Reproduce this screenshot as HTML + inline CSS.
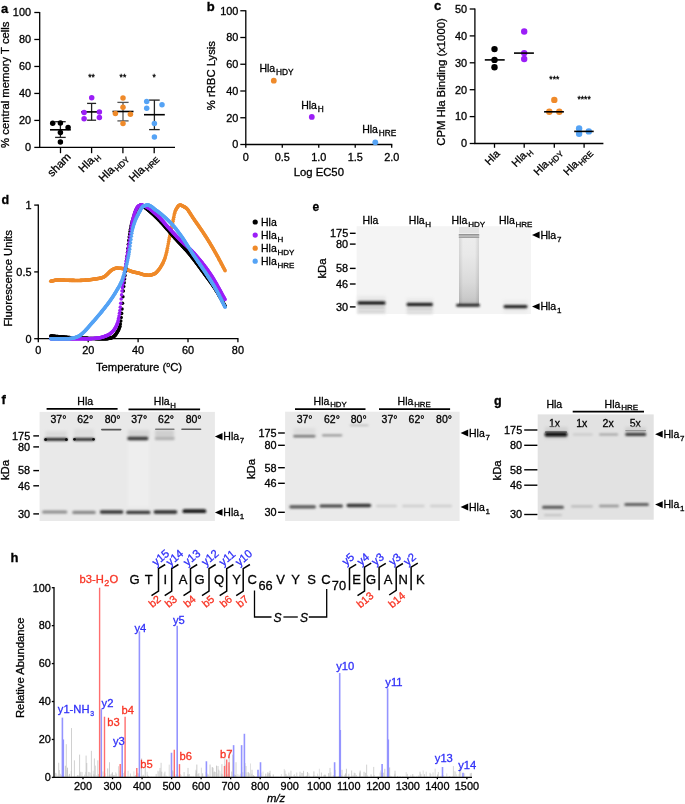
<!DOCTYPE html>
<html><head><meta charset="utf-8"><style>
html,body{margin:0;padding:0;background:#fff;}
body{width:685px;height:804px;overflow:hidden;}
text{stroke-width:0.3px;}
svg{display:block;font-family:"Liberation Sans",sans-serif;-webkit-font-smoothing:antialiased;will-change:transform;}
</style></head><body>
<svg width="685" height="804" viewBox="0 0 685 804">
<defs>
<filter id="b1" x="-10%" y="-300%" width="120%" height="700%"><feGaussianBlur stdDeviation="0.75"/></filter>
<filter id="b3" x="-10%" y="-300%" width="120%" height="700%"><feGaussianBlur stdDeviation="0.8"/></filter>
<filter id="b2" x="-20%" y="-50%" width="140%" height="200%"><feGaussianBlur stdDeviation="1.5"/></filter>
</defs>
<rect width="685" height="804" fill="#fff"/>
<text x="1" y="12.9" font-size="13" stroke="#000" font-weight="bold" >a</text>
<line x1="39.7" y1="11.9" x2="39.7" y2="148" stroke="#000" stroke-width="1.3" />
<line x1="39.1" y1="147.4" x2="175" y2="147.4" stroke="#000" stroke-width="1.3" />
<line x1="34.3" y1="147.4" x2="39.7" y2="147.4" stroke="#000" stroke-width="1.3" />
<text x="31" y="151.2" font-size="10.9" text-anchor="end" stroke="#000" >0</text>
<line x1="34.3" y1="120.42" x2="39.7" y2="120.42" stroke="#000" stroke-width="1.3" />
<text x="31" y="124.22" font-size="10.9" text-anchor="end" stroke="#000" >20</text>
<line x1="34.3" y1="93.44" x2="39.7" y2="93.44" stroke="#000" stroke-width="1.3" />
<text x="31" y="97.24" font-size="10.9" text-anchor="end" stroke="#000" >40</text>
<line x1="34.3" y1="66.46" x2="39.7" y2="66.46" stroke="#000" stroke-width="1.3" />
<text x="31" y="70.26" font-size="10.9" text-anchor="end" stroke="#000" >60</text>
<line x1="34.3" y1="39.48" x2="39.7" y2="39.48" stroke="#000" stroke-width="1.3" />
<text x="31" y="43.28" font-size="10.9" text-anchor="end" stroke="#000" >80</text>
<line x1="34.3" y1="12.5" x2="39.7" y2="12.5" stroke="#000" stroke-width="1.3" />
<text x="31" y="16.3" font-size="10.9" text-anchor="end" stroke="#000" >100</text>
<line x1="60.5" y1="147.4" x2="60.5" y2="153.2" stroke="#000" stroke-width="1.3" />
<line x1="91.6" y1="147.4" x2="91.6" y2="153.2" stroke="#000" stroke-width="1.3" />
<line x1="122.9" y1="147.4" x2="122.9" y2="153.2" stroke="#000" stroke-width="1.3" />
<line x1="154.2" y1="147.4" x2="154.2" y2="153.2" stroke="#000" stroke-width="1.3" />
<text x="9.1" y="84.7" font-size="11.3" text-anchor="middle" stroke="#000" transform="rotate(-90 9.1 84.7)" >% central memory T cells</text>
<text x="71.5" y="157.6" font-size="11.3" text-anchor="end" stroke="#000" transform="rotate(-45 71.5 157.6)" >sham</text>
<text x="99.6" y="156.3" font-size="11.3" text-anchor="end" stroke="#000" transform="rotate(-45 99.6 156.3)" >Hla<tspan font-size="8.0" dx="0.8" dy="3.0">H</tspan></text>
<text x="127.8" y="158" font-size="11.3" text-anchor="end" stroke="#000" transform="rotate(-45 127.8 158)" >Hla<tspan font-size="8.0" dx="0.8" dy="3.0">HDY</tspan></text>
<text x="158" y="158" font-size="11.3" text-anchor="end" stroke="#000" transform="rotate(-45 158 158)" >Hla<tspan font-size="8.0" dx="0.8" dy="3.0">HRE</tspan></text>
<line x1="60.4" y1="121.7" x2="60.4" y2="137.4" stroke="#222" stroke-width="1.3" />
<line x1="55.1" y1="121.7" x2="65.7" y2="121.7" stroke="#222" stroke-width="1.3" />
<line x1="55.1" y1="137.4" x2="65.7" y2="137.4" stroke="#222" stroke-width="1.3" />
<line x1="50" y1="129.8" x2="70.8" y2="129.8" stroke="#000" stroke-width="1.6" />
<circle cx="52.7" cy="123.2" r="2.75" fill="#000"/>
<circle cx="60.4" cy="123" r="2.75" fill="#000"/>
<circle cx="68.1" cy="127.4" r="2.75" fill="#000"/>
<circle cx="60.4" cy="132.6" r="2.75" fill="#000"/>
<circle cx="60.4" cy="142.1" r="2.75" fill="#000"/>
<line x1="91.6" y1="103.4" x2="91.6" y2="120.2" stroke="#222" stroke-width="1.3" />
<line x1="87.1" y1="103.4" x2="96.1" y2="103.4" stroke="#222" stroke-width="1.3" />
<line x1="87.1" y1="120.2" x2="96.1" y2="120.2" stroke="#222" stroke-width="1.3" />
<line x1="81.2" y1="111.9" x2="102" y2="111.9" stroke="#000" stroke-width="1.6" />
<circle cx="91.7" cy="97.7" r="2.75" fill="#9B1EF7"/>
<circle cx="84.1" cy="112.6" r="2.75" fill="#9B1EF7"/>
<circle cx="99.4" cy="111.9" r="2.75" fill="#9B1EF7"/>
<circle cx="84.1" cy="118.7" r="2.75" fill="#9B1EF7"/>
<circle cx="99.4" cy="117.6" r="2.75" fill="#9B1EF7"/>
<line x1="123" y1="102.4" x2="123" y2="120.9" stroke="#555" stroke-width="1.3" />
<line x1="117.4" y1="102.4" x2="128.6" y2="102.4" stroke="#555" stroke-width="1.3" />
<line x1="117.4" y1="120.9" x2="128.6" y2="120.9" stroke="#555" stroke-width="1.3" />
<line x1="112.5" y1="111.5" x2="133.5" y2="111.5" stroke="#000" stroke-width="1.6" />
<circle cx="123" cy="98" r="2.75" fill="#EF8A2A"/>
<circle cx="123" cy="107.3" r="2.75" fill="#EF8A2A"/>
<circle cx="115.4" cy="113.6" r="2.75" fill="#EF8A2A"/>
<circle cx="130.4" cy="114.3" r="2.75" fill="#EF8A2A"/>
<circle cx="123" cy="123.5" r="2.75" fill="#EF8A2A"/>
<line x1="154.4" y1="100.1" x2="154.4" y2="129.6" stroke="#222" stroke-width="1.3" />
<line x1="149.1" y1="100.1" x2="159.7" y2="100.1" stroke="#222" stroke-width="1.3" />
<line x1="149.1" y1="129.6" x2="159.7" y2="129.6" stroke="#222" stroke-width="1.3" />
<line x1="144" y1="114.7" x2="164.8" y2="114.7" stroke="#000" stroke-width="1.6" />
<circle cx="146.7" cy="101.6" r="2.75" fill="#55A3F5"/>
<circle cx="146.7" cy="108.2" r="2.75" fill="#55A3F5"/>
<circle cx="162" cy="104.7" r="2.75" fill="#55A3F5"/>
<circle cx="154.4" cy="123.5" r="2.75" fill="#55A3F5"/>
<circle cx="154.4" cy="136.9" r="2.75" fill="#55A3F5"/>
<text x="91.6" y="80" font-size="8.5" text-anchor="middle" stroke="#000" >**</text>
<text x="122.9" y="80" font-size="8.5" text-anchor="middle" stroke="#000" >**</text>
<text x="154.2" y="80" font-size="8.5" text-anchor="middle" stroke="#000" >*</text>
<text x="206.8" y="10.6" font-size="13" stroke="#000" font-weight="bold" >b</text>
<line x1="245.8" y1="10.15" x2="245.8" y2="145.1" stroke="#000" stroke-width="1.3" />
<line x1="245.2" y1="144.5" x2="392.3" y2="144.5" stroke="#000" stroke-width="1.3" />
<line x1="240.3" y1="144.5" x2="245.8" y2="144.5" stroke="#000" stroke-width="1.3" />
<text x="238.3" y="148.3" font-size="10.9" text-anchor="end" stroke="#000" >0</text>
<line x1="240.3" y1="117.75" x2="245.8" y2="117.75" stroke="#000" stroke-width="1.3" />
<text x="238.3" y="121.55" font-size="10.9" text-anchor="end" stroke="#000" >20</text>
<line x1="240.3" y1="91" x2="245.8" y2="91" stroke="#000" stroke-width="1.3" />
<text x="238.3" y="94.8" font-size="10.9" text-anchor="end" stroke="#000" >40</text>
<line x1="240.3" y1="64.25" x2="245.8" y2="64.25" stroke="#000" stroke-width="1.3" />
<text x="238.3" y="68.05" font-size="10.9" text-anchor="end" stroke="#000" >60</text>
<line x1="240.3" y1="37.5" x2="245.8" y2="37.5" stroke="#000" stroke-width="1.3" />
<text x="238.3" y="41.3" font-size="10.9" text-anchor="end" stroke="#000" >80</text>
<line x1="240.3" y1="10.75" x2="245.8" y2="10.75" stroke="#000" stroke-width="1.3" />
<text x="238.3" y="14.55" font-size="10.9" text-anchor="end" stroke="#000" >100</text>
<line x1="245.8" y1="144.5" x2="245.8" y2="147.8" stroke="#000" stroke-width="1.3" />
<text x="245.8" y="161" font-size="10.9" text-anchor="middle" stroke="#000" >0</text>
<line x1="282.28" y1="144.5" x2="282.28" y2="147.8" stroke="#000" stroke-width="1.3" />
<text x="282.28" y="161" font-size="10.9" text-anchor="middle" stroke="#000" >0.5</text>
<line x1="318.75" y1="144.5" x2="318.75" y2="147.8" stroke="#000" stroke-width="1.3" />
<text x="318.75" y="161" font-size="10.9" text-anchor="middle" stroke="#000" >1.0</text>
<line x1="355.23" y1="144.5" x2="355.23" y2="147.8" stroke="#000" stroke-width="1.3" />
<text x="355.23" y="161" font-size="10.9" text-anchor="middle" stroke="#000" >1.5</text>
<line x1="391.7" y1="144.5" x2="391.7" y2="147.8" stroke="#000" stroke-width="1.3" />
<text x="391.7" y="161" font-size="10.9" text-anchor="middle" stroke="#000" >2.0</text>
<text x="318.8" y="176" font-size="11.3" text-anchor="middle" stroke="#000" >Log EC50</text>
<text x="215.4" y="75.6" font-size="11.3" text-anchor="middle" stroke="#000" transform="rotate(-90 215.4 75.6)" >% rRBC Lysis</text>
<circle cx="273.8" cy="80.7" r="2.9" fill="#EF8A2A"/>
<circle cx="311.8" cy="116.9" r="2.9" fill="#9B1EF7"/>
<circle cx="375.3" cy="142.3" r="2.9" fill="#55A3F5"/>
<text x="259.4" y="72" font-size="10.5" stroke="#000" >Hla<tspan font-size="8.3" dx="0.8" dy="3.0">HDY</tspan></text>
<text x="301.2" y="109" font-size="10.5" stroke="#000" >Hla<tspan font-size="8.3" dx="0.8" dy="3.0">H</tspan></text>
<text x="362.2" y="133.1" font-size="10.5" stroke="#000" >Hla<tspan font-size="8.3" dx="0.8" dy="3.0">HRE</tspan></text>
<text x="434" y="9.8" font-size="13" stroke="#000" font-weight="bold" >c</text>
<line x1="474.9" y1="8.4" x2="474.9" y2="144.1" stroke="#000" stroke-width="1.3" />
<line x1="474.3" y1="143.5" x2="603.4" y2="143.5" stroke="#000" stroke-width="1.3" />
<line x1="469.7" y1="143.5" x2="474.9" y2="143.5" stroke="#000" stroke-width="1.3" />
<text x="467" y="147.3" font-size="10.9" text-anchor="end" stroke="#000" >0</text>
<line x1="469.7" y1="116.6" x2="474.9" y2="116.6" stroke="#000" stroke-width="1.3" />
<text x="467" y="120.4" font-size="10.9" text-anchor="end" stroke="#000" >10</text>
<line x1="469.7" y1="89.7" x2="474.9" y2="89.7" stroke="#000" stroke-width="1.3" />
<text x="467" y="93.5" font-size="10.9" text-anchor="end" stroke="#000" >20</text>
<line x1="469.7" y1="62.8" x2="474.9" y2="62.8" stroke="#000" stroke-width="1.3" />
<text x="467" y="66.6" font-size="10.9" text-anchor="end" stroke="#000" >30</text>
<line x1="469.7" y1="35.9" x2="474.9" y2="35.9" stroke="#000" stroke-width="1.3" />
<text x="467" y="39.7" font-size="10.9" text-anchor="end" stroke="#000" >40</text>
<line x1="469.7" y1="9" x2="474.9" y2="9" stroke="#000" stroke-width="1.3" />
<text x="467" y="12.8" font-size="10.9" text-anchor="end" stroke="#000" >50</text>
<line x1="494.5" y1="143.5" x2="494.5" y2="147.8" stroke="#000" stroke-width="1.3" />
<line x1="524.2" y1="143.5" x2="524.2" y2="147.8" stroke="#000" stroke-width="1.3" />
<line x1="554.3" y1="143.5" x2="554.3" y2="147.8" stroke="#000" stroke-width="1.3" />
<line x1="584.1" y1="143.5" x2="584.1" y2="147.8" stroke="#000" stroke-width="1.3" />
<text x="445.3" y="82" font-size="11.3" text-anchor="middle" stroke="#000" transform="rotate(-90 445.3 82)" >CPM Hla Binding (x1000)</text>
<text x="500.5" y="154.4" font-size="10.7" text-anchor="end" stroke="#000" transform="rotate(-45 500.5 154.4)" >Hla</text>
<text x="532" y="151.4" font-size="10.7" text-anchor="end" stroke="#000" transform="rotate(-45 532 151.4)" >Hla<tspan font-size="8.0" dx="0.8" dy="3.0">H</tspan></text>
<text x="561.8" y="152.2" font-size="10.7" text-anchor="end" stroke="#000" transform="rotate(-45 561.8 152.2)" >Hla<tspan font-size="8.0" dx="0.8" dy="3.0">HDY</tspan></text>
<text x="591.6" y="152.2" font-size="10.7" text-anchor="end" stroke="#000" transform="rotate(-45 591.6 152.2)" >Hla<tspan font-size="8.0" dx="0.8" dy="3.0">HRE</tspan></text>
<circle cx="494.5" cy="49.1" r="3.2" fill="#000"/>
<circle cx="494.5" cy="59.9" r="3.2" fill="#000"/>
<circle cx="494.5" cy="67.2" r="3.2" fill="#000"/>
<line x1="484.8" y1="59.9" x2="504.7" y2="59.9" stroke="#000" stroke-width="1.6" />
<circle cx="524.2" cy="31.5" r="3.2" fill="#9B1EF7"/>
<circle cx="524.2" cy="53.1" r="3.2" fill="#9B1EF7"/>
<circle cx="524.2" cy="59" r="3.2" fill="#9B1EF7"/>
<line x1="514" y1="53.1" x2="533.9" y2="53.1" stroke="#000" stroke-width="1.6" />
<circle cx="554.3" cy="99.9" r="3.2" fill="#EF8A2A"/>
<circle cx="549.3" cy="111.8" r="3.2" fill="#EF8A2A"/>
<circle cx="559.3" cy="111.8" r="3.2" fill="#EF8A2A"/>
<line x1="544.1" y1="111.8" x2="563.9" y2="111.8" stroke="#000" stroke-width="1.6" />
<circle cx="579.1" cy="128.5" r="3.2" fill="#55A3F5"/>
<circle cx="579.1" cy="133.7" r="3.2" fill="#55A3F5"/>
<circle cx="588.8" cy="131.4" r="3.2" fill="#55A3F5"/>
<line x1="574.2" y1="131.4" x2="593.7" y2="131.4" stroke="#000" stroke-width="1.6" />
<text x="554.3" y="82.3" font-size="8.5" text-anchor="middle" stroke="#000" >***</text>
<text x="584.1" y="101.6" font-size="8.5" text-anchor="middle" stroke="#000" >****</text>
<text x="1.4" y="204" font-size="12.5" stroke="#000" font-weight="bold" >d</text>
<line x1="38.3" y1="204.5" x2="38.3" y2="339.3" stroke="#000" stroke-width="1.3" />
<line x1="37.7" y1="338.7" x2="238.5" y2="338.7" stroke="#000" stroke-width="1.3" />
<line x1="34.2" y1="338.7" x2="38.3" y2="338.7" stroke="#000" stroke-width="1.3" />
<text x="31.5" y="342.5" font-size="10.9" text-anchor="end" stroke="#000" >0</text>
<line x1="34.2" y1="271.9" x2="38.3" y2="271.9" stroke="#000" stroke-width="1.3" />
<text x="31.5" y="275.7" font-size="10.9" text-anchor="end" stroke="#000" >0.5</text>
<line x1="34.2" y1="205.1" x2="38.3" y2="205.1" stroke="#000" stroke-width="1.3" />
<text x="31.5" y="208.9" font-size="10.9" text-anchor="end" stroke="#000" >1</text>
<line x1="38.3" y1="338.7" x2="38.3" y2="342.3" stroke="#000" stroke-width="1.3" />
<text x="38.3" y="353.8" font-size="10.9" text-anchor="middle" stroke="#000" >0</text>
<line x1="88.2" y1="338.7" x2="88.2" y2="342.3" stroke="#000" stroke-width="1.3" />
<text x="88.2" y="353.8" font-size="10.9" text-anchor="middle" stroke="#000" >20</text>
<line x1="138.1" y1="338.7" x2="138.1" y2="342.3" stroke="#000" stroke-width="1.3" />
<text x="138.1" y="353.8" font-size="10.9" text-anchor="middle" stroke="#000" >40</text>
<line x1="188" y1="338.7" x2="188" y2="342.3" stroke="#000" stroke-width="1.3" />
<text x="188" y="353.8" font-size="10.9" text-anchor="middle" stroke="#000" >60</text>
<line x1="237.9" y1="338.7" x2="237.9" y2="342.3" stroke="#000" stroke-width="1.3" />
<text x="237.9" y="353.8" font-size="10.9" text-anchor="middle" stroke="#000" >80</text>
<text x="139" y="370.5" font-size="11.3" text-anchor="middle" stroke="#000" >Temperature (<tspan font-size="7" dy="-3.5">o</tspan><tspan dy="3.5">C)</tspan></text>
<text x="12" y="278.5" font-size="11.3" text-anchor="middle" stroke="#000" transform="rotate(-90 12 278.5)" >Fluorescence Units</text>
<g fill="#EF8A2A"><circle cx="50.77" cy="281.25" r="1.8"/><circle cx="51.2" cy="281.17" r="1.8"/><circle cx="51.62" cy="281.09" r="1.8"/><circle cx="52.05" cy="280.99" r="1.8"/><circle cx="52.47" cy="280.9" r="1.8"/><circle cx="52.9" cy="280.8" r="1.8"/><circle cx="53.32" cy="280.7" r="1.8"/><circle cx="53.74" cy="280.6" r="1.8"/><circle cx="54.17" cy="280.5" r="1.8"/><circle cx="54.59" cy="280.4" r="1.8"/><circle cx="55.02" cy="280.31" r="1.8"/><circle cx="55.44" cy="280.22" r="1.8"/><circle cx="55.86" cy="280.15" r="1.8"/><circle cx="56.29" cy="280.08" r="1.8"/><circle cx="56.71" cy="280.02" r="1.8"/><circle cx="57.14" cy="279.97" r="1.8"/><circle cx="57.56" cy="279.94" r="1.8"/><circle cx="57.99" cy="279.92" r="1.8"/><circle cx="58.41" cy="279.92" r="1.8"/><circle cx="58.83" cy="279.92" r="1.8"/><circle cx="59.26" cy="279.93" r="1.8"/><circle cx="59.68" cy="279.93" r="1.8"/><circle cx="60.11" cy="279.95" r="1.8"/><circle cx="60.53" cy="279.96" r="1.8"/><circle cx="60.95" cy="279.98" r="1.8"/><circle cx="61.38" cy="280" r="1.8"/><circle cx="61.8" cy="280.02" r="1.8"/><circle cx="62.23" cy="280.04" r="1.8"/><circle cx="62.65" cy="280.06" r="1.8"/><circle cx="63.08" cy="280.08" r="1.8"/><circle cx="63.5" cy="280.11" r="1.8"/><circle cx="63.92" cy="280.13" r="1.8"/><circle cx="64.35" cy="280.15" r="1.8"/><circle cx="64.77" cy="280.18" r="1.8"/><circle cx="65.2" cy="280.2" r="1.8"/><circle cx="65.62" cy="280.22" r="1.8"/><circle cx="66.04" cy="280.24" r="1.8"/><circle cx="66.47" cy="280.26" r="1.8"/><circle cx="66.89" cy="280.28" r="1.8"/><circle cx="67.32" cy="280.29" r="1.8"/><circle cx="67.74" cy="280.3" r="1.8"/><circle cx="68.17" cy="280.32" r="1.8"/><circle cx="68.59" cy="280.32" r="1.8"/><circle cx="69.01" cy="280.33" r="1.8"/><circle cx="69.44" cy="280.34" r="1.8"/><circle cx="69.86" cy="280.35" r="1.8"/><circle cx="70.29" cy="280.36" r="1.8"/><circle cx="70.71" cy="280.37" r="1.8"/><circle cx="71.13" cy="280.37" r="1.8"/><circle cx="71.56" cy="280.38" r="1.8"/><circle cx="71.98" cy="280.39" r="1.8"/><circle cx="72.41" cy="280.4" r="1.8"/><circle cx="72.83" cy="280.4" r="1.8"/><circle cx="73.25" cy="280.41" r="1.8"/><circle cx="73.68" cy="280.42" r="1.8"/><circle cx="74.1" cy="280.42" r="1.8"/><circle cx="74.53" cy="280.43" r="1.8"/><circle cx="74.95" cy="280.43" r="1.8"/><circle cx="75.38" cy="280.44" r="1.8"/><circle cx="75.8" cy="280.44" r="1.8"/><circle cx="76.22" cy="280.44" r="1.8"/><circle cx="76.65" cy="280.45" r="1.8"/><circle cx="77.07" cy="280.45" r="1.8"/><circle cx="77.5" cy="280.45" r="1.8"/><circle cx="77.92" cy="280.45" r="1.8"/><circle cx="78.34" cy="280.45" r="1.8"/><circle cx="78.77" cy="280.45" r="1.8"/><circle cx="79.19" cy="280.44" r="1.8"/><circle cx="79.62" cy="280.44" r="1.8"/><circle cx="80.04" cy="280.43" r="1.8"/><circle cx="80.47" cy="280.41" r="1.8"/><circle cx="80.89" cy="280.4" r="1.8"/><circle cx="81.31" cy="280.38" r="1.8"/><circle cx="81.74" cy="280.36" r="1.8"/><circle cx="82.16" cy="280.34" r="1.8"/><circle cx="82.59" cy="280.32" r="1.8"/><circle cx="83.01" cy="280.29" r="1.8"/><circle cx="83.43" cy="280.27" r="1.8"/><circle cx="83.86" cy="280.24" r="1.8"/><circle cx="84.28" cy="280.21" r="1.8"/><circle cx="84.71" cy="280.18" r="1.8"/><circle cx="85.13" cy="280.15" r="1.8"/><circle cx="85.56" cy="280.12" r="1.8"/><circle cx="85.98" cy="280.09" r="1.8"/><circle cx="86.4" cy="280.06" r="1.8"/><circle cx="86.83" cy="280.02" r="1.8"/><circle cx="87.25" cy="279.99" r="1.8"/><circle cx="87.68" cy="279.96" r="1.8"/><circle cx="88.1" cy="279.92" r="1.8"/><circle cx="88.52" cy="279.89" r="1.8"/><circle cx="88.95" cy="279.85" r="1.8"/><circle cx="89.37" cy="279.8" r="1.8"/><circle cx="89.8" cy="279.75" r="1.8"/><circle cx="90.22" cy="279.7" r="1.8"/><circle cx="90.65" cy="279.64" r="1.8"/><circle cx="91.07" cy="279.58" r="1.8"/><circle cx="91.49" cy="279.52" r="1.8"/><circle cx="91.92" cy="279.46" r="1.8"/><circle cx="92.34" cy="279.39" r="1.8"/><circle cx="92.77" cy="279.33" r="1.8"/><circle cx="93.19" cy="279.26" r="1.8"/><circle cx="93.61" cy="279.2" r="1.8"/><circle cx="94.04" cy="279.14" r="1.8"/><circle cx="94.46" cy="279.08" r="1.8"/><circle cx="94.89" cy="279.02" r="1.8"/><circle cx="95.31" cy="278.96" r="1.8"/><circle cx="95.73" cy="278.9" r="1.8"/><circle cx="96.16" cy="278.84" r="1.8"/><circle cx="96.58" cy="278.79" r="1.8"/><circle cx="97.01" cy="278.72" r="1.8"/><circle cx="97.43" cy="278.66" r="1.8"/><circle cx="97.86" cy="278.6" r="1.8"/><circle cx="98.28" cy="278.53" r="1.8"/><circle cx="98.7" cy="278.45" r="1.8"/><circle cx="99.13" cy="278.37" r="1.8"/><circle cx="99.55" cy="278.29" r="1.8"/><circle cx="99.98" cy="278.2" r="1.8"/><circle cx="100.4" cy="278.1" r="1.8"/><circle cx="100.82" cy="278" r="1.8"/><circle cx="101.25" cy="277.9" r="1.8"/><circle cx="101.67" cy="277.78" r="1.8"/><circle cx="102.1" cy="277.66" r="1.8"/><circle cx="102.52" cy="277.52" r="1.8"/><circle cx="102.95" cy="277.37" r="1.8"/><circle cx="103.37" cy="277.21" r="1.8"/><circle cx="103.79" cy="277.03" r="1.8"/><circle cx="104.22" cy="276.82" r="1.8"/><circle cx="104.64" cy="276.55" r="1.8"/><circle cx="105.07" cy="276.23" r="1.8"/><circle cx="105.49" cy="275.87" r="1.8"/><circle cx="105.91" cy="275.49" r="1.8"/><circle cx="106.34" cy="275.1" r="1.8"/><circle cx="106.76" cy="274.71" r="1.8"/><circle cx="107.19" cy="274.32" r="1.8"/><circle cx="107.61" cy="273.91" r="1.8"/><circle cx="108.04" cy="273.47" r="1.8"/><circle cx="108.46" cy="273.02" r="1.8"/><circle cx="108.88" cy="272.58" r="1.8"/><circle cx="109.31" cy="272.15" r="1.8"/><circle cx="109.73" cy="271.74" r="1.8"/><circle cx="110.16" cy="271.37" r="1.8"/><circle cx="110.58" cy="271.01" r="1.8"/><circle cx="111" cy="270.66" r="1.8"/><circle cx="111.43" cy="270.32" r="1.8"/><circle cx="111.85" cy="270" r="1.8"/><circle cx="112.28" cy="269.71" r="1.8"/><circle cx="112.7" cy="269.45" r="1.8"/><circle cx="113.13" cy="269.24" r="1.8"/><circle cx="113.55" cy="269.05" r="1.8"/><circle cx="113.97" cy="268.87" r="1.8"/><circle cx="114.4" cy="268.69" r="1.8"/><circle cx="114.82" cy="268.53" r="1.8"/><circle cx="115.25" cy="268.39" r="1.8"/><circle cx="115.67" cy="268.28" r="1.8"/><circle cx="116.09" cy="268.2" r="1.8"/><circle cx="116.52" cy="268.16" r="1.8"/><circle cx="116.94" cy="268.16" r="1.8"/><circle cx="117.37" cy="268.16" r="1.8"/><circle cx="117.79" cy="268.17" r="1.8"/><circle cx="118.21" cy="268.18" r="1.8"/><circle cx="118.64" cy="268.2" r="1.8"/><circle cx="119.06" cy="268.21" r="1.8"/><circle cx="119.49" cy="268.23" r="1.8"/><circle cx="119.91" cy="268.25" r="1.8"/><circle cx="120.34" cy="268.28" r="1.8"/><circle cx="120.76" cy="268.3" r="1.8"/><circle cx="121.18" cy="268.34" r="1.8"/><circle cx="121.61" cy="268.39" r="1.8"/><circle cx="122.03" cy="268.46" r="1.8"/><circle cx="122.46" cy="268.54" r="1.8"/><circle cx="122.88" cy="268.63" r="1.8"/><circle cx="123.3" cy="268.73" r="1.8"/><circle cx="123.73" cy="268.84" r="1.8"/><circle cx="124.15" cy="268.95" r="1.8"/><circle cx="124.58" cy="269.07" r="1.8"/><circle cx="125" cy="269.19" r="1.8"/><circle cx="125.43" cy="269.3" r="1.8"/><circle cx="125.85" cy="269.42" r="1.8"/><circle cx="126.27" cy="269.54" r="1.8"/><circle cx="126.7" cy="269.66" r="1.8"/><circle cx="127.12" cy="269.79" r="1.8"/><circle cx="127.55" cy="269.93" r="1.8"/><circle cx="127.97" cy="270.08" r="1.8"/><circle cx="128.39" cy="270.23" r="1.8"/><circle cx="128.82" cy="270.39" r="1.8"/><circle cx="129.24" cy="270.55" r="1.8"/><circle cx="129.67" cy="270.71" r="1.8"/><circle cx="130.09" cy="270.88" r="1.8"/><circle cx="130.52" cy="271.04" r="1.8"/><circle cx="130.94" cy="271.19" r="1.8"/><circle cx="131.36" cy="271.35" r="1.8"/><circle cx="131.79" cy="271.49" r="1.8"/><circle cx="132.21" cy="271.63" r="1.8"/><circle cx="132.64" cy="271.77" r="1.8"/><circle cx="133.06" cy="271.89" r="1.8"/><circle cx="133.48" cy="272" r="1.8"/><circle cx="133.91" cy="272.1" r="1.8"/><circle cx="134.33" cy="272.2" r="1.8"/><circle cx="134.76" cy="272.3" r="1.8"/><circle cx="135.18" cy="272.39" r="1.8"/><circle cx="135.6" cy="272.47" r="1.8"/><circle cx="136.03" cy="272.56" r="1.8"/><circle cx="136.45" cy="272.65" r="1.8"/><circle cx="136.88" cy="272.73" r="1.8"/><circle cx="137.3" cy="272.82" r="1.8"/><circle cx="137.73" cy="272.91" r="1.8"/><circle cx="138.15" cy="273.01" r="1.8"/><circle cx="138.57" cy="273.11" r="1.8"/><circle cx="139" cy="273.21" r="1.8"/><circle cx="139.42" cy="273.33" r="1.8"/><circle cx="139.85" cy="273.45" r="1.8"/><circle cx="140.27" cy="273.6" r="1.8"/><circle cx="140.69" cy="273.75" r="1.8"/><circle cx="141.12" cy="273.9" r="1.8"/><circle cx="141.54" cy="274.05" r="1.8"/><circle cx="141.97" cy="274.21" r="1.8"/><circle cx="142.39" cy="274.35" r="1.8"/><circle cx="142.82" cy="274.49" r="1.8"/><circle cx="143.24" cy="274.61" r="1.8"/><circle cx="143.66" cy="274.72" r="1.8"/><circle cx="144.09" cy="274.8" r="1.8"/><circle cx="144.51" cy="274.86" r="1.8"/><circle cx="144.94" cy="274.92" r="1.8"/><circle cx="145.36" cy="274.98" r="1.8"/><circle cx="145.78" cy="275.03" r="1.8"/><circle cx="146.21" cy="275.08" r="1.8"/><circle cx="146.63" cy="275.12" r="1.8"/><circle cx="147.06" cy="275.16" r="1.8"/><circle cx="147.48" cy="275.19" r="1.8"/><circle cx="147.91" cy="275.22" r="1.8"/><circle cx="148.33" cy="275.23" r="1.8"/><circle cx="148.75" cy="275.24" r="1.8"/><circle cx="149.18" cy="275.23" r="1.8"/><circle cx="149.6" cy="275.2" r="1.8"/><circle cx="150.03" cy="275.16" r="1.8"/><circle cx="150.45" cy="275.09" r="1.8"/><circle cx="150.87" cy="275.01" r="1.8"/><circle cx="151.3" cy="274.91" r="1.8"/><circle cx="151.72" cy="274.8" r="1.8"/><circle cx="152.15" cy="274.67" r="1.8"/><circle cx="152.57" cy="274.54" r="1.8"/><circle cx="153" cy="274.39" r="1.8"/><circle cx="153.42" cy="274.23" r="1.8"/><circle cx="153.84" cy="274.07" r="1.8"/><circle cx="154.27" cy="273.89" r="1.8"/><circle cx="154.69" cy="273.71" r="1.8"/><circle cx="155.12" cy="273.48" r="1.8"/><circle cx="155.54" cy="273.17" r="1.8"/><circle cx="155.96" cy="272.81" r="1.8"/><circle cx="156.39" cy="272.4" r="1.8"/><circle cx="156.81" cy="271.96" r="1.8"/><circle cx="157.24" cy="271.49" r="1.8"/><circle cx="157.66" cy="271.02" r="1.8"/><circle cx="158.08" cy="270.54" r="1.8"/><circle cx="158.51" cy="270.04" r="1.8"/><circle cx="158.93" cy="269.5" r="1.8"/><circle cx="159.36" cy="268.93" r="1.8"/><circle cx="159.78" cy="268.33" r="1.8"/><circle cx="160.21" cy="267.7" r="1.8"/><circle cx="160.63" cy="267.04" r="1.8"/><circle cx="161.05" cy="266.36" r="1.8"/><circle cx="161.48" cy="265.64" r="1.8"/><circle cx="161.9" cy="264.91" r="1.8"/><circle cx="162.33" cy="264.15" r="1.8"/><circle cx="162.75" cy="263.34" r="1.8"/><circle cx="163.17" cy="262.47" r="1.8"/><circle cx="163.6" cy="261.55" r="1.8"/><circle cx="164.02" cy="260.56" r="1.8"/><circle cx="164.45" cy="259.49" r="1.8"/><circle cx="164.87" cy="258.3" r="1.8"/><circle cx="165.3" cy="256.99" r="1.8"/><circle cx="165.72" cy="255.57" r="1.8"/><circle cx="166.14" cy="254.03" r="1.8"/><circle cx="166.57" cy="252.35" r="1.8"/><circle cx="166.99" cy="250.42" r="1.8"/><circle cx="167.42" cy="248.32" r="1.8"/><circle cx="167.84" cy="246.1" r="1.8"/><circle cx="168.26" cy="243.82" r="1.8"/><circle cx="168.69" cy="241.55" r="1.8"/><circle cx="169.11" cy="239.36" r="1.8"/><circle cx="169.54" cy="237.28" r="1.8"/><circle cx="169.96" cy="235.22" r="1.8"/><circle cx="170.39" cy="233.16" r="1.8"/><circle cx="170.81" cy="231.11" r="1.8"/><circle cx="171.23" cy="229.07" r="1.8"/><circle cx="171.66" cy="227.07" r="1.8"/><circle cx="172.08" cy="225.1" r="1.8"/><circle cx="172.51" cy="223.16" r="1.8"/><circle cx="172.93" cy="221.26" r="1.8"/><circle cx="173.35" cy="219.23" r="1.8"/><circle cx="173.78" cy="217.14" r="1.8"/><circle cx="174.2" cy="215.1" r="1.8"/><circle cx="174.63" cy="213.24" r="1.8"/><circle cx="175.05" cy="211.68" r="1.8"/><circle cx="175.48" cy="210.54" r="1.8"/><circle cx="175.9" cy="209.73" r="1.8"/><circle cx="176.32" cy="208.95" r="1.8"/><circle cx="176.75" cy="208.22" r="1.8"/><circle cx="177.17" cy="207.53" r="1.8"/><circle cx="177.6" cy="206.92" r="1.8"/><circle cx="178.02" cy="206.37" r="1.8"/><circle cx="178.44" cy="205.91" r="1.8"/><circle cx="178.87" cy="205.55" r="1.8"/><circle cx="179.29" cy="205.28" r="1.8"/><circle cx="179.72" cy="205.13" r="1.8"/><circle cx="180.14" cy="205.1" r="1.8"/><circle cx="180.56" cy="205.15" r="1.8"/><circle cx="180.99" cy="205.26" r="1.8"/><circle cx="181.41" cy="205.41" r="1.8"/><circle cx="181.84" cy="205.59" r="1.8"/><circle cx="182.26" cy="205.79" r="1.8"/><circle cx="182.69" cy="206.01" r="1.8"/><circle cx="183.11" cy="206.23" r="1.8"/><circle cx="183.53" cy="206.45" r="1.8"/><circle cx="183.96" cy="206.67" r="1.8"/><circle cx="184.38" cy="206.9" r="1.8"/><circle cx="184.81" cy="207.15" r="1.8"/><circle cx="185.23" cy="207.43" r="1.8"/><circle cx="185.65" cy="207.72" r="1.8"/><circle cx="186.08" cy="208.05" r="1.8"/><circle cx="186.5" cy="208.39" r="1.8"/><circle cx="186.93" cy="208.77" r="1.8"/><circle cx="187.35" cy="209.2" r="1.8"/><circle cx="187.78" cy="209.73" r="1.8"/><circle cx="188.2" cy="210.32" r="1.8"/><circle cx="188.62" cy="210.96" r="1.8"/><circle cx="189.05" cy="211.63" r="1.8"/><circle cx="189.47" cy="212.31" r="1.8"/><circle cx="189.9" cy="212.97" r="1.8"/><circle cx="190.32" cy="213.61" r="1.8"/><circle cx="190.74" cy="214.26" r="1.8"/><circle cx="191.17" cy="214.93" r="1.8"/><circle cx="191.59" cy="215.61" r="1.8"/><circle cx="192.02" cy="216.28" r="1.8"/><circle cx="192.44" cy="216.95" r="1.8"/><circle cx="192.87" cy="217.6" r="1.8"/><circle cx="193.29" cy="218.24" r="1.8"/><circle cx="193.71" cy="218.86" r="1.8"/><circle cx="194.14" cy="219.48" r="1.8"/><circle cx="194.56" cy="220.09" r="1.8"/><circle cx="194.99" cy="220.7" r="1.8"/><circle cx="195.41" cy="221.3" r="1.8"/><circle cx="195.83" cy="221.9" r="1.8"/><circle cx="196.26" cy="222.5" r="1.8"/><circle cx="196.68" cy="223.1" r="1.8"/><circle cx="197.11" cy="223.7" r="1.8"/><circle cx="197.53" cy="224.3" r="1.8"/><circle cx="197.96" cy="224.91" r="1.8"/><circle cx="198.38" cy="225.53" r="1.8"/><circle cx="198.8" cy="226.15" r="1.8"/><circle cx="199.23" cy="226.77" r="1.8"/><circle cx="199.65" cy="227.39" r="1.8"/><circle cx="200.08" cy="228.01" r="1.8"/><circle cx="200.5" cy="228.63" r="1.8"/><circle cx="200.92" cy="229.25" r="1.8"/><circle cx="201.35" cy="229.87" r="1.8"/><circle cx="201.77" cy="230.49" r="1.8"/><circle cx="202.2" cy="231.12" r="1.8"/><circle cx="202.62" cy="231.75" r="1.8"/><circle cx="203.04" cy="232.37" r="1.8"/><circle cx="203.47" cy="233.01" r="1.8"/><circle cx="203.89" cy="233.64" r="1.8"/><circle cx="204.32" cy="234.28" r="1.8"/><circle cx="204.74" cy="234.92" r="1.8"/><circle cx="205.17" cy="235.57" r="1.8"/><circle cx="205.59" cy="236.22" r="1.8"/><circle cx="206.01" cy="236.88" r="1.8"/><circle cx="206.44" cy="237.54" r="1.8"/><circle cx="206.86" cy="238.21" r="1.8"/><circle cx="207.29" cy="238.89" r="1.8"/><circle cx="207.71" cy="239.57" r="1.8"/><circle cx="208.13" cy="240.25" r="1.8"/><circle cx="208.56" cy="240.94" r="1.8"/><circle cx="208.98" cy="241.64" r="1.8"/><circle cx="209.41" cy="242.34" r="1.8"/><circle cx="209.83" cy="243.04" r="1.8"/><circle cx="210.26" cy="243.75" r="1.8"/><circle cx="210.68" cy="244.46" r="1.8"/><circle cx="211.1" cy="245.18" r="1.8"/><circle cx="211.53" cy="245.9" r="1.8"/><circle cx="211.95" cy="246.62" r="1.8"/><circle cx="212.38" cy="247.35" r="1.8"/><circle cx="212.8" cy="248.08" r="1.8"/><circle cx="213.22" cy="248.81" r="1.8"/><circle cx="213.65" cy="249.55" r="1.8"/><circle cx="214.07" cy="250.29" r="1.8"/><circle cx="214.5" cy="251.04" r="1.8"/><circle cx="214.92" cy="251.78" r="1.8"/><circle cx="215.35" cy="252.53" r="1.8"/><circle cx="215.77" cy="253.28" r="1.8"/><circle cx="216.19" cy="254.04" r="1.8"/><circle cx="216.62" cy="254.79" r="1.8"/><circle cx="217.04" cy="255.55" r="1.8"/><circle cx="217.47" cy="256.31" r="1.8"/><circle cx="217.89" cy="257.08" r="1.8"/><circle cx="218.31" cy="257.85" r="1.8"/><circle cx="218.74" cy="258.63" r="1.8"/><circle cx="219.16" cy="259.41" r="1.8"/><circle cx="219.59" cy="260.2" r="1.8"/><circle cx="220.01" cy="260.99" r="1.8"/><circle cx="220.43" cy="261.79" r="1.8"/><circle cx="220.86" cy="262.59" r="1.8"/><circle cx="221.28" cy="263.39" r="1.8"/><circle cx="221.71" cy="264.2" r="1.8"/><circle cx="222.13" cy="265.01" r="1.8"/><circle cx="222.56" cy="265.82" r="1.8"/><circle cx="222.98" cy="266.63" r="1.8"/><circle cx="223.4" cy="267.44" r="1.8"/><circle cx="223.83" cy="268.25" r="1.8"/><circle cx="224.25" cy="269.06" r="1.8"/><circle cx="224.68" cy="269.87" r="1.8"/><circle cx="225.1" cy="270.67" r="1.8"/></g>
<g fill="#000"><circle cx="50.77" cy="336.03" r="1.8"/><circle cx="51.2" cy="336.06" r="1.8"/><circle cx="51.62" cy="336.1" r="1.8"/><circle cx="52.05" cy="336.14" r="1.8"/><circle cx="52.47" cy="336.17" r="1.8"/><circle cx="52.9" cy="336.21" r="1.8"/><circle cx="53.32" cy="336.25" r="1.8"/><circle cx="53.74" cy="336.29" r="1.8"/><circle cx="54.17" cy="336.32" r="1.8"/><circle cx="54.59" cy="336.36" r="1.8"/><circle cx="55.02" cy="336.4" r="1.8"/><circle cx="55.44" cy="336.43" r="1.8"/><circle cx="55.86" cy="336.47" r="1.8"/><circle cx="56.29" cy="336.51" r="1.8"/><circle cx="56.71" cy="336.55" r="1.8"/><circle cx="57.14" cy="336.58" r="1.8"/><circle cx="57.56" cy="336.62" r="1.8"/><circle cx="57.99" cy="336.66" r="1.8"/><circle cx="58.41" cy="336.69" r="1.8"/><circle cx="58.83" cy="336.73" r="1.8"/><circle cx="59.26" cy="336.77" r="1.8"/><circle cx="59.68" cy="336.8" r="1.8"/><circle cx="60.11" cy="336.84" r="1.8"/><circle cx="60.53" cy="336.87" r="1.8"/><circle cx="60.95" cy="336.91" r="1.8"/><circle cx="61.38" cy="336.94" r="1.8"/><circle cx="61.8" cy="336.98" r="1.8"/><circle cx="62.23" cy="337.01" r="1.8"/><circle cx="62.65" cy="337.05" r="1.8"/><circle cx="63.08" cy="337.08" r="1.8"/><circle cx="63.5" cy="337.12" r="1.8"/><circle cx="63.92" cy="337.15" r="1.8"/><circle cx="64.35" cy="337.19" r="1.8"/><circle cx="64.77" cy="337.22" r="1.8"/><circle cx="65.2" cy="337.26" r="1.8"/><circle cx="65.62" cy="337.29" r="1.8"/><circle cx="66.04" cy="337.33" r="1.8"/><circle cx="66.47" cy="337.37" r="1.8"/><circle cx="66.89" cy="337.4" r="1.8"/><circle cx="67.32" cy="337.44" r="1.8"/><circle cx="67.74" cy="337.47" r="1.8"/><circle cx="68.17" cy="337.51" r="1.8"/><circle cx="68.59" cy="337.54" r="1.8"/><circle cx="69.01" cy="337.58" r="1.8"/><circle cx="69.44" cy="337.61" r="1.8"/><circle cx="69.86" cy="337.65" r="1.8"/><circle cx="70.29" cy="337.68" r="1.8"/><circle cx="70.71" cy="337.72" r="1.8"/><circle cx="71.13" cy="337.75" r="1.8"/><circle cx="71.56" cy="337.78" r="1.8"/><circle cx="71.98" cy="337.81" r="1.8"/><circle cx="72.41" cy="337.84" r="1.8"/><circle cx="72.83" cy="337.87" r="1.8"/><circle cx="73.25" cy="337.9" r="1.8"/><circle cx="73.68" cy="337.92" r="1.8"/><circle cx="74.1" cy="337.95" r="1.8"/><circle cx="74.53" cy="337.97" r="1.8"/><circle cx="74.95" cy="337.99" r="1.8"/><circle cx="75.38" cy="338.02" r="1.8"/><circle cx="75.8" cy="338.04" r="1.8"/><circle cx="76.22" cy="338.05" r="1.8"/><circle cx="76.65" cy="338.07" r="1.8"/><circle cx="77.07" cy="338.09" r="1.8"/><circle cx="77.5" cy="338.11" r="1.8"/><circle cx="77.92" cy="338.13" r="1.8"/><circle cx="78.34" cy="338.14" r="1.8"/><circle cx="78.77" cy="338.16" r="1.8"/><circle cx="79.19" cy="338.17" r="1.8"/><circle cx="79.62" cy="338.19" r="1.8"/><circle cx="80.04" cy="338.21" r="1.8"/><circle cx="80.47" cy="338.22" r="1.8"/><circle cx="80.89" cy="338.23" r="1.8"/><circle cx="81.31" cy="338.25" r="1.8"/><circle cx="81.74" cy="338.26" r="1.8"/><circle cx="82.16" cy="338.28" r="1.8"/><circle cx="82.59" cy="338.29" r="1.8"/><circle cx="83.01" cy="338.3" r="1.8"/><circle cx="83.43" cy="338.31" r="1.8"/><circle cx="83.86" cy="338.33" r="1.8"/><circle cx="84.28" cy="338.34" r="1.8"/><circle cx="84.71" cy="338.35" r="1.8"/><circle cx="85.13" cy="338.36" r="1.8"/><circle cx="85.56" cy="338.37" r="1.8"/><circle cx="85.98" cy="338.38" r="1.8"/><circle cx="86.4" cy="338.39" r="1.8"/><circle cx="86.83" cy="338.4" r="1.8"/><circle cx="87.25" cy="338.41" r="1.8"/><circle cx="87.68" cy="338.42" r="1.8"/><circle cx="88.1" cy="338.43" r="1.8"/><circle cx="88.52" cy="338.44" r="1.8"/><circle cx="88.95" cy="338.45" r="1.8"/><circle cx="89.37" cy="338.46" r="1.8"/><circle cx="89.8" cy="338.47" r="1.8"/><circle cx="90.22" cy="338.48" r="1.8"/><circle cx="90.65" cy="338.49" r="1.8"/><circle cx="91.07" cy="338.49" r="1.8"/><circle cx="91.49" cy="338.5" r="1.8"/><circle cx="91.92" cy="338.51" r="1.8"/><circle cx="92.34" cy="338.52" r="1.8"/><circle cx="92.77" cy="338.53" r="1.8"/><circle cx="93.19" cy="338.54" r="1.8"/><circle cx="93.61" cy="338.55" r="1.8"/><circle cx="94.04" cy="338.56" r="1.8"/><circle cx="94.46" cy="338.57" r="1.8"/><circle cx="94.89" cy="338.57" r="1.8"/><circle cx="95.31" cy="338.58" r="1.8"/><circle cx="95.73" cy="338.59" r="1.8"/><circle cx="96.16" cy="338.6" r="1.8"/><circle cx="96.58" cy="338.61" r="1.8"/><circle cx="97.01" cy="338.61" r="1.8"/><circle cx="97.43" cy="338.62" r="1.8"/><circle cx="97.86" cy="338.63" r="1.8"/><circle cx="98.28" cy="338.64" r="1.8"/><circle cx="98.7" cy="338.64" r="1.8"/><circle cx="99.13" cy="338.65" r="1.8"/><circle cx="99.55" cy="338.65" r="1.8"/><circle cx="99.98" cy="338.66" r="1.8"/><circle cx="100.4" cy="338.67" r="1.8"/><circle cx="100.82" cy="338.67" r="1.8"/><circle cx="101.25" cy="338.68" r="1.8"/><circle cx="101.67" cy="338.68" r="1.8"/><circle cx="102.1" cy="338.68" r="1.8"/><circle cx="102.52" cy="338.69" r="1.8"/><circle cx="102.95" cy="338.69" r="1.8"/><circle cx="103.37" cy="338.69" r="1.8"/><circle cx="103.79" cy="338.7" r="1.8"/><circle cx="104.22" cy="338.7" r="1.8"/><circle cx="104.64" cy="338.7" r="1.8"/><circle cx="105.07" cy="338.7" r="1.8"/><circle cx="105.49" cy="338.7" r="1.8"/><circle cx="105.91" cy="338.7" r="1.8"/><circle cx="106.34" cy="338.68" r="1.8"/><circle cx="106.76" cy="338.66" r="1.8"/><circle cx="107.19" cy="338.62" r="1.8"/><circle cx="107.61" cy="338.58" r="1.8"/><circle cx="108.04" cy="338.52" r="1.8"/><circle cx="108.46" cy="338.46" r="1.8"/><circle cx="108.88" cy="338.39" r="1.8"/><circle cx="109.31" cy="338.31" r="1.8"/><circle cx="109.73" cy="338.23" r="1.8"/><circle cx="110.16" cy="338.14" r="1.8"/><circle cx="110.58" cy="338.05" r="1.8"/><circle cx="111" cy="337.94" r="1.8"/><circle cx="111.43" cy="337.8" r="1.8"/><circle cx="111.85" cy="337.63" r="1.8"/><circle cx="112.28" cy="337.43" r="1.8"/><circle cx="112.7" cy="337.2" r="1.8"/><circle cx="113.13" cy="336.94" r="1.8"/><circle cx="113.55" cy="336.66" r="1.8"/><circle cx="113.97" cy="336.35" r="1.8"/><circle cx="114.4" cy="336.03" r="1.8"/><circle cx="114.82" cy="335.64" r="1.8"/><circle cx="115.25" cy="335.15" r="1.8"/><circle cx="115.67" cy="334.59" r="1.8"/><circle cx="116.09" cy="333.96" r="1.8"/><circle cx="116.52" cy="333.3" r="1.8"/><circle cx="116.94" cy="332.61" r="1.8"/><circle cx="117.37" cy="331.93" r="1.8"/><circle cx="117.79" cy="331.24" r="1.8"/><circle cx="118.21" cy="330.51" r="1.8"/><circle cx="118.64" cy="329.68" r="1.8"/><circle cx="119.06" cy="328.71" r="1.8"/><circle cx="119.49" cy="327.56" r="1.8"/><circle cx="119.91" cy="326.19" r="1.8"/><circle cx="120.34" cy="324.1" r="1.8"/><circle cx="120.76" cy="321.12" r="1.8"/><circle cx="121.18" cy="317.47" r="1.8"/><circle cx="121.61" cy="313.39" r="1.8"/><circle cx="122.03" cy="309" r="1.8"/><circle cx="122.46" cy="303.22" r="1.8"/><circle cx="122.88" cy="296.82" r="1.8"/><circle cx="123.3" cy="291.06" r="1.8"/><circle cx="123.73" cy="286.58" r="1.8"/><circle cx="124.15" cy="282.65" r="1.8"/><circle cx="124.58" cy="279.01" r="1.8"/><circle cx="125" cy="275.44" r="1.8"/><circle cx="125.43" cy="271.72" r="1.8"/><circle cx="125.85" cy="267.88" r="1.8"/><circle cx="126.27" cy="264.05" r="1.8"/><circle cx="126.7" cy="260.22" r="1.8"/><circle cx="127.12" cy="256.39" r="1.8"/><circle cx="127.55" cy="252.52" r="1.8"/><circle cx="127.97" cy="248.44" r="1.8"/><circle cx="128.39" cy="244.32" r="1.8"/><circle cx="128.82" cy="240.42" r="1.8"/><circle cx="129.24" cy="236.98" r="1.8"/><circle cx="129.67" cy="234.12" r="1.8"/><circle cx="130.09" cy="231.53" r="1.8"/><circle cx="130.52" cy="229.19" r="1.8"/><circle cx="130.94" cy="227.06" r="1.8"/><circle cx="131.36" cy="225.14" r="1.8"/><circle cx="131.79" cy="223.42" r="1.8"/><circle cx="132.21" cy="221.87" r="1.8"/><circle cx="132.64" cy="220.43" r="1.8"/><circle cx="133.06" cy="219.04" r="1.8"/><circle cx="133.48" cy="217.64" r="1.8"/><circle cx="133.91" cy="216.21" r="1.8"/><circle cx="134.33" cy="214.78" r="1.8"/><circle cx="134.76" cy="213.42" r="1.8"/><circle cx="135.18" cy="212.18" r="1.8"/><circle cx="135.6" cy="211.11" r="1.8"/><circle cx="136.03" cy="210.16" r="1.8"/><circle cx="136.45" cy="209.26" r="1.8"/><circle cx="136.88" cy="208.45" r="1.8"/><circle cx="137.3" cy="207.76" r="1.8"/><circle cx="137.73" cy="207.23" r="1.8"/><circle cx="138.15" cy="206.84" r="1.8"/><circle cx="138.57" cy="206.47" r="1.8"/><circle cx="139" cy="206.13" r="1.8"/><circle cx="139.42" cy="205.82" r="1.8"/><circle cx="139.85" cy="205.56" r="1.8"/><circle cx="140.27" cy="205.35" r="1.8"/><circle cx="140.69" cy="205.19" r="1.8"/><circle cx="141.12" cy="205.11" r="1.8"/><circle cx="141.54" cy="205.11" r="1.8"/><circle cx="141.97" cy="205.23" r="1.8"/><circle cx="142.39" cy="205.43" r="1.8"/><circle cx="142.82" cy="205.71" r="1.8"/><circle cx="143.24" cy="206.04" r="1.8"/><circle cx="143.66" cy="206.4" r="1.8"/><circle cx="144.09" cy="206.77" r="1.8"/><circle cx="144.51" cy="207.12" r="1.8"/><circle cx="144.94" cy="207.44" r="1.8"/><circle cx="145.36" cy="207.75" r="1.8"/><circle cx="145.78" cy="208.07" r="1.8"/><circle cx="146.21" cy="208.39" r="1.8"/><circle cx="146.63" cy="208.72" r="1.8"/><circle cx="147.06" cy="209.05" r="1.8"/><circle cx="147.48" cy="209.4" r="1.8"/><circle cx="147.91" cy="209.74" r="1.8"/><circle cx="148.33" cy="210.09" r="1.8"/><circle cx="148.75" cy="210.45" r="1.8"/><circle cx="149.18" cy="210.8" r="1.8"/><circle cx="149.6" cy="211.17" r="1.8"/><circle cx="150.03" cy="211.53" r="1.8"/><circle cx="150.45" cy="211.9" r="1.8"/><circle cx="150.87" cy="212.28" r="1.8"/><circle cx="151.3" cy="212.65" r="1.8"/><circle cx="151.72" cy="213.03" r="1.8"/><circle cx="152.15" cy="213.41" r="1.8"/><circle cx="152.57" cy="213.79" r="1.8"/><circle cx="153" cy="214.18" r="1.8"/><circle cx="153.42" cy="214.57" r="1.8"/><circle cx="153.84" cy="214.97" r="1.8"/><circle cx="154.27" cy="215.37" r="1.8"/><circle cx="154.69" cy="215.77" r="1.8"/><circle cx="155.12" cy="216.18" r="1.8"/><circle cx="155.54" cy="216.59" r="1.8"/><circle cx="155.96" cy="217" r="1.8"/><circle cx="156.39" cy="217.42" r="1.8"/><circle cx="156.81" cy="217.84" r="1.8"/><circle cx="157.24" cy="218.26" r="1.8"/><circle cx="157.66" cy="218.69" r="1.8"/><circle cx="158.08" cy="219.12" r="1.8"/><circle cx="158.51" cy="219.55" r="1.8"/><circle cx="158.93" cy="219.99" r="1.8"/><circle cx="159.36" cy="220.42" r="1.8"/><circle cx="159.78" cy="220.86" r="1.8"/><circle cx="160.21" cy="221.31" r="1.8"/><circle cx="160.63" cy="221.75" r="1.8"/><circle cx="161.05" cy="222.2" r="1.8"/><circle cx="161.48" cy="222.65" r="1.8"/><circle cx="161.9" cy="223.11" r="1.8"/><circle cx="162.33" cy="223.58" r="1.8"/><circle cx="162.75" cy="224.05" r="1.8"/><circle cx="163.17" cy="224.52" r="1.8"/><circle cx="163.6" cy="225" r="1.8"/><circle cx="164.02" cy="225.48" r="1.8"/><circle cx="164.45" cy="225.97" r="1.8"/><circle cx="164.87" cy="226.45" r="1.8"/><circle cx="165.3" cy="226.94" r="1.8"/><circle cx="165.72" cy="227.43" r="1.8"/><circle cx="166.14" cy="227.92" r="1.8"/><circle cx="166.57" cy="228.41" r="1.8"/><circle cx="166.99" cy="228.9" r="1.8"/><circle cx="167.42" cy="229.39" r="1.8"/><circle cx="167.84" cy="229.87" r="1.8"/><circle cx="168.26" cy="230.36" r="1.8"/><circle cx="168.69" cy="230.85" r="1.8"/><circle cx="169.11" cy="231.34" r="1.8"/><circle cx="169.54" cy="231.84" r="1.8"/><circle cx="169.96" cy="232.33" r="1.8"/><circle cx="170.39" cy="232.83" r="1.8"/><circle cx="170.81" cy="233.33" r="1.8"/><circle cx="171.23" cy="233.82" r="1.8"/><circle cx="171.66" cy="234.32" r="1.8"/><circle cx="172.08" cy="234.81" r="1.8"/><circle cx="172.51" cy="235.31" r="1.8"/><circle cx="172.93" cy="235.79" r="1.8"/><circle cx="173.35" cy="236.28" r="1.8"/><circle cx="173.78" cy="236.76" r="1.8"/><circle cx="174.2" cy="237.24" r="1.8"/><circle cx="174.63" cy="237.72" r="1.8"/><circle cx="175.05" cy="238.19" r="1.8"/><circle cx="175.48" cy="238.66" r="1.8"/><circle cx="175.9" cy="239.12" r="1.8"/><circle cx="176.32" cy="239.58" r="1.8"/><circle cx="176.75" cy="240.04" r="1.8"/><circle cx="177.17" cy="240.5" r="1.8"/><circle cx="177.6" cy="240.96" r="1.8"/><circle cx="178.02" cy="241.41" r="1.8"/><circle cx="178.44" cy="241.86" r="1.8"/><circle cx="178.87" cy="242.32" r="1.8"/><circle cx="179.29" cy="242.77" r="1.8"/><circle cx="179.72" cy="243.22" r="1.8"/><circle cx="180.14" cy="243.67" r="1.8"/><circle cx="180.56" cy="244.12" r="1.8"/><circle cx="180.99" cy="244.57" r="1.8"/><circle cx="181.41" cy="245.02" r="1.8"/><circle cx="181.84" cy="245.47" r="1.8"/><circle cx="182.26" cy="245.92" r="1.8"/><circle cx="182.69" cy="246.38" r="1.8"/><circle cx="183.11" cy="246.83" r="1.8"/><circle cx="183.53" cy="247.29" r="1.8"/><circle cx="183.96" cy="247.75" r="1.8"/><circle cx="184.38" cy="248.21" r="1.8"/><circle cx="184.81" cy="248.68" r="1.8"/><circle cx="185.23" cy="249.14" r="1.8"/><circle cx="185.65" cy="249.61" r="1.8"/><circle cx="186.08" cy="250.09" r="1.8"/><circle cx="186.5" cy="250.56" r="1.8"/><circle cx="186.93" cy="251.05" r="1.8"/><circle cx="187.35" cy="251.53" r="1.8"/><circle cx="187.78" cy="252.02" r="1.8"/><circle cx="188.2" cy="252.52" r="1.8"/><circle cx="188.62" cy="253.02" r="1.8"/><circle cx="189.05" cy="253.52" r="1.8"/><circle cx="189.47" cy="254.03" r="1.8"/><circle cx="189.9" cy="254.55" r="1.8"/><circle cx="190.32" cy="255.07" r="1.8"/><circle cx="190.74" cy="255.59" r="1.8"/><circle cx="191.17" cy="256.11" r="1.8"/><circle cx="191.59" cy="256.64" r="1.8"/><circle cx="192.02" cy="257.18" r="1.8"/><circle cx="192.44" cy="257.71" r="1.8"/><circle cx="192.87" cy="258.25" r="1.8"/><circle cx="193.29" cy="258.8" r="1.8"/><circle cx="193.71" cy="259.34" r="1.8"/><circle cx="194.14" cy="259.89" r="1.8"/><circle cx="194.56" cy="260.44" r="1.8"/><circle cx="194.99" cy="261" r="1.8"/><circle cx="195.41" cy="261.56" r="1.8"/><circle cx="195.83" cy="262.12" r="1.8"/><circle cx="196.26" cy="262.68" r="1.8"/><circle cx="196.68" cy="263.24" r="1.8"/><circle cx="197.11" cy="263.81" r="1.8"/><circle cx="197.53" cy="264.37" r="1.8"/><circle cx="197.96" cy="264.94" r="1.8"/><circle cx="198.38" cy="265.52" r="1.8"/><circle cx="198.8" cy="266.09" r="1.8"/><circle cx="199.23" cy="266.66" r="1.8"/><circle cx="199.65" cy="267.24" r="1.8"/><circle cx="200.08" cy="267.81" r="1.8"/><circle cx="200.5" cy="268.39" r="1.8"/><circle cx="200.92" cy="268.97" r="1.8"/><circle cx="201.35" cy="269.55" r="1.8"/><circle cx="201.77" cy="270.13" r="1.8"/><circle cx="202.2" cy="270.71" r="1.8"/><circle cx="202.62" cy="271.29" r="1.8"/><circle cx="203.04" cy="271.87" r="1.8"/><circle cx="203.47" cy="272.45" r="1.8"/><circle cx="203.89" cy="273.03" r="1.8"/><circle cx="204.32" cy="273.61" r="1.8"/><circle cx="204.74" cy="274.19" r="1.8"/><circle cx="205.17" cy="274.77" r="1.8"/><circle cx="205.59" cy="275.35" r="1.8"/><circle cx="206.01" cy="275.93" r="1.8"/><circle cx="206.44" cy="276.5" r="1.8"/><circle cx="206.86" cy="277.08" r="1.8"/><circle cx="207.29" cy="277.65" r="1.8"/><circle cx="207.71" cy="278.23" r="1.8"/><circle cx="208.13" cy="278.8" r="1.8"/><circle cx="208.56" cy="279.38" r="1.8"/><circle cx="208.98" cy="279.96" r="1.8"/><circle cx="209.41" cy="280.54" r="1.8"/><circle cx="209.83" cy="281.12" r="1.8"/><circle cx="210.26" cy="281.7" r="1.8"/><circle cx="210.68" cy="282.29" r="1.8"/><circle cx="211.1" cy="282.88" r="1.8"/><circle cx="211.53" cy="283.48" r="1.8"/><circle cx="211.95" cy="284.08" r="1.8"/><circle cx="212.38" cy="284.69" r="1.8"/><circle cx="212.8" cy="285.3" r="1.8"/><circle cx="213.22" cy="285.92" r="1.8"/><circle cx="213.65" cy="286.54" r="1.8"/><circle cx="214.07" cy="287.17" r="1.8"/><circle cx="214.5" cy="287.81" r="1.8"/><circle cx="214.92" cy="288.46" r="1.8"/><circle cx="215.35" cy="289.11" r="1.8"/><circle cx="215.77" cy="289.78" r="1.8"/><circle cx="216.19" cy="290.45" r="1.8"/><circle cx="216.62" cy="291.14" r="1.8"/><circle cx="217.04" cy="291.84" r="1.8"/><circle cx="217.47" cy="292.55" r="1.8"/><circle cx="217.89" cy="293.27" r="1.8"/><circle cx="218.31" cy="294" r="1.8"/><circle cx="218.74" cy="294.73" r="1.8"/><circle cx="219.16" cy="295.47" r="1.8"/><circle cx="219.59" cy="296.22" r="1.8"/><circle cx="220.01" cy="296.97" r="1.8"/><circle cx="220.43" cy="297.73" r="1.8"/><circle cx="220.86" cy="298.48" r="1.8"/><circle cx="221.28" cy="299.25" r="1.8"/><circle cx="221.71" cy="300.01" r="1.8"/><circle cx="222.13" cy="300.77" r="1.8"/><circle cx="222.56" cy="301.54" r="1.8"/><circle cx="222.98" cy="302.3" r="1.8"/><circle cx="223.4" cy="303.06" r="1.8"/><circle cx="223.83" cy="303.82" r="1.8"/><circle cx="224.25" cy="304.57" r="1.8"/><circle cx="224.68" cy="305.32" r="1.8"/><circle cx="225.1" cy="306.07" r="1.8"/></g>
<g fill="#9B1EF7"><circle cx="50.77" cy="338.7" r="1.8"/><circle cx="51.2" cy="338.7" r="1.8"/><circle cx="51.62" cy="338.7" r="1.8"/><circle cx="52.05" cy="338.7" r="1.8"/><circle cx="52.47" cy="338.7" r="1.8"/><circle cx="52.9" cy="338.7" r="1.8"/><circle cx="53.32" cy="338.7" r="1.8"/><circle cx="53.74" cy="338.7" r="1.8"/><circle cx="54.17" cy="338.7" r="1.8"/><circle cx="54.59" cy="338.7" r="1.8"/><circle cx="55.02" cy="338.7" r="1.8"/><circle cx="55.44" cy="338.7" r="1.8"/><circle cx="55.86" cy="338.7" r="1.8"/><circle cx="56.29" cy="338.7" r="1.8"/><circle cx="56.71" cy="338.7" r="1.8"/><circle cx="57.14" cy="338.7" r="1.8"/><circle cx="57.56" cy="338.7" r="1.8"/><circle cx="57.99" cy="338.7" r="1.8"/><circle cx="58.41" cy="338.7" r="1.8"/><circle cx="58.83" cy="338.7" r="1.8"/><circle cx="59.26" cy="338.7" r="1.8"/><circle cx="59.68" cy="338.7" r="1.8"/><circle cx="60.11" cy="338.7" r="1.8"/><circle cx="60.53" cy="338.7" r="1.8"/><circle cx="60.95" cy="338.7" r="1.8"/><circle cx="61.38" cy="338.7" r="1.8"/><circle cx="61.8" cy="338.7" r="1.8"/><circle cx="62.23" cy="338.7" r="1.8"/><circle cx="62.65" cy="338.7" r="1.8"/><circle cx="63.08" cy="338.7" r="1.8"/><circle cx="63.5" cy="338.7" r="1.8"/><circle cx="63.92" cy="338.7" r="1.8"/><circle cx="64.35" cy="338.7" r="1.8"/><circle cx="64.77" cy="338.7" r="1.8"/><circle cx="65.2" cy="338.7" r="1.8"/><circle cx="65.62" cy="338.7" r="1.8"/><circle cx="66.04" cy="338.7" r="1.8"/><circle cx="66.47" cy="338.7" r="1.8"/><circle cx="66.89" cy="338.7" r="1.8"/><circle cx="67.32" cy="338.7" r="1.8"/><circle cx="67.74" cy="338.7" r="1.8"/><circle cx="68.17" cy="338.7" r="1.8"/><circle cx="68.59" cy="338.7" r="1.8"/><circle cx="69.01" cy="338.7" r="1.8"/><circle cx="69.44" cy="338.7" r="1.8"/><circle cx="69.86" cy="338.7" r="1.8"/><circle cx="70.29" cy="338.7" r="1.8"/><circle cx="70.71" cy="338.7" r="1.8"/><circle cx="71.13" cy="338.7" r="1.8"/><circle cx="71.56" cy="338.7" r="1.8"/><circle cx="71.98" cy="338.7" r="1.8"/><circle cx="72.41" cy="338.7" r="1.8"/><circle cx="72.83" cy="338.7" r="1.8"/><circle cx="73.25" cy="338.7" r="1.8"/><circle cx="73.68" cy="338.7" r="1.8"/><circle cx="74.1" cy="338.7" r="1.8"/><circle cx="74.53" cy="338.7" r="1.8"/><circle cx="74.95" cy="338.7" r="1.8"/><circle cx="75.38" cy="338.7" r="1.8"/><circle cx="75.8" cy="338.7" r="1.8"/><circle cx="76.22" cy="338.7" r="1.8"/><circle cx="76.65" cy="338.7" r="1.8"/><circle cx="77.07" cy="338.7" r="1.8"/><circle cx="77.5" cy="338.7" r="1.8"/><circle cx="77.92" cy="338.7" r="1.8"/><circle cx="78.34" cy="338.7" r="1.8"/><circle cx="78.77" cy="338.7" r="1.8"/><circle cx="79.19" cy="338.7" r="1.8"/><circle cx="79.62" cy="338.7" r="1.8"/><circle cx="80.04" cy="338.7" r="1.8"/><circle cx="80.47" cy="338.7" r="1.8"/><circle cx="80.89" cy="338.7" r="1.8"/><circle cx="81.31" cy="338.7" r="1.8"/><circle cx="81.74" cy="338.7" r="1.8"/><circle cx="82.16" cy="338.7" r="1.8"/><circle cx="82.59" cy="338.7" r="1.8"/><circle cx="83.01" cy="338.7" r="1.8"/><circle cx="83.43" cy="338.7" r="1.8"/><circle cx="83.86" cy="338.7" r="1.8"/><circle cx="84.28" cy="338.7" r="1.8"/><circle cx="84.71" cy="338.7" r="1.8"/><circle cx="85.13" cy="338.7" r="1.8"/><circle cx="85.56" cy="338.7" r="1.8"/><circle cx="85.98" cy="338.7" r="1.8"/><circle cx="86.4" cy="338.7" r="1.8"/><circle cx="86.83" cy="338.7" r="1.8"/><circle cx="87.25" cy="338.7" r="1.8"/><circle cx="87.68" cy="338.7" r="1.8"/><circle cx="88.1" cy="338.7" r="1.8"/><circle cx="88.52" cy="338.7" r="1.8"/><circle cx="88.95" cy="338.7" r="1.8"/><circle cx="89.37" cy="338.69" r="1.8"/><circle cx="89.8" cy="338.68" r="1.8"/><circle cx="90.22" cy="338.66" r="1.8"/><circle cx="90.65" cy="338.65" r="1.8"/><circle cx="91.07" cy="338.63" r="1.8"/><circle cx="91.49" cy="338.61" r="1.8"/><circle cx="91.92" cy="338.59" r="1.8"/><circle cx="92.34" cy="338.56" r="1.8"/><circle cx="92.77" cy="338.53" r="1.8"/><circle cx="93.19" cy="338.5" r="1.8"/><circle cx="93.61" cy="338.47" r="1.8"/><circle cx="94.04" cy="338.44" r="1.8"/><circle cx="94.46" cy="338.4" r="1.8"/><circle cx="94.89" cy="338.37" r="1.8"/><circle cx="95.31" cy="338.33" r="1.8"/><circle cx="95.73" cy="338.29" r="1.8"/><circle cx="96.16" cy="338.24" r="1.8"/><circle cx="96.58" cy="338.2" r="1.8"/><circle cx="97.01" cy="338.16" r="1.8"/><circle cx="97.43" cy="338.11" r="1.8"/><circle cx="97.86" cy="338.07" r="1.8"/><circle cx="98.28" cy="338.02" r="1.8"/><circle cx="98.7" cy="337.97" r="1.8"/><circle cx="99.13" cy="337.9" r="1.8"/><circle cx="99.55" cy="337.83" r="1.8"/><circle cx="99.98" cy="337.75" r="1.8"/><circle cx="100.4" cy="337.66" r="1.8"/><circle cx="100.82" cy="337.56" r="1.8"/><circle cx="101.25" cy="337.45" r="1.8"/><circle cx="101.67" cy="337.34" r="1.8"/><circle cx="102.1" cy="337.22" r="1.8"/><circle cx="102.52" cy="337.09" r="1.8"/><circle cx="102.95" cy="336.96" r="1.8"/><circle cx="103.37" cy="336.83" r="1.8"/><circle cx="103.79" cy="336.69" r="1.8"/><circle cx="104.22" cy="336.54" r="1.8"/><circle cx="104.64" cy="336.4" r="1.8"/><circle cx="105.07" cy="336.24" r="1.8"/><circle cx="105.49" cy="336.09" r="1.8"/><circle cx="105.91" cy="335.94" r="1.8"/><circle cx="106.34" cy="335.77" r="1.8"/><circle cx="106.76" cy="335.59" r="1.8"/><circle cx="107.19" cy="335.4" r="1.8"/><circle cx="107.61" cy="335.2" r="1.8"/><circle cx="108.04" cy="334.98" r="1.8"/><circle cx="108.46" cy="334.75" r="1.8"/><circle cx="108.88" cy="334.51" r="1.8"/><circle cx="109.31" cy="334.26" r="1.8"/><circle cx="109.73" cy="333.99" r="1.8"/><circle cx="110.16" cy="333.71" r="1.8"/><circle cx="110.58" cy="333.41" r="1.8"/><circle cx="111" cy="333.09" r="1.8"/><circle cx="111.43" cy="332.74" r="1.8"/><circle cx="111.85" cy="332.36" r="1.8"/><circle cx="112.28" cy="331.94" r="1.8"/><circle cx="112.7" cy="331.49" r="1.8"/><circle cx="113.13" cy="331" r="1.8"/><circle cx="113.55" cy="330.48" r="1.8"/><circle cx="113.97" cy="329.93" r="1.8"/><circle cx="114.4" cy="329.35" r="1.8"/><circle cx="114.82" cy="328.73" r="1.8"/><circle cx="115.25" cy="328.06" r="1.8"/><circle cx="115.67" cy="327.33" r="1.8"/><circle cx="116.09" cy="326.52" r="1.8"/><circle cx="116.52" cy="325.62" r="1.8"/><circle cx="116.94" cy="324.61" r="1.8"/><circle cx="117.37" cy="323.48" r="1.8"/><circle cx="117.79" cy="322.18" r="1.8"/><circle cx="118.21" cy="320.48" r="1.8"/><circle cx="118.64" cy="318.37" r="1.8"/><circle cx="119.06" cy="315.95" r="1.8"/><circle cx="119.49" cy="313.29" r="1.8"/><circle cx="119.91" cy="310.47" r="1.8"/><circle cx="120.34" cy="307.16" r="1.8"/><circle cx="120.76" cy="303.25" r="1.8"/><circle cx="121.18" cy="299.05" r="1.8"/><circle cx="121.61" cy="294.88" r="1.8"/><circle cx="122.03" cy="291.03" r="1.8"/><circle cx="122.46" cy="287.64" r="1.8"/><circle cx="122.88" cy="284.43" r="1.8"/><circle cx="123.3" cy="281.35" r="1.8"/><circle cx="123.73" cy="278.36" r="1.8"/><circle cx="124.15" cy="275.43" r="1.8"/><circle cx="124.58" cy="272.51" r="1.8"/><circle cx="125" cy="269.62" r="1.8"/><circle cx="125.43" cy="266.79" r="1.8"/><circle cx="125.85" cy="264.01" r="1.8"/><circle cx="126.27" cy="261.26" r="1.8"/><circle cx="126.7" cy="258.52" r="1.8"/><circle cx="127.12" cy="255.76" r="1.8"/><circle cx="127.55" cy="252.99" r="1.8"/><circle cx="127.97" cy="250.22" r="1.8"/><circle cx="128.39" cy="247.47" r="1.8"/><circle cx="128.82" cy="244.71" r="1.8"/><circle cx="129.24" cy="241.93" r="1.8"/><circle cx="129.67" cy="239.12" r="1.8"/><circle cx="130.09" cy="236.27" r="1.8"/><circle cx="130.52" cy="233.19" r="1.8"/><circle cx="130.94" cy="229.91" r="1.8"/><circle cx="131.36" cy="226.8" r="1.8"/><circle cx="131.79" cy="224.19" r="1.8"/><circle cx="132.21" cy="222.14" r="1.8"/><circle cx="132.64" cy="220.26" r="1.8"/><circle cx="133.06" cy="218.52" r="1.8"/><circle cx="133.48" cy="216.93" r="1.8"/><circle cx="133.91" cy="215.46" r="1.8"/><circle cx="134.33" cy="214.12" r="1.8"/><circle cx="134.76" cy="212.9" r="1.8"/><circle cx="135.18" cy="211.8" r="1.8"/><circle cx="135.6" cy="210.79" r="1.8"/><circle cx="136.03" cy="209.81" r="1.8"/><circle cx="136.45" cy="208.89" r="1.8"/><circle cx="136.88" cy="208.05" r="1.8"/><circle cx="137.3" cy="207.33" r="1.8"/><circle cx="137.73" cy="206.77" r="1.8"/><circle cx="138.15" cy="206.4" r="1.8"/><circle cx="138.57" cy="206.12" r="1.8"/><circle cx="139" cy="205.86" r="1.8"/><circle cx="139.42" cy="205.63" r="1.8"/><circle cx="139.85" cy="205.44" r="1.8"/><circle cx="140.27" cy="205.28" r="1.8"/><circle cx="140.69" cy="205.17" r="1.8"/><circle cx="141.12" cy="205.11" r="1.8"/><circle cx="141.54" cy="205.1" r="1.8"/><circle cx="141.97" cy="205.15" r="1.8"/><circle cx="142.39" cy="205.22" r="1.8"/><circle cx="142.82" cy="205.33" r="1.8"/><circle cx="143.24" cy="205.47" r="1.8"/><circle cx="143.66" cy="205.62" r="1.8"/><circle cx="144.09" cy="205.79" r="1.8"/><circle cx="144.51" cy="205.97" r="1.8"/><circle cx="144.94" cy="206.16" r="1.8"/><circle cx="145.36" cy="206.34" r="1.8"/><circle cx="145.78" cy="206.52" r="1.8"/><circle cx="146.21" cy="206.72" r="1.8"/><circle cx="146.63" cy="206.93" r="1.8"/><circle cx="147.06" cy="207.15" r="1.8"/><circle cx="147.48" cy="207.39" r="1.8"/><circle cx="147.91" cy="207.65" r="1.8"/><circle cx="148.33" cy="207.92" r="1.8"/><circle cx="148.75" cy="208.2" r="1.8"/><circle cx="149.18" cy="208.49" r="1.8"/><circle cx="149.6" cy="208.8" r="1.8"/><circle cx="150.03" cy="209.11" r="1.8"/><circle cx="150.45" cy="209.44" r="1.8"/><circle cx="150.87" cy="209.77" r="1.8"/><circle cx="151.3" cy="210.11" r="1.8"/><circle cx="151.72" cy="210.46" r="1.8"/><circle cx="152.15" cy="210.81" r="1.8"/><circle cx="152.57" cy="211.17" r="1.8"/><circle cx="153" cy="211.53" r="1.8"/><circle cx="153.42" cy="211.9" r="1.8"/><circle cx="153.84" cy="212.27" r="1.8"/><circle cx="154.27" cy="212.64" r="1.8"/><circle cx="154.69" cy="213.02" r="1.8"/><circle cx="155.12" cy="213.39" r="1.8"/><circle cx="155.54" cy="213.77" r="1.8"/><circle cx="155.96" cy="214.14" r="1.8"/><circle cx="156.39" cy="214.52" r="1.8"/><circle cx="156.81" cy="214.9" r="1.8"/><circle cx="157.24" cy="215.29" r="1.8"/><circle cx="157.66" cy="215.69" r="1.8"/><circle cx="158.08" cy="216.1" r="1.8"/><circle cx="158.51" cy="216.52" r="1.8"/><circle cx="158.93" cy="216.95" r="1.8"/><circle cx="159.36" cy="217.38" r="1.8"/><circle cx="159.78" cy="217.83" r="1.8"/><circle cx="160.21" cy="218.28" r="1.8"/><circle cx="160.63" cy="218.73" r="1.8"/><circle cx="161.05" cy="219.2" r="1.8"/><circle cx="161.48" cy="219.66" r="1.8"/><circle cx="161.9" cy="220.14" r="1.8"/><circle cx="162.33" cy="220.61" r="1.8"/><circle cx="162.75" cy="221.09" r="1.8"/><circle cx="163.17" cy="221.57" r="1.8"/><circle cx="163.6" cy="222.06" r="1.8"/><circle cx="164.02" cy="222.54" r="1.8"/><circle cx="164.45" cy="223.03" r="1.8"/><circle cx="164.87" cy="223.51" r="1.8"/><circle cx="165.3" cy="224" r="1.8"/><circle cx="165.72" cy="224.49" r="1.8"/><circle cx="166.14" cy="224.97" r="1.8"/><circle cx="166.57" cy="225.46" r="1.8"/><circle cx="166.99" cy="225.94" r="1.8"/><circle cx="167.42" cy="226.42" r="1.8"/><circle cx="167.84" cy="226.89" r="1.8"/><circle cx="168.26" cy="227.36" r="1.8"/><circle cx="168.69" cy="227.83" r="1.8"/><circle cx="169.11" cy="228.29" r="1.8"/><circle cx="169.54" cy="228.75" r="1.8"/><circle cx="169.96" cy="229.21" r="1.8"/><circle cx="170.39" cy="229.67" r="1.8"/><circle cx="170.81" cy="230.13" r="1.8"/><circle cx="171.23" cy="230.59" r="1.8"/><circle cx="171.66" cy="231.05" r="1.8"/><circle cx="172.08" cy="231.51" r="1.8"/><circle cx="172.51" cy="231.97" r="1.8"/><circle cx="172.93" cy="232.43" r="1.8"/><circle cx="173.35" cy="232.89" r="1.8"/><circle cx="173.78" cy="233.35" r="1.8"/><circle cx="174.2" cy="233.81" r="1.8"/><circle cx="174.63" cy="234.27" r="1.8"/><circle cx="175.05" cy="234.72" r="1.8"/><circle cx="175.48" cy="235.17" r="1.8"/><circle cx="175.9" cy="235.62" r="1.8"/><circle cx="176.32" cy="236.07" r="1.8"/><circle cx="176.75" cy="236.52" r="1.8"/><circle cx="177.17" cy="236.96" r="1.8"/><circle cx="177.6" cy="237.4" r="1.8"/><circle cx="178.02" cy="237.83" r="1.8"/><circle cx="178.44" cy="238.26" r="1.8"/><circle cx="178.87" cy="238.69" r="1.8"/><circle cx="179.29" cy="239.11" r="1.8"/><circle cx="179.72" cy="239.52" r="1.8"/><circle cx="180.14" cy="239.93" r="1.8"/><circle cx="180.56" cy="240.34" r="1.8"/><circle cx="180.99" cy="240.75" r="1.8"/><circle cx="181.41" cy="241.15" r="1.8"/><circle cx="181.84" cy="241.54" r="1.8"/><circle cx="182.26" cy="241.94" r="1.8"/><circle cx="182.69" cy="242.33" r="1.8"/><circle cx="183.11" cy="242.72" r="1.8"/><circle cx="183.53" cy="243.11" r="1.8"/><circle cx="183.96" cy="243.5" r="1.8"/><circle cx="184.38" cy="243.89" r="1.8"/><circle cx="184.81" cy="244.28" r="1.8"/><circle cx="185.23" cy="244.67" r="1.8"/><circle cx="185.65" cy="245.05" r="1.8"/><circle cx="186.08" cy="245.44" r="1.8"/><circle cx="186.5" cy="245.83" r="1.8"/><circle cx="186.93" cy="246.22" r="1.8"/><circle cx="187.35" cy="246.61" r="1.8"/><circle cx="187.78" cy="247.01" r="1.8"/><circle cx="188.2" cy="247.4" r="1.8"/><circle cx="188.62" cy="247.8" r="1.8"/><circle cx="189.05" cy="248.2" r="1.8"/><circle cx="189.47" cy="248.61" r="1.8"/><circle cx="189.9" cy="249.01" r="1.8"/><circle cx="190.32" cy="249.42" r="1.8"/><circle cx="190.74" cy="249.84" r="1.8"/><circle cx="191.17" cy="250.26" r="1.8"/><circle cx="191.59" cy="250.69" r="1.8"/><circle cx="192.02" cy="251.12" r="1.8"/><circle cx="192.44" cy="251.55" r="1.8"/><circle cx="192.87" cy="251.99" r="1.8"/><circle cx="193.29" cy="252.44" r="1.8"/><circle cx="193.71" cy="252.89" r="1.8"/><circle cx="194.14" cy="253.35" r="1.8"/><circle cx="194.56" cy="253.82" r="1.8"/><circle cx="194.99" cy="254.29" r="1.8"/><circle cx="195.41" cy="254.76" r="1.8"/><circle cx="195.83" cy="255.24" r="1.8"/><circle cx="196.26" cy="255.72" r="1.8"/><circle cx="196.68" cy="256.21" r="1.8"/><circle cx="197.11" cy="256.69" r="1.8"/><circle cx="197.53" cy="257.19" r="1.8"/><circle cx="197.96" cy="257.68" r="1.8"/><circle cx="198.38" cy="258.18" r="1.8"/><circle cx="198.8" cy="258.68" r="1.8"/><circle cx="199.23" cy="259.19" r="1.8"/><circle cx="199.65" cy="259.7" r="1.8"/><circle cx="200.08" cy="260.21" r="1.8"/><circle cx="200.5" cy="260.73" r="1.8"/><circle cx="200.92" cy="261.25" r="1.8"/><circle cx="201.35" cy="261.78" r="1.8"/><circle cx="201.77" cy="262.31" r="1.8"/><circle cx="202.2" cy="262.84" r="1.8"/><circle cx="202.62" cy="263.38" r="1.8"/><circle cx="203.04" cy="263.93" r="1.8"/><circle cx="203.47" cy="264.47" r="1.8"/><circle cx="203.89" cy="265.02" r="1.8"/><circle cx="204.32" cy="265.58" r="1.8"/><circle cx="204.74" cy="266.14" r="1.8"/><circle cx="205.17" cy="266.7" r="1.8"/><circle cx="205.59" cy="267.27" r="1.8"/><circle cx="206.01" cy="267.84" r="1.8"/><circle cx="206.44" cy="268.42" r="1.8"/><circle cx="206.86" cy="269" r="1.8"/><circle cx="207.29" cy="269.58" r="1.8"/><circle cx="207.71" cy="270.17" r="1.8"/><circle cx="208.13" cy="270.77" r="1.8"/><circle cx="208.56" cy="271.37" r="1.8"/><circle cx="208.98" cy="271.97" r="1.8"/><circle cx="209.41" cy="272.58" r="1.8"/><circle cx="209.83" cy="273.19" r="1.8"/><circle cx="210.26" cy="273.81" r="1.8"/><circle cx="210.68" cy="274.43" r="1.8"/><circle cx="211.1" cy="275.06" r="1.8"/><circle cx="211.53" cy="275.7" r="1.8"/><circle cx="211.95" cy="276.35" r="1.8"/><circle cx="212.38" cy="277.02" r="1.8"/><circle cx="212.8" cy="277.69" r="1.8"/><circle cx="213.22" cy="278.38" r="1.8"/><circle cx="213.65" cy="279.07" r="1.8"/><circle cx="214.07" cy="279.78" r="1.8"/><circle cx="214.5" cy="280.49" r="1.8"/><circle cx="214.92" cy="281.21" r="1.8"/><circle cx="215.35" cy="281.94" r="1.8"/><circle cx="215.77" cy="282.68" r="1.8"/><circle cx="216.19" cy="283.42" r="1.8"/><circle cx="216.62" cy="284.17" r="1.8"/><circle cx="217.04" cy="284.92" r="1.8"/><circle cx="217.47" cy="285.68" r="1.8"/><circle cx="217.89" cy="286.45" r="1.8"/><circle cx="218.31" cy="287.21" r="1.8"/><circle cx="218.74" cy="287.98" r="1.8"/><circle cx="219.16" cy="288.76" r="1.8"/><circle cx="219.59" cy="289.53" r="1.8"/><circle cx="220.01" cy="290.31" r="1.8"/><circle cx="220.43" cy="291.09" r="1.8"/><circle cx="220.86" cy="291.86" r="1.8"/><circle cx="221.28" cy="292.64" r="1.8"/><circle cx="221.71" cy="293.42" r="1.8"/><circle cx="222.13" cy="294.19" r="1.8"/><circle cx="222.56" cy="294.96" r="1.8"/><circle cx="222.98" cy="295.73" r="1.8"/><circle cx="223.4" cy="296.5" r="1.8"/><circle cx="223.83" cy="297.26" r="1.8"/><circle cx="224.25" cy="298.02" r="1.8"/><circle cx="224.68" cy="298.77" r="1.8"/><circle cx="225.1" cy="299.52" r="1.8"/></g>
<g fill="#55A3F5"><circle cx="50.77" cy="338.7" r="1.8"/><circle cx="51.2" cy="338.7" r="1.8"/><circle cx="51.62" cy="338.7" r="1.8"/><circle cx="52.05" cy="338.7" r="1.8"/><circle cx="52.47" cy="338.7" r="1.8"/><circle cx="52.9" cy="338.7" r="1.8"/><circle cx="53.32" cy="338.7" r="1.8"/><circle cx="53.74" cy="338.7" r="1.8"/><circle cx="54.17" cy="338.7" r="1.8"/><circle cx="54.59" cy="338.7" r="1.8"/><circle cx="55.02" cy="338.7" r="1.8"/><circle cx="55.44" cy="338.7" r="1.8"/><circle cx="55.86" cy="338.7" r="1.8"/><circle cx="56.29" cy="338.7" r="1.8"/><circle cx="56.71" cy="338.7" r="1.8"/><circle cx="57.14" cy="338.7" r="1.8"/><circle cx="57.56" cy="338.7" r="1.8"/><circle cx="57.99" cy="338.7" r="1.8"/><circle cx="58.41" cy="338.7" r="1.8"/><circle cx="58.83" cy="338.7" r="1.8"/><circle cx="59.26" cy="338.7" r="1.8"/><circle cx="59.68" cy="338.7" r="1.8"/><circle cx="60.11" cy="338.7" r="1.8"/><circle cx="60.53" cy="338.7" r="1.8"/><circle cx="60.95" cy="338.7" r="1.8"/><circle cx="61.38" cy="338.7" r="1.8"/><circle cx="61.8" cy="338.7" r="1.8"/><circle cx="62.23" cy="338.7" r="1.8"/><circle cx="62.65" cy="338.7" r="1.8"/><circle cx="63.08" cy="338.7" r="1.8"/><circle cx="63.5" cy="338.7" r="1.8"/><circle cx="63.92" cy="338.7" r="1.8"/><circle cx="64.35" cy="338.7" r="1.8"/><circle cx="64.77" cy="338.7" r="1.8"/><circle cx="65.2" cy="338.7" r="1.8"/><circle cx="65.62" cy="338.7" r="1.8"/><circle cx="66.04" cy="338.7" r="1.8"/><circle cx="66.47" cy="338.7" r="1.8"/><circle cx="66.89" cy="338.7" r="1.8"/><circle cx="67.32" cy="338.7" r="1.8"/><circle cx="67.74" cy="338.7" r="1.8"/><circle cx="68.17" cy="338.7" r="1.8"/><circle cx="68.59" cy="338.69" r="1.8"/><circle cx="69.01" cy="338.68" r="1.8"/><circle cx="69.44" cy="338.64" r="1.8"/><circle cx="69.86" cy="338.6" r="1.8"/><circle cx="70.29" cy="338.55" r="1.8"/><circle cx="70.71" cy="338.49" r="1.8"/><circle cx="71.13" cy="338.42" r="1.8"/><circle cx="71.56" cy="338.35" r="1.8"/><circle cx="71.98" cy="338.27" r="1.8"/><circle cx="72.41" cy="338.19" r="1.8"/><circle cx="72.83" cy="338.11" r="1.8"/><circle cx="73.25" cy="338.03" r="1.8"/><circle cx="73.68" cy="337.94" r="1.8"/><circle cx="74.1" cy="337.85" r="1.8"/><circle cx="74.53" cy="337.74" r="1.8"/><circle cx="74.95" cy="337.63" r="1.8"/><circle cx="75.38" cy="337.5" r="1.8"/><circle cx="75.8" cy="337.37" r="1.8"/><circle cx="76.22" cy="337.23" r="1.8"/><circle cx="76.65" cy="337.07" r="1.8"/><circle cx="77.07" cy="336.91" r="1.8"/><circle cx="77.5" cy="336.74" r="1.8"/><circle cx="77.92" cy="336.56" r="1.8"/><circle cx="78.34" cy="336.37" r="1.8"/><circle cx="78.77" cy="336.15" r="1.8"/><circle cx="79.19" cy="335.91" r="1.8"/><circle cx="79.62" cy="335.64" r="1.8"/><circle cx="80.04" cy="335.34" r="1.8"/><circle cx="80.47" cy="335.02" r="1.8"/><circle cx="80.89" cy="334.69" r="1.8"/><circle cx="81.31" cy="334.34" r="1.8"/><circle cx="81.74" cy="333.98" r="1.8"/><circle cx="82.16" cy="333.61" r="1.8"/><circle cx="82.59" cy="333.24" r="1.8"/><circle cx="83.01" cy="332.86" r="1.8"/><circle cx="83.43" cy="332.49" r="1.8"/><circle cx="83.86" cy="332.09" r="1.8"/><circle cx="84.28" cy="331.68" r="1.8"/><circle cx="84.71" cy="331.25" r="1.8"/><circle cx="85.13" cy="330.81" r="1.8"/><circle cx="85.56" cy="330.35" r="1.8"/><circle cx="85.98" cy="329.89" r="1.8"/><circle cx="86.4" cy="329.41" r="1.8"/><circle cx="86.83" cy="328.93" r="1.8"/><circle cx="87.25" cy="328.44" r="1.8"/><circle cx="87.68" cy="327.95" r="1.8"/><circle cx="88.1" cy="327.46" r="1.8"/><circle cx="88.52" cy="326.97" r="1.8"/><circle cx="88.95" cy="326.47" r="1.8"/><circle cx="89.37" cy="325.99" r="1.8"/><circle cx="89.8" cy="325.51" r="1.8"/><circle cx="90.22" cy="325.03" r="1.8"/><circle cx="90.65" cy="324.56" r="1.8"/><circle cx="91.07" cy="324.08" r="1.8"/><circle cx="91.49" cy="323.6" r="1.8"/><circle cx="91.92" cy="323.12" r="1.8"/><circle cx="92.34" cy="322.64" r="1.8"/><circle cx="92.77" cy="322.16" r="1.8"/><circle cx="93.19" cy="321.67" r="1.8"/><circle cx="93.61" cy="321.18" r="1.8"/><circle cx="94.04" cy="320.7" r="1.8"/><circle cx="94.46" cy="320.21" r="1.8"/><circle cx="94.89" cy="319.72" r="1.8"/><circle cx="95.31" cy="319.22" r="1.8"/><circle cx="95.73" cy="318.73" r="1.8"/><circle cx="96.16" cy="318.23" r="1.8"/><circle cx="96.58" cy="317.74" r="1.8"/><circle cx="97.01" cy="317.24" r="1.8"/><circle cx="97.43" cy="316.74" r="1.8"/><circle cx="97.86" cy="316.23" r="1.8"/><circle cx="98.28" cy="315.73" r="1.8"/><circle cx="98.7" cy="315.23" r="1.8"/><circle cx="99.13" cy="314.72" r="1.8"/><circle cx="99.55" cy="314.22" r="1.8"/><circle cx="99.98" cy="313.71" r="1.8"/><circle cx="100.4" cy="313.2" r="1.8"/><circle cx="100.82" cy="312.69" r="1.8"/><circle cx="101.25" cy="312.17" r="1.8"/><circle cx="101.67" cy="311.65" r="1.8"/><circle cx="102.1" cy="311.13" r="1.8"/><circle cx="102.52" cy="310.61" r="1.8"/><circle cx="102.95" cy="310.09" r="1.8"/><circle cx="103.37" cy="309.56" r="1.8"/><circle cx="103.79" cy="309.03" r="1.8"/><circle cx="104.22" cy="308.49" r="1.8"/><circle cx="104.64" cy="307.95" r="1.8"/><circle cx="105.07" cy="307.41" r="1.8"/><circle cx="105.49" cy="306.87" r="1.8"/><circle cx="105.91" cy="306.33" r="1.8"/><circle cx="106.34" cy="305.79" r="1.8"/><circle cx="106.76" cy="305.24" r="1.8"/><circle cx="107.19" cy="304.69" r="1.8"/><circle cx="107.61" cy="304.13" r="1.8"/><circle cx="108.04" cy="303.57" r="1.8"/><circle cx="108.46" cy="303" r="1.8"/><circle cx="108.88" cy="302.43" r="1.8"/><circle cx="109.31" cy="301.85" r="1.8"/><circle cx="109.73" cy="301.26" r="1.8"/><circle cx="110.16" cy="300.67" r="1.8"/><circle cx="110.58" cy="300.06" r="1.8"/><circle cx="111" cy="299.45" r="1.8"/><circle cx="111.43" cy="298.84" r="1.8"/><circle cx="111.85" cy="298.21" r="1.8"/><circle cx="112.28" cy="297.58" r="1.8"/><circle cx="112.7" cy="296.94" r="1.8"/><circle cx="113.13" cy="296.3" r="1.8"/><circle cx="113.55" cy="295.65" r="1.8"/><circle cx="113.97" cy="294.99" r="1.8"/><circle cx="114.4" cy="294.32" r="1.8"/><circle cx="114.82" cy="293.64" r="1.8"/><circle cx="115.25" cy="292.96" r="1.8"/><circle cx="115.67" cy="292.26" r="1.8"/><circle cx="116.09" cy="291.56" r="1.8"/><circle cx="116.52" cy="290.84" r="1.8"/><circle cx="116.94" cy="290.12" r="1.8"/><circle cx="117.37" cy="289.39" r="1.8"/><circle cx="117.79" cy="288.67" r="1.8"/><circle cx="118.21" cy="287.95" r="1.8"/><circle cx="118.64" cy="287.22" r="1.8"/><circle cx="119.06" cy="286.47" r="1.8"/><circle cx="119.49" cy="285.7" r="1.8"/><circle cx="119.91" cy="284.91" r="1.8"/><circle cx="120.34" cy="284.08" r="1.8"/><circle cx="120.76" cy="283.2" r="1.8"/><circle cx="121.18" cy="282.28" r="1.8"/><circle cx="121.61" cy="281.31" r="1.8"/><circle cx="122.03" cy="280.26" r="1.8"/><circle cx="122.46" cy="279.12" r="1.8"/><circle cx="122.88" cy="277.89" r="1.8"/><circle cx="123.3" cy="276.59" r="1.8"/><circle cx="123.73" cy="275.23" r="1.8"/><circle cx="124.15" cy="273.81" r="1.8"/><circle cx="124.58" cy="272.34" r="1.8"/><circle cx="125" cy="270.84" r="1.8"/><circle cx="125.43" cy="269.28" r="1.8"/><circle cx="125.85" cy="267.68" r="1.8"/><circle cx="126.27" cy="266.01" r="1.8"/><circle cx="126.7" cy="264.28" r="1.8"/><circle cx="127.12" cy="262.47" r="1.8"/><circle cx="127.55" cy="260.59" r="1.8"/><circle cx="127.97" cy="258.61" r="1.8"/><circle cx="128.39" cy="256.55" r="1.8"/><circle cx="128.82" cy="254.39" r="1.8"/><circle cx="129.24" cy="251.97" r="1.8"/><circle cx="129.67" cy="249.14" r="1.8"/><circle cx="130.09" cy="246.01" r="1.8"/><circle cx="130.52" cy="242.74" r="1.8"/><circle cx="130.94" cy="239.44" r="1.8"/><circle cx="131.36" cy="236.26" r="1.8"/><circle cx="131.79" cy="233.34" r="1.8"/><circle cx="132.21" cy="230.8" r="1.8"/><circle cx="132.64" cy="228.78" r="1.8"/><circle cx="133.06" cy="227.13" r="1.8"/><circle cx="133.48" cy="225.65" r="1.8"/><circle cx="133.91" cy="224.31" r="1.8"/><circle cx="134.33" cy="223.08" r="1.8"/><circle cx="134.76" cy="221.93" r="1.8"/><circle cx="135.18" cy="220.85" r="1.8"/><circle cx="135.6" cy="219.8" r="1.8"/><circle cx="136.03" cy="218.78" r="1.8"/><circle cx="136.45" cy="217.82" r="1.8"/><circle cx="136.88" cy="216.91" r="1.8"/><circle cx="137.3" cy="216.04" r="1.8"/><circle cx="137.73" cy="215.2" r="1.8"/><circle cx="138.15" cy="214.39" r="1.8"/><circle cx="138.57" cy="213.61" r="1.8"/><circle cx="139" cy="212.84" r="1.8"/><circle cx="139.42" cy="212.05" r="1.8"/><circle cx="139.85" cy="211.22" r="1.8"/><circle cx="140.27" cy="210.4" r="1.8"/><circle cx="140.69" cy="209.59" r="1.8"/><circle cx="141.12" cy="208.83" r="1.8"/><circle cx="141.54" cy="208.12" r="1.8"/><circle cx="141.97" cy="207.51" r="1.8"/><circle cx="142.39" cy="206.99" r="1.8"/><circle cx="142.82" cy="206.61" r="1.8"/><circle cx="143.24" cy="206.36" r="1.8"/><circle cx="143.66" cy="206.16" r="1.8"/><circle cx="144.09" cy="205.96" r="1.8"/><circle cx="144.51" cy="205.78" r="1.8"/><circle cx="144.94" cy="205.62" r="1.8"/><circle cx="145.36" cy="205.48" r="1.8"/><circle cx="145.78" cy="205.35" r="1.8"/><circle cx="146.21" cy="205.25" r="1.8"/><circle cx="146.63" cy="205.17" r="1.8"/><circle cx="147.06" cy="205.12" r="1.8"/><circle cx="147.48" cy="205.1" r="1.8"/><circle cx="147.91" cy="205.11" r="1.8"/><circle cx="148.33" cy="205.17" r="1.8"/><circle cx="148.75" cy="205.27" r="1.8"/><circle cx="149.18" cy="205.4" r="1.8"/><circle cx="149.6" cy="205.58" r="1.8"/><circle cx="150.03" cy="205.78" r="1.8"/><circle cx="150.45" cy="206.01" r="1.8"/><circle cx="150.87" cy="206.27" r="1.8"/><circle cx="151.3" cy="206.55" r="1.8"/><circle cx="151.72" cy="206.85" r="1.8"/><circle cx="152.15" cy="207.16" r="1.8"/><circle cx="152.57" cy="207.49" r="1.8"/><circle cx="153" cy="207.83" r="1.8"/><circle cx="153.42" cy="208.17" r="1.8"/><circle cx="153.84" cy="208.52" r="1.8"/><circle cx="154.27" cy="208.86" r="1.8"/><circle cx="154.69" cy="209.21" r="1.8"/><circle cx="155.12" cy="209.55" r="1.8"/><circle cx="155.54" cy="209.88" r="1.8"/><circle cx="155.96" cy="210.19" r="1.8"/><circle cx="156.39" cy="210.5" r="1.8"/><circle cx="156.81" cy="210.8" r="1.8"/><circle cx="157.24" cy="211.1" r="1.8"/><circle cx="157.66" cy="211.41" r="1.8"/><circle cx="158.08" cy="211.73" r="1.8"/><circle cx="158.51" cy="212.05" r="1.8"/><circle cx="158.93" cy="212.37" r="1.8"/><circle cx="159.36" cy="212.7" r="1.8"/><circle cx="159.78" cy="213.04" r="1.8"/><circle cx="160.21" cy="213.38" r="1.8"/><circle cx="160.63" cy="213.72" r="1.8"/><circle cx="161.05" cy="214.07" r="1.8"/><circle cx="161.48" cy="214.42" r="1.8"/><circle cx="161.9" cy="214.78" r="1.8"/><circle cx="162.33" cy="215.14" r="1.8"/><circle cx="162.75" cy="215.5" r="1.8"/><circle cx="163.17" cy="215.87" r="1.8"/><circle cx="163.6" cy="216.24" r="1.8"/><circle cx="164.02" cy="216.61" r="1.8"/><circle cx="164.45" cy="216.99" r="1.8"/><circle cx="164.87" cy="217.37" r="1.8"/><circle cx="165.3" cy="217.75" r="1.8"/><circle cx="165.72" cy="218.14" r="1.8"/><circle cx="166.14" cy="218.52" r="1.8"/><circle cx="166.57" cy="218.92" r="1.8"/><circle cx="166.99" cy="219.32" r="1.8"/><circle cx="167.42" cy="219.72" r="1.8"/><circle cx="167.84" cy="220.12" r="1.8"/><circle cx="168.26" cy="220.54" r="1.8"/><circle cx="168.69" cy="220.95" r="1.8"/><circle cx="169.11" cy="221.37" r="1.8"/><circle cx="169.54" cy="221.8" r="1.8"/><circle cx="169.96" cy="222.23" r="1.8"/><circle cx="170.39" cy="222.66" r="1.8"/><circle cx="170.81" cy="223.1" r="1.8"/><circle cx="171.23" cy="223.55" r="1.8"/><circle cx="171.66" cy="224" r="1.8"/><circle cx="172.08" cy="224.46" r="1.8"/><circle cx="172.51" cy="224.92" r="1.8"/><circle cx="172.93" cy="225.39" r="1.8"/><circle cx="173.35" cy="225.86" r="1.8"/><circle cx="173.78" cy="226.34" r="1.8"/><circle cx="174.2" cy="226.83" r="1.8"/><circle cx="174.63" cy="227.33" r="1.8"/><circle cx="175.05" cy="227.84" r="1.8"/><circle cx="175.48" cy="228.35" r="1.8"/><circle cx="175.9" cy="228.88" r="1.8"/><circle cx="176.32" cy="229.41" r="1.8"/><circle cx="176.75" cy="229.95" r="1.8"/><circle cx="177.17" cy="230.5" r="1.8"/><circle cx="177.6" cy="231.05" r="1.8"/><circle cx="178.02" cy="231.61" r="1.8"/><circle cx="178.44" cy="232.18" r="1.8"/><circle cx="178.87" cy="232.75" r="1.8"/><circle cx="179.29" cy="233.32" r="1.8"/><circle cx="179.72" cy="233.91" r="1.8"/><circle cx="180.14" cy="234.49" r="1.8"/><circle cx="180.56" cy="235.08" r="1.8"/><circle cx="180.99" cy="235.67" r="1.8"/><circle cx="181.41" cy="236.27" r="1.8"/><circle cx="181.84" cy="236.87" r="1.8"/><circle cx="182.26" cy="237.48" r="1.8"/><circle cx="182.69" cy="238.09" r="1.8"/><circle cx="183.11" cy="238.72" r="1.8"/><circle cx="183.53" cy="239.35" r="1.8"/><circle cx="183.96" cy="240" r="1.8"/><circle cx="184.38" cy="240.65" r="1.8"/><circle cx="184.81" cy="241.3" r="1.8"/><circle cx="185.23" cy="241.96" r="1.8"/><circle cx="185.65" cy="242.63" r="1.8"/><circle cx="186.08" cy="243.3" r="1.8"/><circle cx="186.5" cy="243.98" r="1.8"/><circle cx="186.93" cy="244.65" r="1.8"/><circle cx="187.35" cy="245.33" r="1.8"/><circle cx="187.78" cy="246.01" r="1.8"/><circle cx="188.2" cy="246.7" r="1.8"/><circle cx="188.62" cy="247.38" r="1.8"/><circle cx="189.05" cy="248.06" r="1.8"/><circle cx="189.47" cy="248.74" r="1.8"/><circle cx="189.9" cy="249.41" r="1.8"/><circle cx="190.32" cy="250.09" r="1.8"/><circle cx="190.74" cy="250.76" r="1.8"/><circle cx="191.17" cy="251.42" r="1.8"/><circle cx="191.59" cy="252.08" r="1.8"/><circle cx="192.02" cy="252.74" r="1.8"/><circle cx="192.44" cy="253.39" r="1.8"/><circle cx="192.87" cy="254.03" r="1.8"/><circle cx="193.29" cy="254.67" r="1.8"/><circle cx="193.71" cy="255.3" r="1.8"/><circle cx="194.14" cy="255.94" r="1.8"/><circle cx="194.56" cy="256.57" r="1.8"/><circle cx="194.99" cy="257.19" r="1.8"/><circle cx="195.41" cy="257.82" r="1.8"/><circle cx="195.83" cy="258.44" r="1.8"/><circle cx="196.26" cy="259.06" r="1.8"/><circle cx="196.68" cy="259.68" r="1.8"/><circle cx="197.11" cy="260.3" r="1.8"/><circle cx="197.53" cy="260.91" r="1.8"/><circle cx="197.96" cy="261.53" r="1.8"/><circle cx="198.38" cy="262.14" r="1.8"/><circle cx="198.8" cy="262.76" r="1.8"/><circle cx="199.23" cy="263.37" r="1.8"/><circle cx="199.65" cy="263.98" r="1.8"/><circle cx="200.08" cy="264.6" r="1.8"/><circle cx="200.5" cy="265.21" r="1.8"/><circle cx="200.92" cy="265.83" r="1.8"/><circle cx="201.35" cy="266.45" r="1.8"/><circle cx="201.77" cy="267.07" r="1.8"/><circle cx="202.2" cy="267.69" r="1.8"/><circle cx="202.62" cy="268.31" r="1.8"/><circle cx="203.04" cy="268.93" r="1.8"/><circle cx="203.47" cy="269.56" r="1.8"/><circle cx="203.89" cy="270.19" r="1.8"/><circle cx="204.32" cy="270.82" r="1.8"/><circle cx="204.74" cy="271.45" r="1.8"/><circle cx="205.17" cy="272.09" r="1.8"/><circle cx="205.59" cy="272.74" r="1.8"/><circle cx="206.01" cy="273.38" r="1.8"/><circle cx="206.44" cy="274.03" r="1.8"/><circle cx="206.86" cy="274.68" r="1.8"/><circle cx="207.29" cy="275.34" r="1.8"/><circle cx="207.71" cy="276" r="1.8"/><circle cx="208.13" cy="276.65" r="1.8"/><circle cx="208.56" cy="277.31" r="1.8"/><circle cx="208.98" cy="277.97" r="1.8"/><circle cx="209.41" cy="278.63" r="1.8"/><circle cx="209.83" cy="279.29" r="1.8"/><circle cx="210.26" cy="279.95" r="1.8"/><circle cx="210.68" cy="280.61" r="1.8"/><circle cx="211.1" cy="281.28" r="1.8"/><circle cx="211.53" cy="281.95" r="1.8"/><circle cx="211.95" cy="282.63" r="1.8"/><circle cx="212.38" cy="283.31" r="1.8"/><circle cx="212.8" cy="284" r="1.8"/><circle cx="213.22" cy="284.69" r="1.8"/><circle cx="213.65" cy="285.38" r="1.8"/><circle cx="214.07" cy="286.09" r="1.8"/><circle cx="214.5" cy="286.8" r="1.8"/><circle cx="214.92" cy="287.52" r="1.8"/><circle cx="215.35" cy="288.24" r="1.8"/><circle cx="215.77" cy="288.98" r="1.8"/><circle cx="216.19" cy="289.72" r="1.8"/><circle cx="216.62" cy="290.47" r="1.8"/><circle cx="217.04" cy="291.23" r="1.8"/><circle cx="217.47" cy="292.01" r="1.8"/><circle cx="217.89" cy="292.81" r="1.8"/><circle cx="218.31" cy="293.61" r="1.8"/><circle cx="218.74" cy="294.43" r="1.8"/><circle cx="219.16" cy="295.26" r="1.8"/><circle cx="219.59" cy="296.1" r="1.8"/><circle cx="220.01" cy="296.95" r="1.8"/><circle cx="220.43" cy="297.8" r="1.8"/><circle cx="220.86" cy="298.66" r="1.8"/><circle cx="221.28" cy="299.53" r="1.8"/><circle cx="221.71" cy="300.4" r="1.8"/><circle cx="222.13" cy="301.27" r="1.8"/><circle cx="222.56" cy="302.14" r="1.8"/><circle cx="222.98" cy="303.01" r="1.8"/><circle cx="223.4" cy="303.88" r="1.8"/><circle cx="223.83" cy="304.75" r="1.8"/><circle cx="224.25" cy="305.61" r="1.8"/><circle cx="224.68" cy="306.47" r="1.8"/><circle cx="225.1" cy="307.32" r="1.8"/></g>
<circle cx="255.2" cy="222" r="2.6" fill="#000"/>
<text x="261" y="225.6" font-size="10.5" stroke="#000" >Hla</text>
<circle cx="255.2" cy="235.07" r="2.6" fill="#9B1EF7"/>
<text x="261" y="238.67" font-size="10.5" stroke="#000" >Hla<tspan font-size="8.0" dx="0.8" dy="3.0">H</tspan></text>
<circle cx="255.2" cy="248.14" r="2.6" fill="#EF8A2A"/>
<text x="261" y="251.74" font-size="10.5" stroke="#000" >Hla<tspan font-size="8.0" dx="0.8" dy="3.0">HDY</tspan></text>
<circle cx="255.2" cy="261.21" r="2.6" fill="#55A3F5"/>
<text x="261" y="264.81" font-size="10.5" stroke="#000" >Hla<tspan font-size="8.0" dx="0.8" dy="3.0">HRE</tspan></text>
<text x="312.4" y="211" font-size="12" stroke="#000" font-weight="bold" >e</text>
<rect x="356.6" y="226.2" width="174.4" height="87.8" fill="#f4f4f4" />
<line x1="349.9" y1="233.3" x2="355.6" y2="233.3" stroke="#000" stroke-width="1.4" />
<text x="348.2" y="237.1" font-size="10.9" text-anchor="end" stroke="#000" >175</text>
<line x1="349.9" y1="244.1" x2="355.6" y2="244.1" stroke="#000" stroke-width="1.4" />
<text x="348.2" y="247.9" font-size="10.9" text-anchor="end" stroke="#000" >80</text>
<line x1="349.9" y1="268.4" x2="355.6" y2="268.4" stroke="#000" stroke-width="1.4" />
<text x="348.2" y="272.2" font-size="10.9" text-anchor="end" stroke="#000" >58</text>
<line x1="349.9" y1="284" x2="355.6" y2="284" stroke="#000" stroke-width="1.4" />
<text x="348.2" y="287.8" font-size="10.9" text-anchor="end" stroke="#000" >46</text>
<line x1="349.9" y1="306.9" x2="355.6" y2="306.9" stroke="#000" stroke-width="1.4" />
<text x="348.2" y="310.7" font-size="10.9" text-anchor="end" stroke="#000" >30</text>
<text x="326" y="268.5" font-size="11.3" text-anchor="middle" stroke="#000" transform="rotate(-90 326 268.5)" >kDa</text>
<text x="370.5" y="223.9" font-size="10.5" text-anchor="middle" stroke="#000" >Hla</text>
<text x="408.8" y="223.9" font-size="10.5" stroke="#000" >Hla<tspan font-size="8.0" dx="0.8" dy="3.0">H</tspan></text>
<text x="451.6" y="223.9" font-size="10.5" stroke="#000" >Hla<tspan font-size="8.0" dx="0.8" dy="3.0">HDY</tspan></text>
<text x="499" y="223.9" font-size="10.5" stroke="#000" >Hla<tspan font-size="8.0" dx="0.8" dy="3.0">HRE</tspan></text>
<rect x="357.4" y="296" width="28.4" height="18" fill="#e8e8e8" filter="url(#b2)"/>
<rect x="406.5" y="298" width="26.8" height="16" fill="#eaeaea" filter="url(#b2)"/>
<rect x="503.5" y="300" width="24.1" height="13" fill="#ececec" filter="url(#b2)"/>
<defs><linearGradient id="smear" x1="0" y1="0" x2="0" y2="1"><stop offset="0" stop-color="#eeeeee"/><stop offset="0.35" stop-color="#e9e9e9"/><stop offset="0.7" stop-color="#dadada"/><stop offset="0.9" stop-color="#cbcbcb"/><stop offset="1" stop-color="#bdbdbd"/></linearGradient><linearGradient id="smearh" x1="0" y1="0" x2="1" y2="0"><stop offset="0" stop-color="#000" stop-opacity="0.10"/><stop offset="0.2" stop-color="#000" stop-opacity="0"/><stop offset="0.8" stop-color="#000" stop-opacity="0"/><stop offset="1" stop-color="#000" stop-opacity="0.10"/></linearGradient></defs>
<rect x="459" y="227.5" width="20" height="77.5" fill="url(#smear)" filter="url(#b1)"/>
<rect x="459" y="238" width="20" height="67" fill="url(#smearh)" filter="url(#b1)"/>
<rect x="459" y="227" width="20" height="6" fill="#e2e2e2" filter="url(#b1)"/>
<rect x="357.4" y="301.2" width="28.2" height="3.6" rx="1.8" fill="rgb(28,28,28)" opacity="1.0" filter="url(#b3)"/>
<rect x="358" y="306.6" width="27" height="2" rx="1" fill="rgb(185,185,185)" opacity="0.8" filter="url(#b3)"/>
<rect x="358" y="310.6" width="27" height="2" rx="1" fill="rgb(195,195,195)" opacity="0.7" filter="url(#b3)"/>
<rect x="406.5" y="302.8" width="26.5" height="3.4" rx="1.7" fill="rgb(32,32,32)" opacity="1.0" filter="url(#b3)"/>
<rect x="407" y="308.1" width="25.5" height="1.8" rx="0.9" fill="rgb(190,190,190)" opacity="0.7" filter="url(#b3)"/>
<rect x="407" y="311.8" width="25.5" height="1.6" rx="0.8" fill="rgb(200,200,200)" opacity="0.6" filter="url(#b3)"/>
<rect x="458.6" y="234.25" width="20.8" height="1.3" rx="0.65" fill="rgb(120,120,120)" opacity="1.0" filter="url(#b1)"/>
<rect x="458.6" y="236.5" width="20.8" height="1.2" rx="0.6" fill="rgb(135,135,135)" opacity="1.0" filter="url(#b1)"/>
<rect x="456" y="303.8" width="24" height="3" rx="1.5" fill="rgb(38,38,38)" opacity="1.0" filter="url(#b3)"/>
<rect x="503.5" y="304.9" width="24.1" height="3.4" rx="1.7" fill="rgb(35,35,35)" opacity="1.0" filter="url(#b3)"/>
<polygon points="532,235 539.6,231.6 539.6,238.4" fill="#000"/>
<text x="540.4" y="238.8" font-size="10.5" stroke="#000" >Hla<tspan font-size="8.0" dx="0.8" dy="3.0">7</tspan></text>
<polygon points="532,306.6 539.6,303.2 539.6,310" fill="#000"/>
<text x="540.4" y="310.4" font-size="10.5" stroke="#000" >Hla<tspan font-size="8.0" dx="0.8" dy="3.0">1</tspan></text>
<text x="1.6" y="403.8" font-size="13" stroke="#000" font-weight="bold" >f</text>
<rect x="39.6" y="411.9" width="175.3" height="109.1" fill="#e9e9e9" />
<rect x="285.1" y="411.7" width="174.5" height="109.3" fill="#eaeaea" />
<line x1="33.3" y1="435.9" x2="39" y2="435.9" stroke="#000" stroke-width="1.4" />
<text x="30.2" y="439.7" font-size="10.9" text-anchor="end" stroke="#000" >175</text>
<line x1="33.3" y1="446.9" x2="39" y2="446.9" stroke="#000" stroke-width="1.4" />
<text x="30.2" y="450.7" font-size="10.9" text-anchor="end" stroke="#000" >80</text>
<line x1="33.3" y1="470.6" x2="39" y2="470.6" stroke="#000" stroke-width="1.4" />
<text x="30.2" y="474.4" font-size="10.9" text-anchor="end" stroke="#000" >58</text>
<line x1="33.3" y1="485.8" x2="39" y2="485.8" stroke="#000" stroke-width="1.4" />
<text x="30.2" y="489.6" font-size="10.9" text-anchor="end" stroke="#000" >46</text>
<line x1="33.3" y1="513.9" x2="39" y2="513.9" stroke="#000" stroke-width="1.4" />
<text x="30.2" y="517.7" font-size="10.9" text-anchor="end" stroke="#000" >30</text>
<line x1="278.1" y1="433" x2="284.8" y2="433" stroke="#000" stroke-width="1.4" />
<text x="276.6" y="436.8" font-size="10.9" text-anchor="end" stroke="#000" >175</text>
<line x1="278.1" y1="445.3" x2="284.8" y2="445.3" stroke="#000" stroke-width="1.4" />
<text x="276.6" y="449.1" font-size="10.9" text-anchor="end" stroke="#000" >80</text>
<line x1="278.1" y1="467.7" x2="284.8" y2="467.7" stroke="#000" stroke-width="1.4" />
<text x="276.6" y="471.5" font-size="10.9" text-anchor="end" stroke="#000" >58</text>
<line x1="278.1" y1="483.3" x2="284.8" y2="483.3" stroke="#000" stroke-width="1.4" />
<text x="276.6" y="487.1" font-size="10.9" text-anchor="end" stroke="#000" >46</text>
<line x1="278.1" y1="512.3" x2="284.8" y2="512.3" stroke="#000" stroke-width="1.4" />
<text x="276.6" y="516.1" font-size="10.9" text-anchor="end" stroke="#000" >30</text>
<text x="8.6" y="470" font-size="11.3" text-anchor="middle" stroke="#000" transform="rotate(-90 8.6 470)" >kDa</text>
<text x="254.5" y="469" font-size="11.3" text-anchor="middle" stroke="#000" transform="rotate(-90 254.5 469)" >kDa</text>
<line x1="46.6" y1="408.9" x2="117.6" y2="408.9" stroke="#000" stroke-width="1.7" />
<line x1="128.5" y1="409.3" x2="200.1" y2="409.3" stroke="#000" stroke-width="1.7" />
<line x1="295" y1="409.2" x2="365.5" y2="409.2" stroke="#000" stroke-width="1.7" />
<line x1="379" y1="409.2" x2="450.1" y2="409.2" stroke="#000" stroke-width="1.7" />
<text x="85.2" y="404.9" font-size="10.5" text-anchor="middle" stroke="#000" >Hla</text>
<text x="153.8" y="405" font-size="10.5" stroke="#000" >Hla<tspan font-size="7.8" dx="0.8" dy="2.6">H</tspan></text>
<text x="313.6" y="404.5" font-size="10.5" stroke="#000" >Hla<tspan font-size="7.8" dx="0.8" dy="2.6">HDY</tspan></text>
<text x="397.6" y="404.5" font-size="10.5" stroke="#000" >Hla<tspan font-size="7.8" dx="0.8" dy="2.6">HRE</tspan></text>
<text x="58.4" y="422.8" font-size="10.5" text-anchor="middle" stroke="#000" >37°</text>
<text x="85.2" y="422.8" font-size="10.5" text-anchor="middle" stroke="#000" >62°</text>
<text x="112.6" y="422.8" font-size="10.5" text-anchor="middle" stroke="#000" >80°</text>
<text x="139.2" y="422.8" font-size="10.5" text-anchor="middle" stroke="#000" >37°</text>
<text x="166" y="422.8" font-size="10.5" text-anchor="middle" stroke="#000" >62°</text>
<text x="193.6" y="422.8" font-size="10.5" text-anchor="middle" stroke="#000" >80°</text>
<text x="304.6" y="422.5" font-size="10.5" text-anchor="middle" stroke="#000" >37°</text>
<text x="331.9" y="422.5" font-size="10.5" text-anchor="middle" stroke="#000" >62°</text>
<text x="358.7" y="422.5" font-size="10.5" text-anchor="middle" stroke="#000" >80°</text>
<text x="389.5" y="422.5" font-size="10.5" text-anchor="middle" stroke="#000" >37°</text>
<text x="416.5" y="422.5" font-size="10.5" text-anchor="middle" stroke="#000" >62°</text>
<text x="444" y="422.5" font-size="10.5" text-anchor="middle" stroke="#000" >80°</text>
<rect x="127.5" y="441" width="22" height="66" fill="#eeeeee" filter="url(#b2)"/>
<rect x="45.5" y="431" width="21.5" height="8" fill="#dadada" filter="url(#b2)"/>
<rect x="74" y="429" width="20" height="9" fill="#dedede" filter="url(#b2)"/>
<rect x="128" y="430" width="21.5" height="8" fill="#d6d6d6" filter="url(#b2)"/>
<rect x="155" y="430" width="19" height="10" fill="#cfcfcf" filter="url(#b2)"/>
<rect x="44.6" y="438" width="22.8" height="2.8" rx="1.4" fill="rgb(30,30,30)" opacity="1.0" filter="url(#b3)"/>
<circle cx="45.6" cy="439.4" r="1.5" fill="#111"/>
<circle cx="66.4" cy="439.4" r="1.5" fill="#111"/>
<rect x="73.5" y="437.9" width="21" height="2.8" rx="1.4" fill="rgb(35,35,35)" opacity="1.0" filter="url(#b3)"/>
<circle cx="74.5" cy="439.3" r="1.4" fill="#111"/>
<circle cx="93.5" cy="439.3" r="1.4" fill="#111"/>
<rect x="101" y="428.8" width="20.5" height="1.6" rx="0.8" fill="rgb(85,85,85)" opacity="1.0" filter="url(#b1)"/>
<rect x="127.3" y="436.7" width="21.1" height="3.6" rx="1.8" fill="rgb(55,55,55)" opacity="1.0" filter="url(#b3)"/>
<rect x="155" y="428.6" width="19.6" height="1.4" rx="0.7" fill="rgb(125,125,125)" opacity="1.0" filter="url(#b1)"/>
<rect x="155" y="437.6" width="19.6" height="2" rx="1" fill="rgb(165,165,165)" opacity="1.0" filter="url(#b3)"/>
<rect x="181.2" y="428.55" width="20.2" height="1.5" rx="0.75" fill="rgb(95,95,95)" opacity="1.0" filter="url(#b1)"/>
<rect x="42" y="510.4" width="25.4" height="3.2" rx="1.6" fill="rgb(140,140,140)" opacity="1.0" filter="url(#b3)"/>
<rect x="72.2" y="510.8" width="23.6" height="3.2" rx="1.6" fill="rgb(135,135,135)" opacity="1.0" filter="url(#b3)"/>
<rect x="99.8" y="510.3" width="23.6" height="3.4" rx="1.7" fill="rgb(50,50,50)" opacity="1.0" filter="url(#b3)"/>
<rect x="126" y="510.7" width="24.5" height="3.4" rx="1.7" fill="rgb(55,55,55)" opacity="1.0" filter="url(#b3)"/>
<rect x="153.6" y="510.3" width="23.7" height="3.4" rx="1.7" fill="rgb(42,42,42)" opacity="1.0" filter="url(#b3)"/>
<rect x="182.5" y="509.3" width="23.7" height="3.8" rx="1.9" fill="rgb(18,18,18)" opacity="1.0" filter="url(#b3)"/>
<polygon points="214.9,436.5 222.5,433.1 222.5,439.9" fill="#000"/>
<text x="223.3" y="440.3" font-size="10.5" stroke="#000" >Hla<tspan font-size="8.0" dx="0.8" dy="3.0">7</tspan></text>
<polygon points="214.9,512.4 222.5,509 222.5,515.8" fill="#000"/>
<text x="223.3" y="516.2" font-size="10.5" stroke="#000" >Hla<tspan font-size="8.0" dx="0.8" dy="3.0">1</tspan></text>
<rect x="293.5" y="428" width="22" height="8" fill="#dedede" filter="url(#b2)"/>
<rect x="293.2" y="435.2" width="22.3" height="2" rx="1" fill="rgb(95,95,95)" opacity="1.0" filter="url(#b3)"/>
<rect x="322" y="434.4" width="20.3" height="1.8" rx="0.9" fill="rgb(130,130,130)" opacity="1.0" filter="url(#b3)"/>
<rect x="349.7" y="424.7" width="18.9" height="1.2" rx="0.6" fill="rgb(175,175,175)" opacity="1.0" filter="url(#b3)"/>
<rect x="289.3" y="505.2" width="26.7" height="3.2" rx="1.6" fill="rgb(85,85,85)" opacity="1.0" filter="url(#b3)"/>
<rect x="319.5" y="504.4" width="23.5" height="3.2" rx="1.6" fill="rgb(65,65,65)" opacity="1.0" filter="url(#b3)"/>
<rect x="346.5" y="503.8" width="24.7" height="3.4" rx="1.7" fill="rgb(50,50,50)" opacity="1.0" filter="url(#b3)"/>
<rect x="376" y="504.8" width="21" height="2.4" rx="1.2" fill="rgb(205,205,205)" opacity="1.0" filter="url(#b3)"/>
<rect x="402.2" y="504.8" width="22.4" height="2.4" rx="1.2" fill="rgb(205,205,205)" opacity="1.0" filter="url(#b3)"/>
<rect x="430" y="504.8" width="22" height="2.4" rx="1.2" fill="rgb(205,205,205)" opacity="1.0" filter="url(#b3)"/>
<polygon points="460.6,433 468.2,429.6 468.2,436.4" fill="#000"/>
<text x="469" y="436.8" font-size="10.5" stroke="#000" >Hla<tspan font-size="8.0" dx="0.8" dy="3.0">7</tspan></text>
<polygon points="460.6,507 468.2,503.6 468.2,510.4" fill="#000"/>
<text x="469" y="510.8" font-size="10.5" stroke="#000" >Hla<tspan font-size="8.0" dx="0.8" dy="3.0">1</tspan></text>
<text x="494" y="404.6" font-size="12.5" stroke="#000" font-weight="bold" >g</text>
<rect x="537.7" y="414.4" width="116" height="105.3" fill="#e2e2e2" />
<line x1="524.2" y1="430" x2="537.4" y2="430" stroke="#000" stroke-width="1.4" />
<text x="522.2" y="433.8" font-size="10.9" text-anchor="end" stroke="#000" >175</text>
<line x1="524.2" y1="445.3" x2="537.4" y2="445.3" stroke="#000" stroke-width="1.4" />
<text x="522.2" y="449.1" font-size="10.9" text-anchor="end" stroke="#000" >80</text>
<line x1="524.2" y1="469.8" x2="537.4" y2="469.8" stroke="#000" stroke-width="1.4" />
<text x="522.2" y="473.6" font-size="10.9" text-anchor="end" stroke="#000" >58</text>
<line x1="524.2" y1="485.2" x2="537.4" y2="485.2" stroke="#000" stroke-width="1.4" />
<text x="522.2" y="489" font-size="10.9" text-anchor="end" stroke="#000" >46</text>
<line x1="524.2" y1="514.5" x2="537.4" y2="514.5" stroke="#000" stroke-width="1.4" />
<text x="522.2" y="518.3" font-size="10.9" text-anchor="end" stroke="#000" >30</text>
<text x="501" y="470.4" font-size="11.3" text-anchor="middle" stroke="#000" transform="rotate(-90 501 470.4)" >kDa</text>
<text x="554.3" y="407.5" font-size="10.5" text-anchor="middle" stroke="#000" >Hla</text>
<line x1="572.7" y1="411.6" x2="644" y2="411.6" stroke="#000" stroke-width="1.6" />
<text x="604.6" y="407.5" font-size="10.5" stroke="#000" >Hla<tspan font-size="8.0" dx="0.8" dy="2.3">HRE</tspan></text>
<text x="554.5" y="426.6" font-size="10.5" text-anchor="middle" stroke="#000" >1x</text>
<text x="581.7" y="426.6" font-size="10.5" text-anchor="middle" stroke="#000" >1x</text>
<text x="608.1" y="426.6" font-size="10.5" text-anchor="middle" stroke="#000" >2x</text>
<text x="635.3" y="426.6" font-size="10.5" text-anchor="middle" stroke="#000" >5x</text>
<rect x="545" y="427" width="23" height="12" fill="#d2d2d2" filter="url(#b2)"/>
<rect x="544.6" y="432.2" width="22.8" height="4.4" rx="2.2" fill="rgb(8,8,8)" opacity="1.0" filter="url(#b3)"/>
<rect x="545" y="431.4" width="22" height="1.2" rx="0.6" fill="rgb(60,60,60)" opacity="1.0" filter="url(#b1)"/>
<rect x="572.7" y="433.5" width="20.1" height="2" rx="1" fill="rgb(200,200,200)" opacity="1.0" filter="url(#b3)"/>
<rect x="599" y="433.4" width="19.2" height="2.2" rx="1.1" fill="rgb(160,160,160)" opacity="1.0" filter="url(#b3)"/>
<rect x="625" y="427" width="21" height="6" fill="#d2d2d2" filter="url(#b2)"/>
<rect x="625.2" y="432.8" width="21" height="3.2" rx="1.6" fill="rgb(60,60,60)" opacity="1.0" filter="url(#b3)"/>
<rect x="625.2" y="429.9" width="21" height="1.4" rx="0.7" fill="rgb(150,150,150)" opacity="1.0" filter="url(#b1)"/>
<rect x="542" y="505.7" width="21.9" height="3" rx="1.5" fill="rgb(85,85,85)" opacity="1.0" filter="url(#b3)"/>
<rect x="544" y="514.3" width="18" height="1.6" rx="0.8" fill="rgb(190,190,190)" opacity="1.0" filter="url(#b3)"/>
<rect x="571" y="505.2" width="21.8" height="2.4" rx="1.2" fill="rgb(185,185,185)" opacity="1.0" filter="url(#b3)"/>
<rect x="599" y="504.7" width="20" height="2.6" rx="1.3" fill="rgb(150,150,150)" opacity="1.0" filter="url(#b3)"/>
<rect x="624.3" y="503.1" width="24.6" height="3" rx="1.5" fill="rgb(95,95,95)" opacity="1.0" filter="url(#b3)"/>
<polygon points="655.1,434.2 662.7,430.8 662.7,437.6" fill="#000"/>
<text x="663.5" y="438" font-size="10.5" stroke="#000" >Hla<tspan font-size="8.0" dx="0.8" dy="3.0">7</tspan></text>
<polygon points="655.1,504.6 662.7,501.2 662.7,508" fill="#000"/>
<text x="663.5" y="508.4" font-size="10.5" stroke="#000" >Hla<tspan font-size="8.0" dx="0.8" dy="3.0">1</tspan></text>
<text x="10.4" y="562.2" font-size="13" stroke="#000" font-weight="bold" >h</text>
<g stroke-width="0.75"><line x1="54.95" y1="777.4" x2="54.95" y2="776.08" stroke="#b8b8b8"/><line x1="55.79" y1="777.4" x2="55.79" y2="772.85" stroke="#b8b8b8"/><line x1="56.79" y1="777.4" x2="56.79" y2="773.61" stroke="#d6d6d6"/><line x1="57.36" y1="777.4" x2="57.36" y2="775.69" stroke="#cfcfcf"/><line x1="58.33" y1="777.4" x2="58.33" y2="776.26" stroke="#c4c4c4"/><line x1="59.32" y1="777.4" x2="59.32" y2="770" stroke="#c4c4c4"/><line x1="60.3" y1="777.4" x2="60.3" y2="773.78" stroke="#c4c4c4"/><line x1="61.2" y1="777.4" x2="61.2" y2="775.05" stroke="#cfcfcf"/><line x1="62.05" y1="777.4" x2="62.05" y2="776.51" stroke="#cfcfcf"/><line x1="63.12" y1="777.4" x2="63.12" y2="776.45" stroke="#d6d6d6"/><line x1="63.59" y1="777.4" x2="63.59" y2="775.56" stroke="#cfcfcf"/><line x1="64.78" y1="777.4" x2="64.78" y2="776.29" stroke="#cfcfcf"/><line x1="65.41" y1="777.4" x2="65.41" y2="765.75" stroke="#b8b8b8"/><line x1="66.23" y1="777.4" x2="66.23" y2="775.54" stroke="#d6d6d6"/><line x1="66.97" y1="777.4" x2="66.97" y2="770.11" stroke="#cfcfcf"/><line x1="67.53" y1="777.4" x2="67.53" y2="767.68" stroke="#b8b8b8"/><line x1="68.13" y1="777.4" x2="68.13" y2="775.58" stroke="#c4c4c4"/><line x1="69.45" y1="777.4" x2="69.45" y2="773.88" stroke="#b8b8b8"/><line x1="69.99" y1="777.4" x2="69.99" y2="776.19" stroke="#d6d6d6"/><line x1="71.2" y1="777.4" x2="71.2" y2="771.02" stroke="#cfcfcf"/><line x1="71.83" y1="777.4" x2="71.83" y2="776.27" stroke="#cfcfcf"/><line x1="72.31" y1="777.4" x2="72.31" y2="776.62" stroke="#cfcfcf"/><line x1="73.44" y1="777.4" x2="73.44" y2="776.43" stroke="#cfcfcf"/><line x1="73.95" y1="777.4" x2="73.95" y2="776.59" stroke="#cfcfcf"/><line x1="74.93" y1="777.4" x2="74.93" y2="776.33" stroke="#b8b8b8"/><line x1="76.11" y1="777.4" x2="76.11" y2="776.63" stroke="#c4c4c4"/><line x1="76.82" y1="777.4" x2="76.82" y2="776.57" stroke="#c4c4c4"/><line x1="77.41" y1="777.4" x2="77.41" y2="775.13" stroke="#b8b8b8"/><line x1="78.63" y1="777.4" x2="78.63" y2="775.31" stroke="#cfcfcf"/><line x1="79.17" y1="777.4" x2="79.17" y2="775.82" stroke="#b8b8b8"/><line x1="79.84" y1="777.4" x2="79.84" y2="773.25" stroke="#d6d6d6"/><line x1="80.75" y1="777.4" x2="80.75" y2="771.77" stroke="#c4c4c4"/><line x1="81.39" y1="777.4" x2="81.39" y2="775.58" stroke="#cfcfcf"/><line x1="82.08" y1="777.4" x2="82.08" y2="771.95" stroke="#cfcfcf"/><line x1="82.59" y1="777.4" x2="82.59" y2="776.22" stroke="#cfcfcf"/><line x1="83.19" y1="777.4" x2="83.19" y2="776.34" stroke="#c4c4c4"/><line x1="83.71" y1="777.4" x2="83.71" y2="776.63" stroke="#d6d6d6"/><line x1="84.73" y1="777.4" x2="84.73" y2="774.64" stroke="#c4c4c4"/><line x1="85.7" y1="777.4" x2="85.7" y2="771.86" stroke="#d6d6d6"/><line x1="86.76" y1="777.4" x2="86.76" y2="762.95" stroke="#b8b8b8"/><line x1="87.27" y1="777.4" x2="87.27" y2="776.46" stroke="#cfcfcf"/><line x1="87.78" y1="777.4" x2="87.78" y2="775.65" stroke="#c4c4c4"/><line x1="88.92" y1="777.4" x2="88.92" y2="771.99" stroke="#b8b8b8"/><line x1="90.16" y1="777.4" x2="90.16" y2="772.63" stroke="#cfcfcf"/><line x1="91.37" y1="777.4" x2="91.37" y2="775.5" stroke="#b8b8b8"/><line x1="92.15" y1="777.4" x2="92.15" y2="776.64" stroke="#cfcfcf"/><line x1="93.16" y1="777.4" x2="93.16" y2="770.69" stroke="#d6d6d6"/><line x1="93.95" y1="777.4" x2="93.95" y2="774.23" stroke="#b8b8b8"/><line x1="94.8" y1="777.4" x2="94.8" y2="775.68" stroke="#cfcfcf"/><line x1="95.52" y1="777.4" x2="95.52" y2="765.62" stroke="#cfcfcf"/><line x1="96.4" y1="777.4" x2="96.4" y2="775.23" stroke="#d6d6d6"/><line x1="97.64" y1="777.4" x2="97.64" y2="776.34" stroke="#c4c4c4"/><line x1="98.54" y1="777.4" x2="98.54" y2="774.04" stroke="#b8b8b8"/><line x1="99.42" y1="777.4" x2="99.42" y2="776.56" stroke="#d6d6d6"/><line x1="100.04" y1="777.4" x2="100.04" y2="776.16" stroke="#c4c4c4"/><line x1="101.27" y1="777.4" x2="101.27" y2="776.3" stroke="#d6d6d6"/><line x1="101.89" y1="777.4" x2="101.89" y2="776.63" stroke="#cfcfcf"/><line x1="102.97" y1="777.4" x2="102.97" y2="771.44" stroke="#c4c4c4"/><line x1="103.51" y1="777.4" x2="103.51" y2="776.01" stroke="#b8b8b8"/><line x1="104.29" y1="777.4" x2="104.29" y2="775.79" stroke="#b8b8b8"/><line x1="105.02" y1="777.4" x2="105.02" y2="773.19" stroke="#cfcfcf"/><line x1="106.06" y1="777.4" x2="106.06" y2="776.51" stroke="#cfcfcf"/><line x1="107.07" y1="777.4" x2="107.07" y2="776.24" stroke="#d6d6d6"/><line x1="107.73" y1="777.4" x2="107.73" y2="768.41" stroke="#b8b8b8"/><line x1="108.27" y1="777.4" x2="108.27" y2="775.71" stroke="#d6d6d6"/><line x1="109.56" y1="777.4" x2="109.56" y2="774.69" stroke="#b8b8b8"/><line x1="110.23" y1="777.4" x2="110.23" y2="774.43" stroke="#cfcfcf"/><line x1="110.83" y1="777.4" x2="110.83" y2="776.52" stroke="#c4c4c4"/><line x1="111.62" y1="777.4" x2="111.62" y2="773.63" stroke="#cfcfcf"/><line x1="112.43" y1="777.4" x2="112.43" y2="772.32" stroke="#b8b8b8"/><line x1="113.27" y1="777.4" x2="113.27" y2="775.16" stroke="#b8b8b8"/><line x1="114.2" y1="777.4" x2="114.2" y2="774.95" stroke="#d6d6d6"/><line x1="115.06" y1="777.4" x2="115.06" y2="774.96" stroke="#cfcfcf"/><line x1="115.69" y1="777.4" x2="115.69" y2="772.22" stroke="#d6d6d6"/><line x1="116.61" y1="777.4" x2="116.61" y2="773.64" stroke="#cfcfcf"/><line x1="117.36" y1="777.4" x2="117.36" y2="776.64" stroke="#b8b8b8"/><line x1="118.48" y1="777.4" x2="118.48" y2="766.19" stroke="#cfcfcf"/><line x1="119.31" y1="777.4" x2="119.31" y2="776.64" stroke="#c4c4c4"/><line x1="120.17" y1="777.4" x2="120.17" y2="770.57" stroke="#b8b8b8"/><line x1="121.45" y1="777.4" x2="121.45" y2="775.92" stroke="#cfcfcf"/><line x1="122.56" y1="777.4" x2="122.56" y2="776.13" stroke="#c4c4c4"/><line x1="123.47" y1="777.4" x2="123.47" y2="773" stroke="#d6d6d6"/><line x1="124.5" y1="777.4" x2="124.5" y2="771.36" stroke="#c4c4c4"/><line x1="125.22" y1="777.4" x2="125.22" y2="776.62" stroke="#d6d6d6"/><line x1="126.17" y1="777.4" x2="126.17" y2="776.59" stroke="#cfcfcf"/><line x1="127.15" y1="777.4" x2="127.15" y2="776.64" stroke="#b8b8b8"/><line x1="128.07" y1="777.4" x2="128.07" y2="770.76" stroke="#cfcfcf"/><line x1="129.13" y1="777.4" x2="129.13" y2="776.64" stroke="#b8b8b8"/><line x1="130.39" y1="777.4" x2="130.39" y2="773.53" stroke="#c4c4c4"/><line x1="131.25" y1="777.4" x2="131.25" y2="776.63" stroke="#b8b8b8"/><line x1="132.16" y1="777.4" x2="132.16" y2="776.63" stroke="#cfcfcf"/><line x1="133.42" y1="777.4" x2="133.42" y2="776.63" stroke="#cfcfcf"/><line x1="133.89" y1="777.4" x2="133.89" y2="771.35" stroke="#d6d6d6"/><line x1="134.55" y1="777.4" x2="134.55" y2="775.89" stroke="#cfcfcf"/><line x1="135.75" y1="777.4" x2="135.75" y2="775.17" stroke="#b8b8b8"/><line x1="136.21" y1="777.4" x2="136.21" y2="775.1" stroke="#c4c4c4"/><line x1="137.13" y1="777.4" x2="137.13" y2="772.73" stroke="#c4c4c4"/><line x1="138.05" y1="777.4" x2="138.05" y2="772.9" stroke="#c4c4c4"/><line x1="138.69" y1="777.4" x2="138.69" y2="774.17" stroke="#c4c4c4"/><line x1="139.42" y1="777.4" x2="139.42" y2="776.45" stroke="#c4c4c4"/><line x1="140.55" y1="777.4" x2="140.55" y2="776.6" stroke="#c4c4c4"/><line x1="141.11" y1="777.4" x2="141.11" y2="776.64" stroke="#b8b8b8"/><line x1="142.29" y1="777.4" x2="142.29" y2="776.19" stroke="#c4c4c4"/><line x1="142.91" y1="777.4" x2="142.91" y2="775.14" stroke="#cfcfcf"/><line x1="143.53" y1="777.4" x2="143.53" y2="774.71" stroke="#d6d6d6"/><line x1="144.08" y1="777.4" x2="144.08" y2="775.86" stroke="#c4c4c4"/><line x1="145.23" y1="777.4" x2="145.23" y2="766.61" stroke="#b8b8b8"/><line x1="145.8" y1="777.4" x2="145.8" y2="776.6" stroke="#c4c4c4"/><line x1="147.12" y1="777.4" x2="147.12" y2="771.81" stroke="#cfcfcf"/><line x1="147.69" y1="777.4" x2="147.69" y2="774.72" stroke="#cfcfcf"/><line x1="148.42" y1="777.4" x2="148.42" y2="776.02" stroke="#b8b8b8"/><line x1="149.05" y1="777.4" x2="149.05" y2="776.33" stroke="#cfcfcf"/><line x1="150.24" y1="777.4" x2="150.24" y2="776.61" stroke="#d6d6d6"/><line x1="151.04" y1="777.4" x2="151.04" y2="776.6" stroke="#cfcfcf"/><line x1="151.77" y1="777.4" x2="151.77" y2="776.64" stroke="#b8b8b8"/><line x1="152.72" y1="777.4" x2="152.72" y2="776.6" stroke="#d6d6d6"/><line x1="153.87" y1="777.4" x2="153.87" y2="776.54" stroke="#c4c4c4"/><line x1="155.04" y1="777.4" x2="155.04" y2="776.24" stroke="#d6d6d6"/><line x1="156.16" y1="777.4" x2="156.16" y2="773.92" stroke="#c4c4c4"/><line x1="156.67" y1="777.4" x2="156.67" y2="776.4" stroke="#cfcfcf"/><line x1="157.9" y1="777.4" x2="157.9" y2="770.74" stroke="#cfcfcf"/><line x1="158.54" y1="777.4" x2="158.54" y2="771.52" stroke="#d6d6d6"/><line x1="159.18" y1="777.4" x2="159.18" y2="776.23" stroke="#cfcfcf"/><line x1="159.97" y1="777.4" x2="159.97" y2="770.57" stroke="#cfcfcf"/><line x1="161.09" y1="777.4" x2="161.09" y2="762.83" stroke="#c4c4c4"/><line x1="161.76" y1="777.4" x2="161.76" y2="771.73" stroke="#b8b8b8"/><line x1="162.21" y1="777.4" x2="162.21" y2="776.54" stroke="#d6d6d6"/><line x1="163.14" y1="777.4" x2="163.14" y2="775.85" stroke="#cfcfcf"/><line x1="164.15" y1="777.4" x2="164.15" y2="773.42" stroke="#cfcfcf"/><line x1="164.93" y1="777.4" x2="164.93" y2="771.62" stroke="#c4c4c4"/><line x1="166.13" y1="777.4" x2="166.13" y2="775.67" stroke="#b8b8b8"/><line x1="167.41" y1="777.4" x2="167.41" y2="776.19" stroke="#d6d6d6"/><line x1="168.18" y1="777.4" x2="168.18" y2="776.5" stroke="#d6d6d6"/><line x1="169.21" y1="777.4" x2="169.21" y2="764.66" stroke="#cfcfcf"/><line x1="170.21" y1="777.4" x2="170.21" y2="776.23" stroke="#cfcfcf"/><line x1="171.45" y1="777.4" x2="171.45" y2="762.81" stroke="#d6d6d6"/><line x1="171.96" y1="777.4" x2="171.96" y2="772.13" stroke="#b8b8b8"/><line x1="172.63" y1="777.4" x2="172.63" y2="770.34" stroke="#b8b8b8"/><line x1="173.2" y1="777.4" x2="173.2" y2="771.27" stroke="#cfcfcf"/><line x1="173.68" y1="777.4" x2="173.68" y2="776.2" stroke="#cfcfcf"/><line x1="174.44" y1="777.4" x2="174.44" y2="776.62" stroke="#c4c4c4"/><line x1="175.48" y1="777.4" x2="175.48" y2="776.07" stroke="#b8b8b8"/><line x1="176.24" y1="777.4" x2="176.24" y2="774.14" stroke="#c4c4c4"/><line x1="177.53" y1="777.4" x2="177.53" y2="774.24" stroke="#cfcfcf"/><line x1="178.42" y1="777.4" x2="178.42" y2="776.46" stroke="#d6d6d6"/><line x1="179.1" y1="777.4" x2="179.1" y2="775.26" stroke="#c4c4c4"/><line x1="180.11" y1="777.4" x2="180.11" y2="774.05" stroke="#c4c4c4"/><line x1="181" y1="777.4" x2="181" y2="774.95" stroke="#cfcfcf"/><line x1="182" y1="777.4" x2="182" y2="776.64" stroke="#cfcfcf"/><line x1="182.99" y1="777.4" x2="182.99" y2="776.63" stroke="#cfcfcf"/><line x1="184.1" y1="777.4" x2="184.1" y2="772.02" stroke="#c4c4c4"/><line x1="185.11" y1="777.4" x2="185.11" y2="776.33" stroke="#c4c4c4"/><line x1="185.85" y1="777.4" x2="185.85" y2="775.91" stroke="#cfcfcf"/><line x1="187" y1="777.4" x2="187" y2="776.1" stroke="#c4c4c4"/><line x1="187.84" y1="777.4" x2="187.84" y2="774.11" stroke="#c4c4c4"/><line x1="188.61" y1="777.4" x2="188.61" y2="774.95" stroke="#d6d6d6"/><line x1="189.31" y1="777.4" x2="189.31" y2="773.99" stroke="#c4c4c4"/><line x1="190.13" y1="777.4" x2="190.13" y2="776.34" stroke="#d6d6d6"/><line x1="190.64" y1="777.4" x2="190.64" y2="776.64" stroke="#b8b8b8"/><line x1="191.81" y1="777.4" x2="191.81" y2="776.04" stroke="#cfcfcf"/><line x1="192.32" y1="777.4" x2="192.32" y2="776.58" stroke="#cfcfcf"/><line x1="193.38" y1="777.4" x2="193.38" y2="775.91" stroke="#d6d6d6"/><line x1="194.07" y1="777.4" x2="194.07" y2="776.62" stroke="#d6d6d6"/><line x1="194.84" y1="777.4" x2="194.84" y2="776.63" stroke="#d6d6d6"/><line x1="195.67" y1="777.4" x2="195.67" y2="773.5" stroke="#d6d6d6"/><line x1="196.31" y1="777.4" x2="196.31" y2="771.14" stroke="#c4c4c4"/><line x1="196.83" y1="777.4" x2="196.83" y2="764.56" stroke="#b8b8b8"/><line x1="197.97" y1="777.4" x2="197.97" y2="774.19" stroke="#b8b8b8"/><line x1="198.9" y1="777.4" x2="198.9" y2="773.09" stroke="#c4c4c4"/><line x1="199.42" y1="777.4" x2="199.42" y2="776.07" stroke="#cfcfcf"/><line x1="200.06" y1="777.4" x2="200.06" y2="776.64" stroke="#d6d6d6"/><line x1="201.36" y1="777.4" x2="201.36" y2="767.7" stroke="#cfcfcf"/><line x1="202.1" y1="777.4" x2="202.1" y2="776.17" stroke="#c4c4c4"/><line x1="202.63" y1="777.4" x2="202.63" y2="773.34" stroke="#b8b8b8"/><line x1="203.75" y1="777.4" x2="203.75" y2="775.78" stroke="#d6d6d6"/><line x1="204.9" y1="777.4" x2="204.9" y2="776.42" stroke="#cfcfcf"/><line x1="205.98" y1="777.4" x2="205.98" y2="771.99" stroke="#d6d6d6"/><line x1="207.17" y1="777.4" x2="207.17" y2="773.46" stroke="#cfcfcf"/><line x1="208.08" y1="777.4" x2="208.08" y2="774.47" stroke="#b8b8b8"/><line x1="209.34" y1="777.4" x2="209.34" y2="776.55" stroke="#c4c4c4"/><line x1="210.06" y1="777.4" x2="210.06" y2="764.52" stroke="#b8b8b8"/><line x1="210.78" y1="777.4" x2="210.78" y2="776.63" stroke="#c4c4c4"/><line x1="212.03" y1="777.4" x2="212.03" y2="767.1" stroke="#d6d6d6"/><line x1="212.57" y1="777.4" x2="212.57" y2="767.08" stroke="#c4c4c4"/><line x1="213.4" y1="777.4" x2="213.4" y2="772.3" stroke="#d6d6d6"/><line x1="214.4" y1="777.4" x2="214.4" y2="771.57" stroke="#b8b8b8"/><line x1="215.63" y1="777.4" x2="215.63" y2="772" stroke="#cfcfcf"/><line x1="216.5" y1="777.4" x2="216.5" y2="765.64" stroke="#b8b8b8"/><line x1="217.81" y1="777.4" x2="217.81" y2="773.59" stroke="#cfcfcf"/><line x1="218.83" y1="777.4" x2="218.83" y2="769.68" stroke="#c4c4c4"/><line x1="219.91" y1="777.4" x2="219.91" y2="771.02" stroke="#d6d6d6"/><line x1="221.16" y1="777.4" x2="221.16" y2="773.42" stroke="#d6d6d6"/><line x1="222.06" y1="777.4" x2="222.06" y2="773.93" stroke="#c4c4c4"/><line x1="223.23" y1="777.4" x2="223.23" y2="776.64" stroke="#cfcfcf"/><line x1="224.46" y1="777.4" x2="224.46" y2="774.61" stroke="#d6d6d6"/><line x1="224.92" y1="777.4" x2="224.92" y2="776.6" stroke="#b8b8b8"/><line x1="225.55" y1="777.4" x2="225.55" y2="764.62" stroke="#d6d6d6"/><line x1="226.27" y1="777.4" x2="226.27" y2="776.24" stroke="#cfcfcf"/><line x1="227.03" y1="777.4" x2="227.03" y2="774.67" stroke="#b8b8b8"/><line x1="228.14" y1="777.4" x2="228.14" y2="773.71" stroke="#b8b8b8"/><line x1="229.21" y1="777.4" x2="229.21" y2="765.74" stroke="#c4c4c4"/><line x1="230.45" y1="777.4" x2="230.45" y2="776.62" stroke="#d6d6d6"/><line x1="231.74" y1="777.4" x2="231.74" y2="771.52" stroke="#b8b8b8"/><line x1="232.83" y1="777.4" x2="232.83" y2="776.42" stroke="#d6d6d6"/><line x1="233.67" y1="777.4" x2="233.67" y2="776.3" stroke="#c4c4c4"/><line x1="234.71" y1="777.4" x2="234.71" y2="774.48" stroke="#b8b8b8"/><line x1="235.68" y1="777.4" x2="235.68" y2="774.99" stroke="#b8b8b8"/><line x1="236.81" y1="777.4" x2="236.81" y2="776.4" stroke="#c4c4c4"/><line x1="237.82" y1="777.4" x2="237.82" y2="773.9" stroke="#d6d6d6"/><line x1="239.08" y1="777.4" x2="239.08" y2="775.17" stroke="#d6d6d6"/><line x1="240.39" y1="777.4" x2="240.39" y2="773.65" stroke="#cfcfcf"/><line x1="241.07" y1="777.4" x2="241.07" y2="776.6" stroke="#b8b8b8"/><line x1="241.69" y1="777.4" x2="241.69" y2="766.94" stroke="#d6d6d6"/><line x1="242.81" y1="777.4" x2="242.81" y2="772.17" stroke="#c4c4c4"/><line x1="243.77" y1="777.4" x2="243.77" y2="776.59" stroke="#c4c4c4"/><line x1="244.71" y1="777.4" x2="244.71" y2="776.64" stroke="#c4c4c4"/><line x1="245.37" y1="777.4" x2="245.37" y2="763.14" stroke="#d6d6d6"/><line x1="246.05" y1="777.4" x2="246.05" y2="772.46" stroke="#c4c4c4"/><line x1="247.29" y1="777.4" x2="247.29" y2="775.67" stroke="#d6d6d6"/><line x1="247.89" y1="777.4" x2="247.89" y2="772.19" stroke="#cfcfcf"/><line x1="248.58" y1="777.4" x2="248.58" y2="772.26" stroke="#c4c4c4"/><line x1="249.19" y1="777.4" x2="249.19" y2="773.25" stroke="#c4c4c4"/><line x1="249.91" y1="777.4" x2="249.91" y2="774.81" stroke="#cfcfcf"/><line x1="250.49" y1="777.4" x2="250.49" y2="763.48" stroke="#d6d6d6"/><line x1="251.39" y1="777.4" x2="251.39" y2="776.53" stroke="#d6d6d6"/><line x1="251.88" y1="777.4" x2="251.88" y2="773.72" stroke="#c4c4c4"/><line x1="252.69" y1="777.4" x2="252.69" y2="775.89" stroke="#d6d6d6"/><line x1="253.49" y1="777.4" x2="253.49" y2="775.17" stroke="#b8b8b8"/><line x1="254.6" y1="777.4" x2="254.6" y2="775.95" stroke="#b8b8b8"/><line x1="255.78" y1="777.4" x2="255.78" y2="776.63" stroke="#d6d6d6"/><line x1="256.68" y1="777.4" x2="256.68" y2="776.15" stroke="#d6d6d6"/><line x1="257.93" y1="777.4" x2="257.93" y2="776.48" stroke="#b8b8b8"/><line x1="259.02" y1="777.4" x2="259.02" y2="775.35" stroke="#d6d6d6"/><line x1="260.25" y1="777.4" x2="260.25" y2="772.55" stroke="#b8b8b8"/><line x1="260.9" y1="777.4" x2="260.9" y2="772.6" stroke="#b8b8b8"/><line x1="261.96" y1="777.4" x2="261.96" y2="775.76" stroke="#d6d6d6"/><line x1="262.99" y1="777.4" x2="262.99" y2="771.6" stroke="#d6d6d6"/><line x1="264.2" y1="777.4" x2="264.2" y2="776.19" stroke="#c4c4c4"/><line x1="265.22" y1="777.4" x2="265.22" y2="776.19" stroke="#cfcfcf"/><line x1="265.75" y1="777.4" x2="265.75" y2="773.62" stroke="#b8b8b8"/><line x1="266.19" y1="777.4" x2="266.19" y2="776.55" stroke="#d6d6d6"/><line x1="266.79" y1="777.4" x2="266.79" y2="776.12" stroke="#b8b8b8"/><line x1="267.35" y1="777.4" x2="267.35" y2="774.63" stroke="#d6d6d6"/><line x1="267.82" y1="777.4" x2="267.82" y2="772.24" stroke="#b8b8b8"/><line x1="268.39" y1="777.4" x2="268.39" y2="773.8" stroke="#c4c4c4"/><line x1="269.02" y1="777.4" x2="269.02" y2="772.79" stroke="#cfcfcf"/><line x1="269.63" y1="777.4" x2="269.63" y2="773.07" stroke="#b8b8b8"/><line x1="270.09" y1="777.4" x2="270.09" y2="775.08" stroke="#c4c4c4"/><line x1="271" y1="777.4" x2="271" y2="776.56" stroke="#cfcfcf"/><line x1="272.02" y1="777.4" x2="272.02" y2="776.47" stroke="#d6d6d6"/><line x1="273.24" y1="777.4" x2="273.24" y2="774.44" stroke="#b8b8b8"/><line x1="274.05" y1="777.4" x2="274.05" y2="776.61" stroke="#cfcfcf"/><line x1="275.12" y1="777.4" x2="275.12" y2="776.6" stroke="#c4c4c4"/><line x1="276.01" y1="777.4" x2="276.01" y2="776.48" stroke="#cfcfcf"/><line x1="276.97" y1="777.4" x2="276.97" y2="776.57" stroke="#c4c4c4"/><line x1="278.01" y1="777.4" x2="278.01" y2="776.51" stroke="#cfcfcf"/><line x1="278.86" y1="777.4" x2="278.86" y2="776.64" stroke="#cfcfcf"/><line x1="279.77" y1="777.4" x2="279.77" y2="776.64" stroke="#d6d6d6"/><line x1="280.69" y1="777.4" x2="280.69" y2="776.18" stroke="#c4c4c4"/><line x1="281.39" y1="777.4" x2="281.39" y2="774.02" stroke="#d6d6d6"/><line x1="282.48" y1="777.4" x2="282.48" y2="776.64" stroke="#c4c4c4"/><line x1="283.8" y1="777.4" x2="283.8" y2="776.64" stroke="#b8b8b8"/><line x1="284.24" y1="777.4" x2="284.24" y2="768.95" stroke="#d6d6d6"/><line x1="284.97" y1="777.4" x2="284.97" y2="770.62" stroke="#c4c4c4"/><line x1="285.94" y1="777.4" x2="285.94" y2="773.86" stroke="#b8b8b8"/><line x1="286.59" y1="777.4" x2="286.59" y2="776.12" stroke="#c4c4c4"/><line x1="287.26" y1="777.4" x2="287.26" y2="775.66" stroke="#b8b8b8"/><line x1="287.94" y1="777.4" x2="287.94" y2="776.59" stroke="#cfcfcf"/><line x1="288.89" y1="777.4" x2="288.89" y2="772.6" stroke="#c4c4c4"/><line x1="289.87" y1="777.4" x2="289.87" y2="775.7" stroke="#b8b8b8"/><line x1="290.95" y1="777.4" x2="290.95" y2="770.68" stroke="#c4c4c4"/><line x1="291.9" y1="777.4" x2="291.9" y2="776.01" stroke="#c4c4c4"/><line x1="292.9" y1="777.4" x2="292.9" y2="776.79" stroke="#d6d6d6"/><line x1="294.07" y1="777.4" x2="294.07" y2="774.84" stroke="#b8b8b8"/><line x1="294.59" y1="777.4" x2="294.59" y2="774.11" stroke="#d6d6d6"/><line x1="295.25" y1="777.4" x2="295.25" y2="776.2" stroke="#b8b8b8"/><line x1="295.75" y1="777.4" x2="295.75" y2="776.46" stroke="#c4c4c4"/><line x1="296.81" y1="777.4" x2="296.81" y2="772.53" stroke="#c4c4c4"/><line x1="297.38" y1="777.4" x2="297.38" y2="776.33" stroke="#cfcfcf"/><line x1="297.83" y1="777.4" x2="297.83" y2="776.46" stroke="#cfcfcf"/><line x1="298.62" y1="777.4" x2="298.62" y2="776.66" stroke="#cfcfcf"/><line x1="299.93" y1="777.4" x2="299.93" y2="775.27" stroke="#c4c4c4"/><line x1="300.63" y1="777.4" x2="300.63" y2="776.78" stroke="#b8b8b8"/><line x1="301.48" y1="777.4" x2="301.48" y2="772.86" stroke="#d6d6d6"/><line x1="302.76" y1="777.4" x2="302.76" y2="772.97" stroke="#c4c4c4"/><line x1="303.56" y1="777.4" x2="303.56" y2="770.84" stroke="#c4c4c4"/><line x1="304.42" y1="777.4" x2="304.42" y2="776.5" stroke="#b8b8b8"/><line x1="305.19" y1="777.4" x2="305.19" y2="776.79" stroke="#c4c4c4"/><line x1="305.8" y1="777.4" x2="305.8" y2="775.99" stroke="#c4c4c4"/><line x1="306.6" y1="777.4" x2="306.6" y2="775.78" stroke="#b8b8b8"/><line x1="307.44" y1="777.4" x2="307.44" y2="772.03" stroke="#b8b8b8"/><line x1="308.06" y1="777.4" x2="308.06" y2="776.52" stroke="#d6d6d6"/><line x1="308.83" y1="777.4" x2="308.83" y2="773.17" stroke="#d6d6d6"/><line x1="309.72" y1="777.4" x2="309.72" y2="775.91" stroke="#c4c4c4"/><line x1="310.4" y1="777.4" x2="310.4" y2="776.56" stroke="#d6d6d6"/><line x1="310.97" y1="777.4" x2="310.97" y2="776.73" stroke="#cfcfcf"/><line x1="311.43" y1="777.4" x2="311.43" y2="776.63" stroke="#cfcfcf"/><line x1="312.63" y1="777.4" x2="312.63" y2="776.52" stroke="#cfcfcf"/><line x1="313.34" y1="777.4" x2="313.34" y2="775.7" stroke="#c4c4c4"/><line x1="313.92" y1="777.4" x2="313.92" y2="771.36" stroke="#b8b8b8"/><line x1="314.78" y1="777.4" x2="314.78" y2="775.17" stroke="#d6d6d6"/><line x1="315.5" y1="777.4" x2="315.5" y2="776.35" stroke="#c4c4c4"/><line x1="316.69" y1="777.4" x2="316.69" y2="776.05" stroke="#c4c4c4"/><line x1="317.47" y1="777.4" x2="317.47" y2="773.64" stroke="#d6d6d6"/><line x1="318.24" y1="777.4" x2="318.24" y2="775.68" stroke="#cfcfcf"/><line x1="319.35" y1="777.4" x2="319.35" y2="768.77" stroke="#d6d6d6"/><line x1="320.38" y1="777.4" x2="320.38" y2="776.79" stroke="#d6d6d6"/><line x1="321.41" y1="777.4" x2="321.41" y2="772.56" stroke="#c4c4c4"/><line x1="322.55" y1="777.4" x2="322.55" y2="776.71" stroke="#cfcfcf"/><line x1="323.34" y1="777.4" x2="323.34" y2="776.79" stroke="#d6d6d6"/><line x1="324.03" y1="777.4" x2="324.03" y2="775.1" stroke="#b8b8b8"/><line x1="324.65" y1="777.4" x2="324.65" y2="774.59" stroke="#c4c4c4"/><line x1="325.56" y1="777.4" x2="325.56" y2="774.8" stroke="#c4c4c4"/><line x1="326.42" y1="777.4" x2="326.42" y2="776.71" stroke="#d6d6d6"/><line x1="327.49" y1="777.4" x2="327.49" y2="776.79" stroke="#d6d6d6"/><line x1="328.74" y1="777.4" x2="328.74" y2="773.1" stroke="#b8b8b8"/><line x1="329.62" y1="777.4" x2="329.62" y2="775.82" stroke="#d6d6d6"/><line x1="330.85" y1="777.4" x2="330.85" y2="772.31" stroke="#d6d6d6"/><line x1="331.79" y1="777.4" x2="331.79" y2="776.71" stroke="#c4c4c4"/><line x1="332.8" y1="777.4" x2="332.8" y2="776.52" stroke="#d6d6d6"/><line x1="333.27" y1="777.4" x2="333.27" y2="775.07" stroke="#cfcfcf"/><line x1="334.27" y1="777.4" x2="334.27" y2="775.63" stroke="#b8b8b8"/><line x1="334.77" y1="777.4" x2="334.77" y2="776.79" stroke="#b8b8b8"/><line x1="335.55" y1="777.4" x2="335.55" y2="769.93" stroke="#d6d6d6"/><line x1="336.27" y1="777.4" x2="336.27" y2="776.57" stroke="#c4c4c4"/><line x1="337.25" y1="777.4" x2="337.25" y2="776.7" stroke="#c4c4c4"/><line x1="337.9" y1="777.4" x2="337.9" y2="776.79" stroke="#b8b8b8"/><line x1="338.34" y1="777.4" x2="338.34" y2="776" stroke="#cfcfcf"/><line x1="339.34" y1="777.4" x2="339.34" y2="775.94" stroke="#d6d6d6"/><line x1="340.02" y1="777.4" x2="340.02" y2="769.01" stroke="#c4c4c4"/><line x1="341.08" y1="777.4" x2="341.08" y2="775.22" stroke="#c4c4c4"/><line x1="341.66" y1="777.4" x2="341.66" y2="775.63" stroke="#d6d6d6"/><line x1="342.43" y1="777.4" x2="342.43" y2="776.68" stroke="#b8b8b8"/><line x1="343.08" y1="777.4" x2="343.08" y2="776.72" stroke="#c4c4c4"/><line x1="344.34" y1="777.4" x2="344.34" y2="774.84" stroke="#cfcfcf"/><line x1="345.51" y1="777.4" x2="345.51" y2="773.42" stroke="#b8b8b8"/><line x1="346.4" y1="777.4" x2="346.4" y2="768.75" stroke="#b8b8b8"/><line x1="347.62" y1="777.4" x2="347.62" y2="776.79" stroke="#b8b8b8"/><line x1="348.28" y1="777.4" x2="348.28" y2="775.55" stroke="#d6d6d6"/><line x1="348.89" y1="777.4" x2="348.89" y2="773.75" stroke="#c4c4c4"/><line x1="349.84" y1="777.4" x2="349.84" y2="776.43" stroke="#d6d6d6"/><line x1="350.99" y1="777.4" x2="350.99" y2="776.78" stroke="#d6d6d6"/><line x1="351.64" y1="777.4" x2="351.64" y2="770.49" stroke="#c4c4c4"/><line x1="352.32" y1="777.4" x2="352.32" y2="776.7" stroke="#b8b8b8"/><line x1="353.1" y1="777.4" x2="353.1" y2="775.27" stroke="#c4c4c4"/><line x1="354.18" y1="777.4" x2="354.18" y2="772.56" stroke="#cfcfcf"/><line x1="354.98" y1="777.4" x2="354.98" y2="773.2" stroke="#b8b8b8"/><line x1="355.57" y1="777.4" x2="355.57" y2="776.79" stroke="#d6d6d6"/><line x1="356.21" y1="777.4" x2="356.21" y2="774.97" stroke="#c4c4c4"/><line x1="357.53" y1="777.4" x2="357.53" y2="776.51" stroke="#d6d6d6"/><line x1="358.68" y1="777.4" x2="358.68" y2="776.78" stroke="#cfcfcf"/><line x1="359.61" y1="777.4" x2="359.61" y2="773.29" stroke="#b8b8b8"/><line x1="360.16" y1="777.4" x2="360.16" y2="770.49" stroke="#c4c4c4"/><line x1="360.85" y1="777.4" x2="360.85" y2="776.48" stroke="#cfcfcf"/><line x1="361.72" y1="777.4" x2="361.72" y2="776.56" stroke="#cfcfcf"/><line x1="362.3" y1="777.4" x2="362.3" y2="776.79" stroke="#cfcfcf"/><line x1="362.74" y1="777.4" x2="362.74" y2="776.61" stroke="#c4c4c4"/><line x1="364.06" y1="777.4" x2="364.06" y2="771.79" stroke="#b8b8b8"/><line x1="365" y1="777.4" x2="365" y2="776.74" stroke="#d6d6d6"/><line x1="365.69" y1="777.4" x2="365.69" y2="772.77" stroke="#b8b8b8"/><line x1="366.64" y1="777.4" x2="366.64" y2="764.62" stroke="#c4c4c4"/><line x1="367.56" y1="777.4" x2="367.56" y2="775.3" stroke="#cfcfcf"/><line x1="368.67" y1="777.4" x2="368.67" y2="776.65" stroke="#cfcfcf"/><line x1="369.9" y1="777.4" x2="369.9" y2="776.79" stroke="#d6d6d6"/><line x1="371.06" y1="777.4" x2="371.06" y2="774.38" stroke="#b8b8b8"/><line x1="371.77" y1="777.4" x2="371.77" y2="776.06" stroke="#cfcfcf"/><line x1="373.05" y1="777.4" x2="373.05" y2="776.25" stroke="#b8b8b8"/><line x1="373.71" y1="777.4" x2="373.71" y2="766.92" stroke="#c4c4c4"/><line x1="374.44" y1="777.4" x2="374.44" y2="774.95" stroke="#d6d6d6"/><line x1="375.6" y1="777.4" x2="375.6" y2="776.56" stroke="#d6d6d6"/><line x1="376.32" y1="777.4" x2="376.32" y2="776.79" stroke="#cfcfcf"/><line x1="377" y1="777.4" x2="377" y2="776.75" stroke="#cfcfcf"/><line x1="378.1" y1="777.4" x2="378.1" y2="776" stroke="#c4c4c4"/><line x1="378.85" y1="777.4" x2="378.85" y2="776.77" stroke="#c4c4c4"/><line x1="379.67" y1="777.4" x2="379.67" y2="776.79" stroke="#b8b8b8"/><line x1="380.2" y1="777.4" x2="380.2" y2="772.62" stroke="#c4c4c4"/><line x1="380.66" y1="777.4" x2="380.66" y2="770.47" stroke="#d6d6d6"/><line x1="381.49" y1="777.4" x2="381.49" y2="772.46" stroke="#b8b8b8"/><line x1="382.62" y1="777.4" x2="382.62" y2="773.4" stroke="#cfcfcf"/><line x1="383.66" y1="777.4" x2="383.66" y2="772.66" stroke="#c4c4c4"/><line x1="384.8" y1="777.4" x2="384.8" y2="768.83" stroke="#b8b8b8"/><line x1="386.05" y1="777.4" x2="386.05" y2="776.79" stroke="#d6d6d6"/><line x1="387.28" y1="777.4" x2="387.28" y2="773.74" stroke="#cfcfcf"/><line x1="387.83" y1="777.4" x2="387.83" y2="774.84" stroke="#b8b8b8"/><line x1="388.86" y1="777.4" x2="388.86" y2="776.43" stroke="#c4c4c4"/><line x1="389.63" y1="777.4" x2="389.63" y2="767.46" stroke="#b8b8b8"/><line x1="390.47" y1="777.4" x2="390.47" y2="775.78" stroke="#d6d6d6"/><line x1="391.05" y1="777.4" x2="391.05" y2="776.29" stroke="#d6d6d6"/><line x1="391.66" y1="777.4" x2="391.66" y2="776.29" stroke="#cfcfcf"/><line x1="392.87" y1="777.4" x2="392.87" y2="776.78" stroke="#b8b8b8"/><line x1="393.41" y1="777.4" x2="393.41" y2="776.76" stroke="#c4c4c4"/><line x1="394.59" y1="777.4" x2="394.59" y2="774.33" stroke="#d6d6d6"/><line x1="395.09" y1="777.4" x2="395.09" y2="773.59" stroke="#d6d6d6"/><line x1="395.99" y1="777.4" x2="395.99" y2="776.59" stroke="#cfcfcf"/><line x1="397.2" y1="777.4" x2="397.2" y2="776.76" stroke="#c4c4c4"/><line x1="397.71" y1="777.4" x2="397.71" y2="775.96" stroke="#b8b8b8"/><line x1="398.93" y1="777.4" x2="398.93" y2="776.79" stroke="#cfcfcf"/><line x1="400.06" y1="777.4" x2="400.06" y2="775.99" stroke="#c4c4c4"/><line x1="401.22" y1="777.4" x2="401.22" y2="776.77" stroke="#d6d6d6"/><line x1="402.51" y1="777.4" x2="402.51" y2="776.74" stroke="#b8b8b8"/><line x1="403.11" y1="777.4" x2="403.11" y2="776.51" stroke="#b8b8b8"/><line x1="404.35" y1="777.4" x2="404.35" y2="776.79" stroke="#c4c4c4"/><line x1="405.27" y1="777.4" x2="405.27" y2="776.64" stroke="#c4c4c4"/><line x1="406.21" y1="777.4" x2="406.21" y2="772.02" stroke="#d6d6d6"/><line x1="407.27" y1="777.4" x2="407.27" y2="773.87" stroke="#c4c4c4"/><line x1="408.33" y1="777.4" x2="408.33" y2="776.76" stroke="#b8b8b8"/><line x1="408.81" y1="777.4" x2="408.81" y2="776.69" stroke="#d6d6d6"/><line x1="409.79" y1="777.4" x2="409.79" y2="776.57" stroke="#cfcfcf"/><line x1="410.85" y1="777.4" x2="410.85" y2="774.85" stroke="#d6d6d6"/><line x1="411.97" y1="777.4" x2="411.97" y2="776.75" stroke="#d6d6d6"/><line x1="412.79" y1="777.4" x2="412.79" y2="774.11" stroke="#b8b8b8"/><line x1="413.35" y1="777.4" x2="413.35" y2="776.78" stroke="#b8b8b8"/><line x1="414" y1="777.4" x2="414" y2="775.85" stroke="#d6d6d6"/><line x1="415.29" y1="777.4" x2="415.29" y2="776.79" stroke="#c4c4c4"/><line x1="416.56" y1="777.4" x2="416.56" y2="776.51" stroke="#c4c4c4"/><line x1="417.4" y1="777.4" x2="417.4" y2="776.79" stroke="#d6d6d6"/><line x1="418.36" y1="777.4" x2="418.36" y2="775.41" stroke="#cfcfcf"/><line x1="419.4" y1="777.4" x2="419.4" y2="776.72" stroke="#c4c4c4"/><line x1="420.37" y1="777.4" x2="420.37" y2="773.64" stroke="#d6d6d6"/><line x1="421.11" y1="777.4" x2="421.11" y2="774.11" stroke="#cfcfcf"/><line x1="422.04" y1="777.4" x2="422.04" y2="776.79" stroke="#cfcfcf"/><line x1="423.18" y1="777.4" x2="423.18" y2="770.49" stroke="#d6d6d6"/><line x1="424.5" y1="777.4" x2="424.5" y2="774.16" stroke="#c4c4c4"/><line x1="425.36" y1="777.4" x2="425.36" y2="776.56" stroke="#d6d6d6"/><line x1="426.23" y1="777.4" x2="426.23" y2="771.65" stroke="#cfcfcf"/><line x1="427.55" y1="777.4" x2="427.55" y2="776.49" stroke="#cfcfcf"/><line x1="428.88" y1="777.4" x2="428.88" y2="776.79" stroke="#b8b8b8"/><line x1="430.02" y1="777.4" x2="430.02" y2="772.86" stroke="#c4c4c4"/><line x1="430.9" y1="777.4" x2="430.9" y2="774.01" stroke="#cfcfcf"/><line x1="432" y1="777.4" x2="432" y2="776.79" stroke="#d6d6d6"/><line x1="433.04" y1="777.4" x2="433.04" y2="772.36" stroke="#cfcfcf"/><line x1="433.86" y1="777.4" x2="433.86" y2="776.77" stroke="#d6d6d6"/><line x1="435.14" y1="777.4" x2="435.14" y2="768.63" stroke="#cfcfcf"/><line x1="436.27" y1="777.4" x2="436.27" y2="776.79" stroke="#cfcfcf"/><line x1="436.77" y1="777.4" x2="436.77" y2="776.73" stroke="#d6d6d6"/><line x1="437.48" y1="777.4" x2="437.48" y2="774.51" stroke="#b8b8b8"/><line x1="438.33" y1="777.4" x2="438.33" y2="772.08" stroke="#c4c4c4"/><line x1="439.27" y1="777.4" x2="439.27" y2="776.32" stroke="#cfcfcf"/><line x1="440.43" y1="777.4" x2="440.43" y2="776.17" stroke="#c4c4c4"/><line x1="441.24" y1="777.4" x2="441.24" y2="775.68" stroke="#cfcfcf"/><line x1="442.04" y1="777.4" x2="442.04" y2="776.79" stroke="#cfcfcf"/><line x1="443.14" y1="777.4" x2="443.14" y2="775.04" stroke="#cfcfcf"/><line x1="443.94" y1="777.4" x2="443.94" y2="776.21" stroke="#cfcfcf"/><line x1="444.73" y1="777.4" x2="444.73" y2="776.66" stroke="#cfcfcf"/><line x1="445.75" y1="777.4" x2="445.75" y2="776.44" stroke="#c4c4c4"/><line x1="446.78" y1="777.4" x2="446.78" y2="773.41" stroke="#cfcfcf"/><line x1="447.57" y1="777.4" x2="447.57" y2="776.66" stroke="#d6d6d6"/><line x1="448.21" y1="777.4" x2="448.21" y2="776.79" stroke="#b8b8b8"/><line x1="448.97" y1="777.4" x2="448.97" y2="776.41" stroke="#cfcfcf"/><line x1="449.68" y1="777.4" x2="449.68" y2="776.07" stroke="#b8b8b8"/><line x1="450.61" y1="777.4" x2="450.61" y2="776.48" stroke="#cfcfcf"/><line x1="451.69" y1="777.4" x2="451.69" y2="776.79" stroke="#c4c4c4"/><line x1="452.59" y1="777.4" x2="452.59" y2="776.08" stroke="#d6d6d6"/><line x1="453.39" y1="777.4" x2="453.39" y2="766.08" stroke="#c4c4c4"/><line x1="454.16" y1="777.4" x2="454.16" y2="775.75" stroke="#d6d6d6"/><line x1="454.79" y1="777.4" x2="454.79" y2="771.11" stroke="#cfcfcf"/><line x1="455.69" y1="777.4" x2="455.69" y2="771.8" stroke="#d6d6d6"/><line x1="456.66" y1="777.4" x2="456.66" y2="774.23" stroke="#d6d6d6"/><line x1="457.45" y1="777.4" x2="457.45" y2="776.68" stroke="#cfcfcf"/><line x1="458.25" y1="777.4" x2="458.25" y2="776.74" stroke="#cfcfcf"/><line x1="458.97" y1="777.4" x2="458.97" y2="774.12" stroke="#d6d6d6"/><line x1="459.47" y1="777.4" x2="459.47" y2="768.09" stroke="#c4c4c4"/><line x1="460.73" y1="777.4" x2="460.73" y2="766.87" stroke="#c4c4c4"/><line x1="461.69" y1="777.4" x2="461.69" y2="776.79" stroke="#b8b8b8"/><line x1="462.43" y1="777.4" x2="462.43" y2="775.6" stroke="#cfcfcf"/><line x1="463.02" y1="777.4" x2="463.02" y2="776.79" stroke="#c4c4c4"/><line x1="463.8" y1="777.4" x2="463.8" y2="776.36" stroke="#cfcfcf"/><line x1="464.64" y1="777.4" x2="464.64" y2="773.28" stroke="#cfcfcf"/><line x1="465.93" y1="777.4" x2="465.93" y2="776.57" stroke="#cfcfcf"/><line x1="466.99" y1="777.4" x2="466.99" y2="776.49" stroke="#cfcfcf"/><line x1="468.25" y1="777.4" x2="468.25" y2="776.75" stroke="#c4c4c4"/><line x1="469.44" y1="777.4" x2="469.44" y2="776.78" stroke="#b8b8b8"/><line x1="470.24" y1="777.4" x2="470.24" y2="773.29" stroke="#c4c4c4"/><line x1="471.28" y1="777.4" x2="471.28" y2="772.91" stroke="#b8b8b8"/><line x1="71.5" y1="777.4" x2="71.5" y2="728.08" stroke="#c0c0c0"/><line x1="66.3" y1="777.4" x2="66.3" y2="744.2" stroke="#c0c0c0"/><line x1="91.4" y1="777.4" x2="91.4" y2="750.84" stroke="#c0c0c0"/><line x1="86.1" y1="777.4" x2="86.1" y2="755.58" stroke="#c0c0c0"/><line x1="58.7" y1="777.4" x2="58.7" y2="762.79" stroke="#c0c0c0"/><line x1="141.6" y1="777.4" x2="141.6" y2="758.43" stroke="#c0c0c0"/><line x1="97.8" y1="777.4" x2="97.8" y2="760.33" stroke="#c0c0c0"/><line x1="109.5" y1="777.4" x2="109.5" y2="762.22" stroke="#c0c0c0"/><line x1="79.6" y1="777.4" x2="79.6" y2="754.64" stroke="#c0c0c0"/><line x1="94.4" y1="777.4" x2="94.4" y2="758.43" stroke="#c0c0c0"/><line x1="74.4" y1="777.4" x2="74.4" y2="760.33" stroke="#c0c0c0"/><line x1="224.8" y1="777.4" x2="224.8" y2="757.1" stroke="#c0c0c0"/><line x1="229.2" y1="777.4" x2="229.2" y2="749.7" stroke="#c0c0c0"/><line x1="232.7" y1="777.4" x2="232.7" y2="754.64" stroke="#c0c0c0"/><line x1="221.9" y1="777.4" x2="221.9" y2="764.12" stroke="#c0c0c0"/><line x1="218" y1="777.4" x2="218" y2="766.02" stroke="#c0c0c0"/><line x1="236" y1="777.4" x2="236" y2="762.22" stroke="#c0c0c0"/><line x1="213" y1="777.4" x2="213" y2="767.91" stroke="#c0c0c0"/><line x1="246" y1="777.4" x2="246" y2="766.02" stroke="#c0c0c0"/><line x1="252" y1="777.4" x2="252" y2="769.81" stroke="#c0c0c0"/><line x1="160" y1="777.4" x2="160" y2="767.91" stroke="#c0c0c0"/><line x1="188" y1="777.4" x2="188" y2="767.91" stroke="#c0c0c0"/><line x1="196" y1="777.4" x2="196" y2="769.81" stroke="#c0c0c0"/><line x1="270" y1="777.4" x2="270" y2="770.76" stroke="#c0c0c0"/><line x1="300" y1="777.4" x2="300" y2="771.71" stroke="#c0c0c0"/><line x1="330" y1="777.4" x2="330" y2="767.91" stroke="#c0c0c0"/><line x1="342" y1="777.4" x2="342" y2="769.81" stroke="#c0c0c0"/><line x1="360" y1="777.4" x2="360" y2="771.71" stroke="#c0c0c0"/><line x1="395" y1="777.4" x2="395" y2="770.76" stroke="#c0c0c0"/><line x1="420" y1="777.4" x2="420" y2="771.71" stroke="#c0c0c0"/></g>
<g><line x1="62.4" y1="777.4" x2="62.4" y2="717.64" stroke="#9494ff" stroke-width="1.6"/><line x1="63.3" y1="777.4" x2="63.3" y2="739.46" stroke="#9494ff" stroke-width="1.6"/><line x1="101.3" y1="777.4" x2="101.3" y2="709.11" stroke="#9494ff" stroke-width="1.6"/><line x1="122.2" y1="777.4" x2="122.2" y2="745.15" stroke="#9494ff" stroke-width="1.6"/><line x1="139.4" y1="777.4" x2="139.4" y2="631.33" stroke="#9494ff" stroke-width="1.6"/><line x1="171.5" y1="777.4" x2="171.5" y2="752.74" stroke="#9494ff" stroke-width="1.6"/><line x1="177.2" y1="777.4" x2="177.2" y2="625.64" stroke="#9494ff" stroke-width="1.6"/><line x1="206.4" y1="777.4" x2="206.4" y2="761.28" stroke="#9494ff" stroke-width="1.6"/><line x1="233.6" y1="777.4" x2="233.6" y2="745.15" stroke="#9494ff" stroke-width="1.6"/><line x1="241.6" y1="777.4" x2="241.6" y2="745.15" stroke="#9494ff" stroke-width="1.6"/><line x1="244.4" y1="777.4" x2="244.4" y2="733.77" stroke="#9494ff" stroke-width="1.6"/><line x1="258" y1="777.4" x2="258" y2="769.81" stroke="#9494ff" stroke-width="1.6"/><line x1="260.5" y1="777.4" x2="260.5" y2="762.22" stroke="#9494ff" stroke-width="1.6"/><line x1="334.6" y1="777.4" x2="334.6" y2="762.22" stroke="#9494ff" stroke-width="1.6"/><line x1="339.7" y1="777.4" x2="339.7" y2="673.06" stroke="#9494ff" stroke-width="1.6"/><line x1="340.3" y1="777.4" x2="340.3" y2="729.98" stroke="#9494ff" stroke-width="1.6"/><line x1="382.1" y1="777.4" x2="382.1" y2="764.12" stroke="#9494ff" stroke-width="1.6"/><line x1="387.6" y1="777.4" x2="387.6" y2="688.24" stroke="#9494ff" stroke-width="1.6"/><line x1="388.3" y1="777.4" x2="388.3" y2="739.46" stroke="#9494ff" stroke-width="1.6"/><line x1="442.5" y1="777.4" x2="442.5" y2="766.97" stroke="#9494ff" stroke-width="1.6"/><line x1="463" y1="777.4" x2="463" y2="772.66" stroke="#9494ff" stroke-width="1.6"/><line x1="99.6" y1="777.4" x2="99.6" y2="587.7" stroke="#ff6e6e" stroke-width="1.4"/><line x1="104.5" y1="777.4" x2="104.5" y2="716.7" stroke="#ff6e6e" stroke-width="1.4"/><line x1="120.2" y1="777.4" x2="120.2" y2="764.12" stroke="#ff6e6e" stroke-width="1.4"/><line x1="125.1" y1="777.4" x2="125.1" y2="716.7" stroke="#ff6e6e" stroke-width="1.4"/><line x1="136.8" y1="777.4" x2="136.8" y2="767.91" stroke="#ff6e6e" stroke-width="1.4"/><line x1="174.3" y1="777.4" x2="174.3" y2="749.7" stroke="#ff6e6e" stroke-width="1.4"/><line x1="179.5" y1="777.4" x2="179.5" y2="764.12" stroke="#ff6e6e" stroke-width="1.4"/><line x1="226.7" y1="777.4" x2="226.7" y2="759.38" stroke="#ff6e6e" stroke-width="1.4"/><line x1="224.5" y1="777.4" x2="224.5" y2="766.02" stroke="#ff6e6e" stroke-width="1.4"/><line x1="229" y1="777.4" x2="229" y2="762.22" stroke="#ff6e6e" stroke-width="1.4"/></g>
<line x1="54" y1="587.1" x2="54" y2="778" stroke="#000" stroke-width="1.3" />
<line x1="53.4" y1="777.4" x2="472" y2="777.4" stroke="#000" stroke-width="1.3" />
<line x1="51.8" y1="777.4" x2="54" y2="777.4" stroke="#000" stroke-width="1.3" />
<text x="50.8" y="781.2" font-size="10.9" text-anchor="end" stroke="#000" >0</text>
<line x1="51.8" y1="739.46" x2="54" y2="739.46" stroke="#000" stroke-width="1.3" />
<text x="50.8" y="743.26" font-size="10.9" text-anchor="end" stroke="#000" >20</text>
<line x1="51.8" y1="701.52" x2="54" y2="701.52" stroke="#000" stroke-width="1.3" />
<text x="50.8" y="705.32" font-size="10.9" text-anchor="end" stroke="#000" >40</text>
<line x1="51.8" y1="663.58" x2="54" y2="663.58" stroke="#000" stroke-width="1.3" />
<text x="50.8" y="667.38" font-size="10.9" text-anchor="end" stroke="#000" >60</text>
<line x1="51.8" y1="625.64" x2="54" y2="625.64" stroke="#000" stroke-width="1.3" />
<text x="50.8" y="629.44" font-size="10.9" text-anchor="end" stroke="#000" >80</text>
<line x1="51.8" y1="587.7" x2="54" y2="587.7" stroke="#000" stroke-width="1.3" />
<text x="50.8" y="591.5" font-size="10.9" text-anchor="end" stroke="#000" >100</text>
<line x1="83" y1="777.4" x2="83" y2="779.2" stroke="#000" stroke-width="1.3" />
<text x="83" y="790.3" font-size="10.9" text-anchor="middle" stroke="#000" >200</text>
<line x1="112.53" y1="777.4" x2="112.53" y2="779.2" stroke="#000" stroke-width="1.3" />
<text x="112.53" y="790.3" font-size="10.9" text-anchor="middle" stroke="#000" >300</text>
<line x1="142.06" y1="777.4" x2="142.06" y2="779.2" stroke="#000" stroke-width="1.3" />
<text x="142.06" y="790.3" font-size="10.9" text-anchor="middle" stroke="#000" >400</text>
<line x1="171.59" y1="777.4" x2="171.59" y2="779.2" stroke="#000" stroke-width="1.3" />
<text x="171.59" y="790.3" font-size="10.9" text-anchor="middle" stroke="#000" >500</text>
<line x1="201.12" y1="777.4" x2="201.12" y2="779.2" stroke="#000" stroke-width="1.3" />
<text x="201.12" y="790.3" font-size="10.9" text-anchor="middle" stroke="#000" >600</text>
<line x1="230.65" y1="777.4" x2="230.65" y2="779.2" stroke="#000" stroke-width="1.3" />
<text x="230.65" y="790.3" font-size="10.9" text-anchor="middle" stroke="#000" >700</text>
<line x1="260.18" y1="777.4" x2="260.18" y2="779.2" stroke="#000" stroke-width="1.3" />
<text x="260.18" y="790.3" font-size="10.9" text-anchor="middle" stroke="#000" >800</text>
<line x1="289.71" y1="777.4" x2="289.71" y2="779.2" stroke="#000" stroke-width="1.3" />
<text x="289.71" y="790.3" font-size="10.9" text-anchor="middle" stroke="#000" >900</text>
<line x1="319.24" y1="777.4" x2="319.24" y2="779.2" stroke="#000" stroke-width="1.3" />
<text x="319.24" y="790.3" font-size="10.9" text-anchor="middle" stroke="#000" >1000</text>
<line x1="348.77" y1="777.4" x2="348.77" y2="779.2" stroke="#000" stroke-width="1.3" />
<text x="348.77" y="790.3" font-size="10.9" text-anchor="middle" stroke="#000" >1100</text>
<line x1="378.3" y1="777.4" x2="378.3" y2="779.2" stroke="#000" stroke-width="1.3" />
<text x="378.3" y="790.3" font-size="10.9" text-anchor="middle" stroke="#000" >1200</text>
<line x1="407.83" y1="777.4" x2="407.83" y2="779.2" stroke="#000" stroke-width="1.3" />
<text x="407.83" y="790.3" font-size="10.9" text-anchor="middle" stroke="#000" >1300</text>
<line x1="437.36" y1="777.4" x2="437.36" y2="779.2" stroke="#000" stroke-width="1.3" />
<text x="437.36" y="790.3" font-size="10.9" text-anchor="middle" stroke="#000" >1400</text>
<line x1="466.89" y1="777.4" x2="466.89" y2="779.2" stroke="#000" stroke-width="1.3" />
<text x="466.89" y="790.3" font-size="10.9" text-anchor="middle" stroke="#000" >1500</text>
<text x="276" y="802" font-size="11.3" text-anchor="middle" stroke="#000" font-style="italic" >m/z</text>
<text x="24" y="667.8" font-size="11.3" text-anchor="middle" stroke="#000" transform="rotate(-90 24 667.8)" >Relative Abundance</text>
<text x="79.6" y="582.9" font-size="11.2" fill="#f83424" stroke="#f83424" >b3-H<tspan font-size="9.0" dx="0.3" dy="3.2">2</tspan><tspan dx="0.3" dy="-3.2">O</tspan></text>
<text x="57.8" y="713.1" font-size="11.2" fill="#3030f8" stroke="#3030f8" >y1-NH<tspan font-size="6.8" dx="0.8" dy="2.4">3</tspan></text>
<text x="101.6" y="706.8" font-size="11.2" fill="#3030f8" stroke="#3030f8" >y2</text>
<text x="107.3" y="726" font-size="11.2" fill="#f83424" stroke="#f83424" >b3</text>
<text x="121.6" y="713.7" font-size="11.2" fill="#f83424" stroke="#f83424" >b4</text>
<text x="113" y="744.6" font-size="11.2" fill="#3030f8" stroke="#3030f8" >y3</text>
<text x="134.5" y="631.5" font-size="11.2" fill="#3030f8" stroke="#3030f8" >y4</text>
<text x="140.2" y="767.5" font-size="11.2" fill="#f83424" stroke="#f83424" >b5</text>
<text x="172.9" y="623.8" font-size="11.2" fill="#3030f8" stroke="#3030f8" >y5</text>
<text x="179.5" y="760.3" font-size="11.2" fill="#f83424" stroke="#f83424" >b6</text>
<text x="220.1" y="757.5" font-size="11.2" fill="#f83424" stroke="#f83424" >b7</text>
<text x="336.2" y="669.9" font-size="11.2" fill="#3030f8" stroke="#3030f8" >y10</text>
<text x="385.3" y="685.6" font-size="11.2" fill="#3030f8" stroke="#3030f8" >y11</text>
<text x="434.8" y="762" font-size="11.2" fill="#3030f8" stroke="#3030f8" >y13</text>
<text x="458.2" y="769.4" font-size="11.2" fill="#3030f8" stroke="#3030f8" >y14</text>
<text x="134.6" y="584.2" font-size="13.0" text-anchor="middle" stroke="#000" >G</text>
<text x="148.8" y="584.2" font-size="13.0" text-anchor="middle" stroke="#000" >T</text>
<text x="165.3" y="584.2" font-size="13.0" text-anchor="middle" stroke="#000" >I</text>
<text x="183" y="584.2" font-size="13.0" text-anchor="middle" stroke="#000" >A</text>
<text x="199.5" y="584.2" font-size="13.0" text-anchor="middle" stroke="#000" >G</text>
<text x="219" y="584.2" font-size="13.0" text-anchor="middle" stroke="#000" >Q</text>
<text x="236.6" y="584.2" font-size="13.0" text-anchor="middle" stroke="#000" >Y</text>
<text x="252.3" y="584.2" font-size="13.0" text-anchor="middle" stroke="#000" >C</text>
<text x="280.5" y="584.2" font-size="13.0" text-anchor="middle" stroke="#000" >V</text>
<text x="295.5" y="584.2" font-size="13.0" text-anchor="middle" stroke="#000" >Y</text>
<text x="311.6" y="584.2" font-size="13.0" text-anchor="middle" stroke="#000" >S</text>
<text x="326" y="584.2" font-size="13.0" text-anchor="middle" stroke="#000" >C</text>
<text x="356.6" y="584.2" font-size="13.0" text-anchor="middle" stroke="#000" >E</text>
<text x="371" y="584.2" font-size="13.0" text-anchor="middle" stroke="#000" >G</text>
<text x="388" y="584.2" font-size="13.0" text-anchor="middle" stroke="#000" >A</text>
<text x="403.2" y="584.2" font-size="13.0" text-anchor="middle" stroke="#000" >N</text>
<text x="420.3" y="584.2" font-size="13.0" text-anchor="middle" stroke="#000" >K</text>
<text x="258.4" y="589.6" font-size="12.8" stroke="#000" >66</text>
<text x="331.8" y="589.6" font-size="12.8" stroke="#000" >70</text>
<polyline points="151.5,595.7 158.5,591 158.5,568.6 165.2,564.5" fill="none" stroke="#000" stroke-width="1.5" />
<polyline points="164.7,595.7 171.7,591 171.7,568.6 178.4,564.5" fill="none" stroke="#000" stroke-width="1.5" />
<polyline points="183.5,595.7 190.5,591 190.5,568.6 197.2,564.5" fill="none" stroke="#000" stroke-width="1.5" />
<polyline points="202,595.7 209,591 209,568.6 215.7,564.5" fill="none" stroke="#000" stroke-width="1.5" />
<polyline points="219.7,595.7 226.7,591 226.7,568.6 233.4,564.5" fill="none" stroke="#000" stroke-width="1.5" />
<polyline points="236.2,595.7 243.2,591 243.2,568.6 249.9,564.5" fill="none" stroke="#000" stroke-width="1.5" />
<polyline points="349.5,590.3 349.5,568.4 356.2,564.3" fill="none" stroke="#000" stroke-width="1.5" />
<polyline points="357.5,595.7 364.5,591 364.5,567.2 371.2,563.1" fill="none" stroke="#000" stroke-width="1.5" />
<polyline points="379.1,590.3 379.1,567.4 385.8,563.3" fill="none" stroke="#000" stroke-width="1.5" />
<polyline points="389.2,595 396.2,590.3 396.2,567.6 402.9,563.5" fill="none" stroke="#000" stroke-width="1.5" />
<polyline points="411.1,590.3 411.1,567.2 417.8,563.1" fill="none" stroke="#000" stroke-width="1.5" />
<text x="156.1" y="566.5" font-size="11.3" fill="#3030f8" stroke="#3030f8" transform="rotate(-40 156.1 566.5)" >y15</text>
<text x="170.1" y="566.5" font-size="11.3" fill="#3030f8" stroke="#3030f8" transform="rotate(-40 170.1 566.5)" >y14</text>
<text x="187.3" y="566.5" font-size="11.3" fill="#3030f8" stroke="#3030f8" transform="rotate(-40 187.3 566.5)" >y13</text>
<text x="205.5" y="566.5" font-size="11.3" fill="#3030f8" stroke="#3030f8" transform="rotate(-40 205.5 566.5)" >y12</text>
<text x="223" y="566.5" font-size="11.3" fill="#3030f8" stroke="#3030f8" transform="rotate(-40 223 566.5)" >y11</text>
<text x="239.2" y="566.5" font-size="11.3" fill="#3030f8" stroke="#3030f8" transform="rotate(-40 239.2 566.5)" >y10</text>
<text x="152.5" y="608" font-size="10.8" fill="#f83424" stroke="#f83424" transform="rotate(-40 152.5 608)" >b2</text>
<text x="168.7" y="608" font-size="10.8" fill="#f83424" stroke="#f83424" transform="rotate(-40 168.7 608)" >b3</text>
<text x="187.5" y="608" font-size="10.8" fill="#f83424" stroke="#f83424" transform="rotate(-40 187.5 608)" >b4</text>
<text x="206" y="608" font-size="10.8" fill="#f83424" stroke="#f83424" transform="rotate(-40 206 608)" >b5</text>
<text x="223.7" y="608" font-size="10.8" fill="#f83424" stroke="#f83424" transform="rotate(-40 223.7 608)" >b6</text>
<text x="240.2" y="608" font-size="10.8" fill="#f83424" stroke="#f83424" transform="rotate(-40 240.2 608)" >b7</text>
<text x="346" y="566" font-size="11.3" fill="#3030f8" stroke="#3030f8" transform="rotate(-40 346 566)" >y5</text>
<text x="361" y="566" font-size="11.3" fill="#3030f8" stroke="#3030f8" transform="rotate(-40 361 566)" >y4</text>
<text x="375.6" y="566" font-size="11.3" fill="#3030f8" stroke="#3030f8" transform="rotate(-40 375.6 566)" >y3</text>
<text x="392.7" y="566" font-size="11.3" fill="#3030f8" stroke="#3030f8" transform="rotate(-40 392.7 566)" >y3</text>
<text x="407.6" y="566" font-size="11.3" fill="#3030f8" stroke="#3030f8" transform="rotate(-40 407.6 566)" >y2</text>
<text x="360.5" y="608.5" font-size="10.8" fill="#f83424" stroke="#f83424" transform="rotate(-40 360.5 608.5)" >b13</text>
<text x="392.2" y="608.5" font-size="10.8" fill="#f83424" stroke="#f83424" transform="rotate(-40 392.2 608.5)" >b14</text>
<polyline points="254.5,590.5 254.5,617 271.5,617" fill="none" stroke="#000" stroke-width="1.3" />
<polyline points="308.8,617 326.7,617 326.7,589" fill="none" stroke="#000" stroke-width="1.3" />
<line x1="283.4" y1="617" x2="297.8" y2="617" stroke="#000" stroke-width="1.3" />
<text x="277.6" y="621.5" font-size="12" text-anchor="middle" stroke="#000" font-style="italic" >S</text>
<text x="303.9" y="621.5" font-size="12" text-anchor="middle" stroke="#000" font-style="italic" >S</text>
</svg>
</body></html>
